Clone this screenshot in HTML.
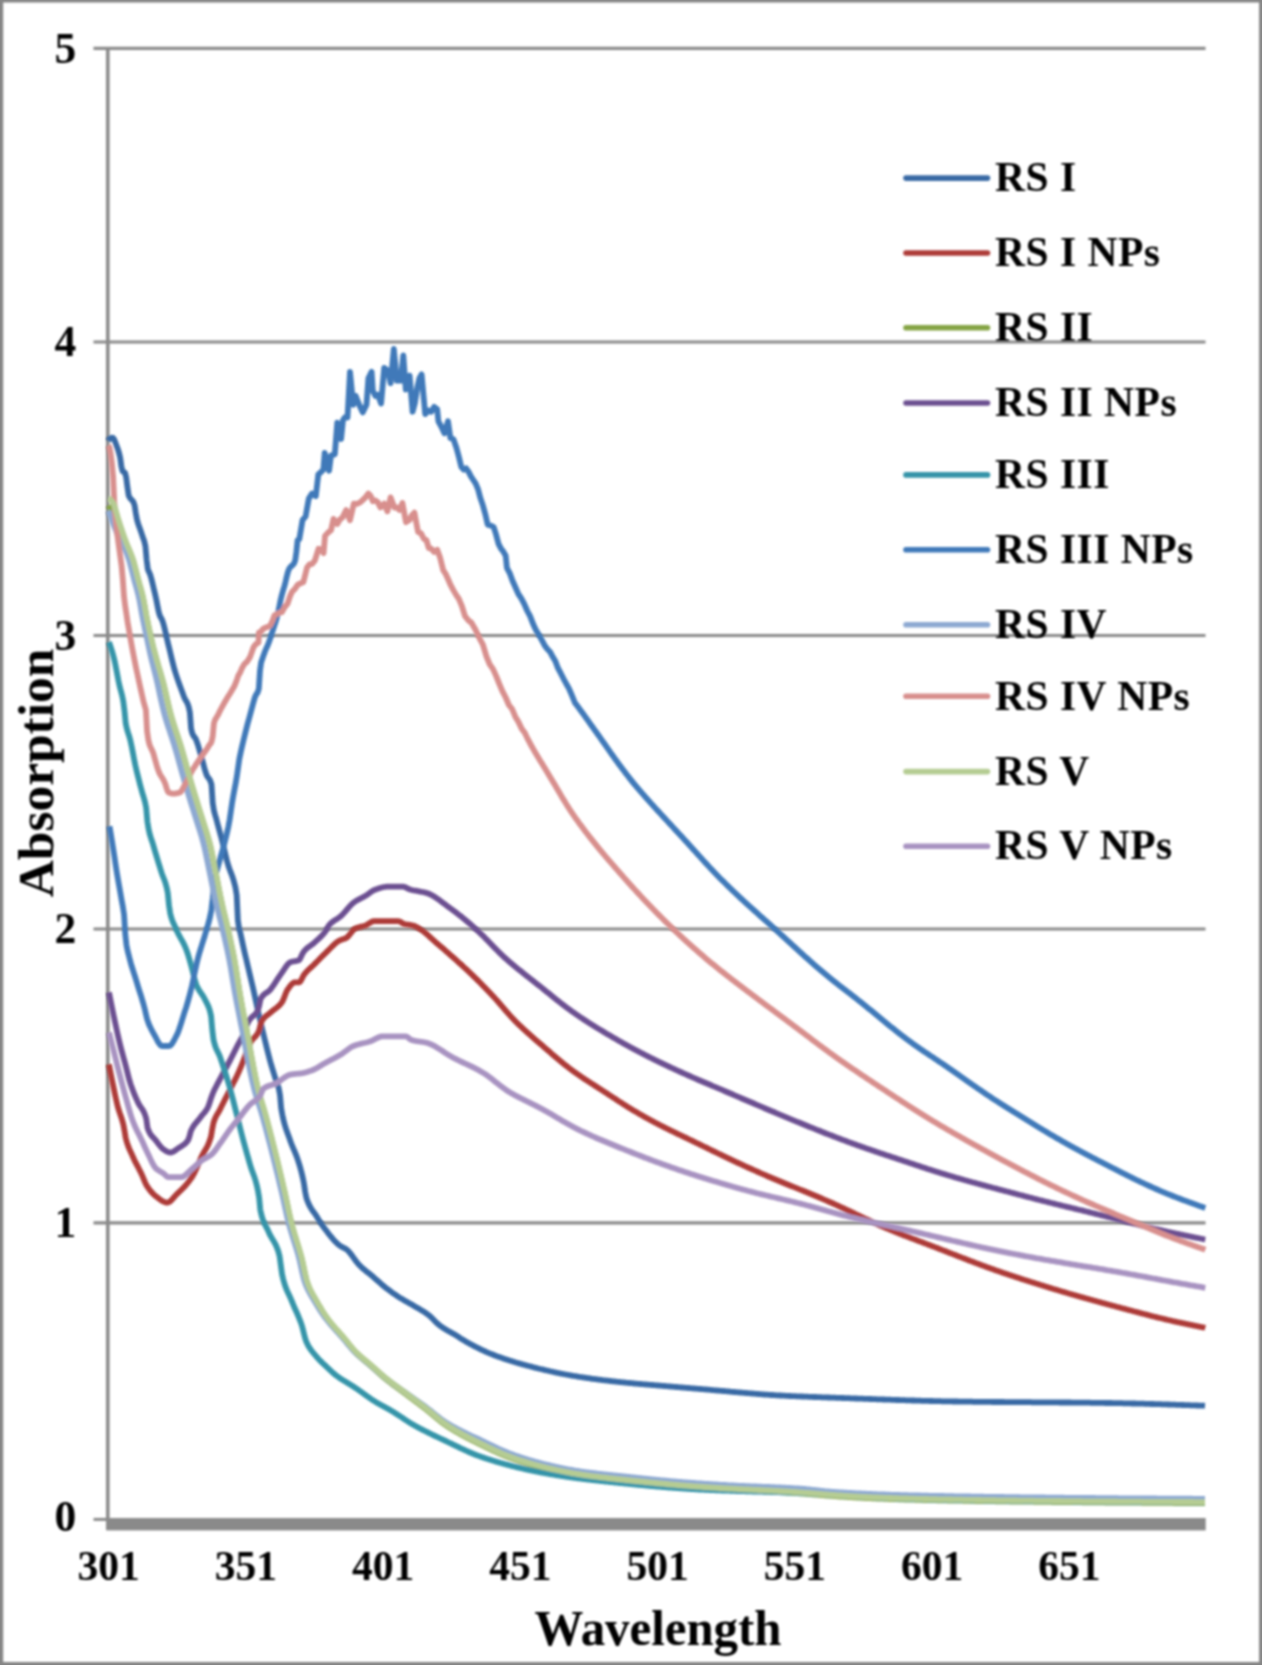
<!DOCTYPE html>
<html><head><meta charset="utf-8"><title>Absorption spectra</title>
<style>html,body{margin:0;padding:0;background:#fff;}body{width:1262px;height:1665px;overflow:hidden;font-family:"Liberation Serif",serif;}svg{display:block;}text{font-family:"Liberation Serif",serif;font-weight:bold;fill:#000;}</style>
</head><body>
<svg width="1262" height="1665" viewBox="0 0 1262 1665">
<defs><filter id="b" x="-2%" y="-2%" width="104%" height="104%"><feGaussianBlur stdDeviation="0.9"/></filter><filter id="c" x="-2%" y="-2%" width="104%" height="104%"><feGaussianBlur stdDeviation="0.9"/></filter></defs>
<rect x="0" y="0" width="1262" height="1665" fill="#ffffff"/>
<g filter="url(#b)">
<path fill="#858585" fill-rule="evenodd" d="M-20,-20H1282V1685H-20Z M3.2,2.5V1662H1259.1V2.5Z"/>
<line x1="93.5" y1="48.3" x2="1205.5" y2="48.3" stroke="#8a8a8a" stroke-width="3.2"/>
<line x1="93.5" y1="342.0" x2="1205.5" y2="342.0" stroke="#8a8a8a" stroke-width="3.2"/>
<line x1="93.5" y1="635.5" x2="1205.5" y2="635.5" stroke="#8a8a8a" stroke-width="3.2"/>
<line x1="93.5" y1="929.0" x2="1205.5" y2="929.0" stroke="#8a8a8a" stroke-width="3.2"/>
<line x1="93.5" y1="1222.9" x2="1205.5" y2="1222.9" stroke="#8a8a8a" stroke-width="3.2"/>
<line x1="93.5" y1="1519.4" x2="108" y2="1519.4" stroke="#8a8a8a" stroke-width="3.0"/>
<line x1="107.8" y1="47" x2="107.8" y2="1530" stroke="#8a8a8a" stroke-width="3.6"/>
<rect x="106.3" y="1518" width="1099.4" height="12.4" fill="#8a8a8a"/>
</g>
<g filter="url(#c)">
<polyline fill="none" stroke="#3969A4" stroke-width="5.8" stroke-linejoin="round" stroke-linecap="butt" points="108.2,440.9 109.4,439.0 110.6,438.0 111.8,437.7 113.0,437.8 114.2,439.5 115.4,442.5 116.6,445.7 117.8,448.9 119.0,452.8 120.2,457.6 121.4,466.5 122.6,471.2 123.8,472.0 125.0,472.7 126.2,477.3 127.4,486.9 128.6,495.2 129.8,497.7 131.0,499.2 132.2,500.3 133.4,502.0 134.6,505.4 135.8,513.2 137.0,519.8 138.2,523.9 139.4,527.3 140.6,530.5 141.8,534.2 143.0,537.7 144.2,541.0 145.4,546.1 146.6,559.5 147.8,569.1 149.0,572.1 150.2,574.6 151.4,578.7 152.6,583.6 153.8,588.8 155.1,594.2 156.3,599.6 157.5,605.9 158.7,611.8 159.9,615.8 161.1,618.0 162.3,620.4 163.5,624.1 164.7,628.8 165.9,634.0 167.1,639.3 168.3,644.5 169.5,649.3 170.7,654.4 171.9,659.5 173.1,664.3 174.3,668.9 175.5,672.9 176.7,676.6 177.9,680.1 179.1,683.4 180.3,686.7 181.5,689.9 182.7,693.2 183.9,696.6 185.1,699.2 186.3,701.2 187.5,703.5 188.7,706.9 189.9,712.5 191.1,728.8 192.3,733.5 193.5,735.9 194.7,737.4 195.9,739.2 197.1,742.4 198.3,746.2 199.5,750.3 200.7,754.5 201.9,758.7 203.1,763.1 204.3,767.7 205.5,771.8 206.7,775.2 207.9,777.3 209.1,778.8 210.3,780.8 211.5,784.4 212.7,803.0 213.9,810.4 215.1,815.0 216.3,818.9 217.5,823.6 218.7,828.0 219.9,832.4 221.1,836.8 222.3,841.5 223.5,846.4 224.7,851.5 225.9,856.5 227.1,861.3 228.3,865.5 229.5,869.0 230.7,872.1 231.9,875.2 233.1,878.7 234.3,883.1 235.5,887.8 236.7,895.1 237.9,920.5 239.1,928.5 240.3,932.6 241.5,938.2 242.7,943.8 243.9,949.3 245.1,954.6 246.4,959.9 247.6,965.1 248.8,970.2 250.0,975.2 251.2,980.3 252.4,985.4 253.6,990.7 254.8,996.1 256.0,1001.7 257.2,1007.2 258.4,1012.6 259.6,1017.9 260.8,1023.0 262.0,1028.1 263.2,1033.1 264.4,1038.1 265.6,1043.0 266.8,1048.0 268.0,1052.8 269.2,1057.5 270.4,1062.0 271.6,1066.1 272.8,1070.1 274.0,1074.0 275.2,1077.8 276.4,1081.6 277.6,1084.7 278.8,1088.4 280.0,1095.1 281.2,1108.5 282.4,1115.1 283.6,1120.5 284.8,1125.0 286.0,1128.9 287.2,1132.3 288.4,1135.5 289.6,1138.8 290.8,1142.2 292.0,1145.3 293.2,1148.2 294.4,1150.9 295.6,1153.8 296.8,1156.9 298.0,1160.4 299.2,1164.2 300.4,1168.2 301.6,1172.7 302.8,1177.7 304.0,1183.8 305.2,1192.0 306.4,1198.0 307.6,1201.3 308.8,1204.1 310.0,1206.5 311.2,1208.5 312.4,1210.4 313.6,1212.0 314.8,1213.7 316.0,1215.4 317.2,1217.3 318.4,1219.3 319.6,1221.2 320.8,1223.0 322.0,1224.8 323.2,1226.5 324.4,1228.2 325.6,1229.8 326.8,1231.3 328.0,1232.9 329.2,1234.5 330.4,1236.0 331.6,1237.4 332.8,1238.9 334.0,1240.2 335.2,1241.5 336.4,1242.7 337.7,1243.9 338.9,1244.9 340.1,1245.8 341.3,1246.6 342.5,1247.2 343.7,1247.8 344.9,1248.4 346.1,1249.1 347.3,1250.0 348.5,1251.2 349.7,1252.6 350.9,1254.1 352.1,1255.7 353.3,1257.4 354.5,1259.1 355.7,1260.7 356.9,1262.3 358.1,1263.8 359.3,1265.1 360.5,1266.2 361.7,1267.4 362.9,1268.4 364.1,1269.5 365.3,1270.4 366.5,1271.4 367.7,1272.4 368.9,1273.3 370.1,1274.3 371.3,1275.3 372.5,1276.3 373.7,1277.3 374.9,1278.4 376.1,1279.4 377.3,1280.5 378.5,1281.6 379.7,1282.6 380.9,1283.7 382.1,1284.7 383.3,1285.7 384.5,1286.7 385.7,1287.7 386.9,1288.6 388.1,1289.5 389.3,1290.4 390.5,1291.3 391.7,1292.2 392.9,1293.1 394.1,1293.9 395.3,1294.7 396.5,1295.5 397.7,1296.3 398.9,1297.1 400.1,1297.9 401.3,1298.6 402.5,1299.3 403.7,1300.0 404.9,1300.7 406.1,1301.4 407.3,1302.0 408.5,1302.7 409.7,1303.4 410.9,1304.1 412.1,1304.7 413.3,1305.5 414.5,1306.2 415.7,1306.9 416.9,1307.6 418.1,1308.2 419.3,1308.9 420.5,1309.7 421.7,1310.4 422.9,1311.1 424.1,1311.9 425.3,1312.7 426.5,1313.5 427.7,1314.4 429.0,1315.3 430.2,1316.4 431.4,1317.5 432.6,1318.7 433.8,1319.9 435.0,1321.2 436.2,1322.4 437.4,1323.5 438.6,1324.6 439.8,1325.6 441.0,1326.4 442.2,1327.3 443.4,1328.0 444.6,1328.8 445.8,1329.5 447.0,1330.2 448.2,1330.9 449.4,1331.6 450.6,1332.2 451.8,1332.9 453.0,1333.6 454.2,1334.2 455.4,1334.9 456.6,1335.7 457.8,1336.4 459.0,1337.2 460.2,1338.1 461.4,1338.9 462.6,1339.6 463.8,1340.3 465.0,1341.0 466.2,1341.7 467.4,1342.4 468.6,1343.1 469.8,1343.8 471.0,1344.4 472.2,1345.0 473.4,1345.7 474.6,1346.3 475.8,1346.9 477.0,1347.5 478.2,1348.1 479.4,1348.7 480.6,1349.3 481.8,1349.9 483.0,1350.4 484.2,1351.0 485.4,1351.5 486.6,1352.1 487.8,1352.6 489.0,1353.1 490.2,1353.6 491.4,1354.1 492.6,1354.5 493.8,1355.0 495.0,1355.5 496.2,1355.9 497.4,1356.4 498.6,1356.8 499.8,1357.2 501.0,1357.6 502.2,1358.1 503.4,1358.5 504.6,1358.9 505.8,1359.3 507.0,1359.7 508.2,1360.1 509.4,1360.5 510.6,1360.8 511.8,1361.2 513.0,1361.6 514.2,1362.0 515.4,1362.3 516.6,1362.7 517.8,1363.0 519.0,1363.4 520.3,1363.7 521.5,1364.1 522.7,1364.4 523.9,1364.7 525.1,1365.0 526.3,1365.4 527.5,1365.7 528.7,1366.0 529.9,1366.3 531.1,1366.6 532.3,1366.9 533.5,1367.3 534.7,1367.6 535.9,1367.9 537.1,1368.2 538.3,1368.5 539.5,1368.8 540.7,1369.0 541.9,1369.3 543.1,1369.6 544.3,1369.9 545.5,1370.2 546.7,1370.5 547.9,1370.7 549.1,1371.0 550.3,1371.3 551.5,1371.5 552.7,1371.8 553.9,1372.1 555.1,1372.3 556.3,1372.6 557.5,1372.8 558.7,1373.1 559.9,1373.3 561.1,1373.6 562.3,1373.8 563.5,1374.0 564.7,1374.3 565.9,1374.5 567.1,1374.7 568.3,1375.0 569.5,1375.2 570.7,1375.4 571.9,1375.6 573.1,1375.8 574.3,1376.0 575.5,1376.2 576.7,1376.4 577.9,1376.6 579.1,1376.8 580.3,1377.0 581.5,1377.2 582.7,1377.4 583.9,1377.5 585.1,1377.7 586.3,1377.9 587.5,1378.1 588.7,1378.2 589.9,1378.4 591.1,1378.6 592.3,1378.8 593.5,1378.9 594.7,1379.1 595.9,1379.2 597.1,1379.4 598.3,1379.6 599.5,1379.7 600.7,1379.9 601.9,1380.0 603.1,1380.2 604.3,1380.3 605.5,1380.4 606.7,1380.6 607.9,1380.7 609.1,1380.9 610.3,1381.0 611.6,1381.1 612.8,1381.3 614.0,1381.4 615.2,1381.5 616.4,1381.7 617.6,1381.8 618.8,1381.9 620.0,1382.1 621.2,1382.2 622.4,1382.3 623.6,1382.4 624.8,1382.5 626.0,1382.7 627.2,1382.8 628.4,1382.9 629.6,1383.0 630.8,1383.1 632.0,1383.2 633.2,1383.4 634.4,1383.5 635.6,1383.6 636.8,1383.7 638.0,1383.8 639.2,1383.9 640.4,1384.0 641.6,1384.1 642.8,1384.2 644.0,1384.3 645.2,1384.4 646.4,1384.5 647.6,1384.6 648.8,1384.7 650.0,1384.8 651.2,1384.9 652.4,1385.0 653.6,1385.1 654.8,1385.2 656.0,1385.3 657.2,1385.4 658.4,1385.5 659.6,1385.6 660.8,1385.7 662.0,1385.8 663.2,1385.9 664.4,1386.0 665.6,1386.1 666.8,1386.2 668.0,1386.3 669.2,1386.4 670.4,1386.5 671.6,1386.6 672.8,1386.7 674.0,1386.8 675.2,1386.9 676.4,1387.0 677.6,1387.1 678.8,1387.2 680.0,1387.3 681.2,1387.4 682.4,1387.5 683.6,1387.6 684.8,1387.7 686.0,1387.8 687.2,1387.9 688.4,1388.0 689.6,1388.1 690.8,1388.2 692.0,1388.3 693.2,1388.4 694.4,1388.5 695.6,1388.6 696.8,1388.7 698.0,1388.8 699.2,1388.9 700.4,1389.0 701.6,1389.1 702.9,1389.2 704.1,1389.3 705.3,1389.4 706.5,1389.5 707.7,1389.6 708.9,1389.7 710.1,1389.8 711.3,1390.0 712.5,1390.1 713.7,1390.2 714.9,1390.3 716.1,1390.4 717.3,1390.5 718.5,1390.6 719.7,1390.7 720.9,1390.8 722.1,1390.9 723.3,1391.0 724.5,1391.1 725.7,1391.2 726.9,1391.3 728.1,1391.4 729.3,1391.5 730.5,1391.7 731.7,1391.8 732.9,1391.9 734.1,1392.0 735.3,1392.1 736.5,1392.2 737.7,1392.3 738.9,1392.4 740.1,1392.5 741.3,1392.6 742.5,1392.7 743.7,1392.8 744.9,1392.9 746.1,1393.0 747.3,1393.1 748.5,1393.2 749.7,1393.3 750.9,1393.4 752.1,1393.5 753.3,1393.6 754.5,1393.7 755.7,1393.8 756.9,1393.9 758.1,1394.0 759.3,1394.1 760.5,1394.2 761.7,1394.3 762.9,1394.4 764.1,1394.5 765.3,1394.6 766.5,1394.6 767.7,1394.7 768.9,1394.8 770.1,1394.9 771.3,1395.0 772.5,1395.0 773.7,1395.1 774.9,1395.2 776.1,1395.3 777.3,1395.3 778.5,1395.4 779.7,1395.5 780.9,1395.5 782.1,1395.6 783.3,1395.7 784.5,1395.7 785.7,1395.8 786.9,1395.9 788.1,1395.9 789.3,1396.0 790.5,1396.0 791.7,1396.1 792.9,1396.1 794.2,1396.2 795.4,1396.2 796.6,1396.3 797.8,1396.3 799.0,1396.4 800.2,1396.4 801.4,1396.5 802.6,1396.5 803.8,1396.6 805.0,1396.6 806.2,1396.7 807.4,1396.7 808.6,1396.8 809.8,1396.8 811.0,1396.9 812.2,1396.9 813.4,1397.0 814.6,1397.0 815.8,1397.0 817.0,1397.1 818.2,1397.1 819.4,1397.2 820.6,1397.2 821.8,1397.3 823.0,1397.3 824.2,1397.3 825.4,1397.4 826.6,1397.4 827.8,1397.5 829.0,1397.5 830.2,1397.6 831.4,1397.6 832.6,1397.6 833.8,1397.7 835.0,1397.7 836.2,1397.8 837.4,1397.8 838.6,1397.9 839.8,1397.9 841.0,1397.9 842.2,1398.0 843.4,1398.0 844.6,1398.1 845.8,1398.1 847.0,1398.2 848.2,1398.2 849.4,1398.2 850.6,1398.3 851.8,1398.3 853.0,1398.4 854.2,1398.4 855.4,1398.5 856.6,1398.5 857.8,1398.6 859.0,1398.6 860.2,1398.6 861.4,1398.7 862.6,1398.7 863.8,1398.8 865.0,1398.8 866.2,1398.9 867.4,1398.9 868.6,1398.9 869.8,1399.0 871.0,1399.0 872.2,1399.1 873.4,1399.1 874.6,1399.2 875.8,1399.2 877.0,1399.3 878.2,1399.3 879.4,1399.3 880.6,1399.4 881.8,1399.4 883.0,1399.5 884.2,1399.5 885.5,1399.6 886.7,1399.6 887.9,1399.7 889.1,1399.7 890.3,1399.7 891.5,1399.8 892.7,1399.8 893.9,1399.9 895.1,1399.9 896.3,1400.0 897.5,1400.0 898.7,1400.0 899.9,1400.1 901.1,1400.1 902.3,1400.2 903.5,1400.2 904.7,1400.2 905.9,1400.3 907.1,1400.3 908.3,1400.4 909.5,1400.4 910.7,1400.4 911.9,1400.5 913.1,1400.5 914.3,1400.5 915.5,1400.6 916.7,1400.6 917.9,1400.7 919.1,1400.7 920.3,1400.7 921.5,1400.8 922.7,1400.8 923.9,1400.8 925.1,1400.9 926.3,1400.9 927.5,1400.9 928.7,1400.9 929.9,1401.0 931.1,1401.0 932.3,1401.0 933.5,1401.1 934.7,1401.1 935.9,1401.1 937.1,1401.2 938.3,1401.2 939.5,1401.2 940.7,1401.2 941.9,1401.3 943.1,1401.3 944.3,1401.3 945.5,1401.3 946.7,1401.4 947.9,1401.4 949.1,1401.4 950.3,1401.4 951.5,1401.4 952.7,1401.5 953.9,1401.5 955.1,1401.5 956.3,1401.5 957.5,1401.5 958.7,1401.6 959.9,1401.6 961.1,1401.6 962.3,1401.6 963.5,1401.6 964.7,1401.6 965.9,1401.7 967.1,1401.7 968.3,1401.7 969.5,1401.7 970.7,1401.7 971.9,1401.7 973.1,1401.8 974.3,1401.8 975.5,1401.8 976.8,1401.8 978.0,1401.8 979.2,1401.8 980.4,1401.8 981.6,1401.8 982.8,1401.9 984.0,1401.9 985.2,1401.9 986.4,1401.9 987.6,1401.9 988.8,1401.9 990.0,1401.9 991.2,1401.9 992.4,1402.0 993.6,1402.0 994.8,1402.0 996.0,1402.0 997.2,1402.0 998.4,1402.0 999.6,1402.0 1000.8,1402.0 1002.0,1402.0 1003.2,1402.0 1004.4,1402.1 1005.6,1402.1 1006.8,1402.1 1008.0,1402.1 1009.2,1402.1 1010.4,1402.1 1011.6,1402.1 1012.8,1402.1 1014.0,1402.1 1015.2,1402.1 1016.4,1402.1 1017.6,1402.2 1018.8,1402.2 1020.0,1402.2 1021.2,1402.2 1022.4,1402.2 1023.6,1402.2 1024.8,1402.2 1026.0,1402.2 1027.2,1402.2 1028.4,1402.2 1029.6,1402.2 1030.8,1402.2 1032.0,1402.3 1033.2,1402.3 1034.4,1402.3 1035.6,1402.3 1036.8,1402.3 1038.0,1402.3 1039.2,1402.3 1040.4,1402.3 1041.6,1402.3 1042.8,1402.3 1044.0,1402.3 1045.2,1402.3 1046.4,1402.4 1047.6,1402.4 1048.8,1402.4 1050.0,1402.4 1051.2,1402.4 1052.4,1402.4 1053.6,1402.4 1054.8,1402.4 1056.0,1402.4 1057.2,1402.4 1058.4,1402.4 1059.6,1402.5 1060.8,1402.5 1062.0,1402.5 1063.2,1402.5 1064.4,1402.5 1065.6,1402.5 1066.8,1402.5 1068.1,1402.5 1069.3,1402.5 1070.5,1402.5 1071.7,1402.6 1072.9,1402.6 1074.1,1402.6 1075.3,1402.6 1076.5,1402.6 1077.7,1402.6 1078.9,1402.6 1080.1,1402.6 1081.3,1402.7 1082.5,1402.7 1083.7,1402.7 1084.9,1402.7 1086.1,1402.7 1087.3,1402.7 1088.5,1402.7 1089.7,1402.7 1090.9,1402.8 1092.1,1402.8 1093.3,1402.8 1094.5,1402.8 1095.7,1402.8 1096.9,1402.8 1098.1,1402.8 1099.3,1402.9 1100.5,1402.9 1101.7,1402.9 1102.9,1402.9 1104.1,1402.9 1105.3,1403.0 1106.5,1403.0 1107.7,1403.0 1108.9,1403.0 1110.1,1403.0 1111.3,1403.0 1112.5,1403.1 1113.7,1403.1 1114.9,1403.1 1116.1,1403.1 1117.3,1403.2 1118.5,1403.2 1119.7,1403.2 1120.9,1403.2 1122.1,1403.2 1123.3,1403.3 1124.5,1403.3 1125.7,1403.3 1126.9,1403.3 1128.1,1403.4 1129.3,1403.4 1130.5,1403.4 1131.7,1403.5 1132.9,1403.5 1134.1,1403.5 1135.3,1403.5 1136.5,1403.6 1137.7,1403.6 1138.9,1403.6 1140.1,1403.7 1141.3,1403.7 1142.5,1403.7 1143.7,1403.7 1144.9,1403.8 1146.1,1403.8 1147.3,1403.8 1148.5,1403.9 1149.7,1403.9 1150.9,1404.0 1152.1,1404.0 1153.3,1404.0 1154.5,1404.1 1155.7,1404.1 1156.9,1404.1 1158.1,1404.2 1159.4,1404.2 1160.6,1404.2 1161.8,1404.3 1163.0,1404.3 1164.2,1404.4 1165.4,1404.4 1166.6,1404.4 1167.8,1404.5 1169.0,1404.5 1170.2,1404.6 1171.4,1404.6 1172.6,1404.6 1173.8,1404.7 1175.0,1404.7 1176.2,1404.8 1177.4,1404.8 1178.6,1404.8 1179.8,1404.9 1181.0,1404.9 1182.2,1405.0 1183.4,1405.0 1184.6,1405.1 1185.8,1405.1 1187.0,1405.1 1188.2,1405.2 1189.4,1405.2 1190.6,1405.3 1191.8,1405.3 1193.0,1405.4 1194.2,1405.4 1195.4,1405.4 1196.6,1405.5 1197.8,1405.5 1199.0,1405.6 1200.2,1405.6 1201.4,1405.7 1202.6,1405.7 1203.8,1405.7 1205.0,1405.8"/>
<polyline fill="none" stroke="#AD3B37" stroke-width="5.8" stroke-linejoin="round" stroke-linecap="butt" points="108.9,1064.4 110.1,1070.6 111.3,1076.6 112.5,1082.5 113.7,1088.2 114.9,1094.0 116.1,1099.5 117.3,1104.7 118.5,1109.2 119.7,1112.9 120.9,1116.3 122.1,1119.9 123.3,1124.3 124.5,1130.6 125.7,1138.0 126.9,1142.3 128.1,1145.9 129.3,1148.9 130.5,1151.6 131.7,1154.1 132.9,1156.8 134.1,1159.5 135.3,1162.0 136.6,1164.4 137.8,1166.7 139.0,1169.0 140.2,1171.3 141.4,1173.8 142.6,1176.4 143.8,1179.3 145.0,1182.2 146.2,1184.7 147.4,1186.7 148.6,1188.5 149.8,1190.1 151.0,1191.5 152.2,1192.9 153.4,1194.1 154.6,1195.2 155.8,1196.2 157.0,1197.1 158.2,1198.1 159.4,1199.0 160.6,1199.9 161.8,1200.7 163.0,1201.4 164.2,1201.9 165.4,1202.4 166.6,1202.6 167.8,1202.5 169.0,1202.1 170.2,1201.3 171.4,1200.2 172.6,1198.9 173.8,1197.5 175.0,1196.1 176.2,1194.8 177.4,1193.6 178.6,1192.5 179.8,1191.3 181.0,1190.2 182.2,1189.0 183.4,1187.8 184.6,1186.6 185.8,1185.2 187.0,1183.8 188.2,1182.3 189.4,1180.7 190.6,1179.0 191.9,1177.2 193.1,1175.2 194.3,1173.0 195.5,1170.5 196.7,1167.9 197.9,1165.1 199.1,1162.3 200.3,1159.5 201.5,1156.8 202.7,1154.4 203.9,1152.3 205.1,1150.3 206.3,1148.3 207.5,1146.0 208.7,1143.3 209.9,1140.1 211.1,1136.1 212.3,1128.8 213.5,1122.7 214.7,1119.2 215.9,1116.6 217.1,1114.4 218.3,1112.4 219.5,1110.4 220.7,1108.1 221.9,1105.6 223.1,1103.2 224.3,1100.8 225.5,1098.4 226.7,1096.1 227.9,1093.7 229.1,1091.4 230.3,1089.0 231.5,1086.7 232.7,1084.3 233.9,1082.0 235.1,1079.6 236.3,1077.2 237.5,1074.6 238.7,1072.0 239.9,1069.2 241.1,1066.3 242.3,1063.4 243.5,1060.4 244.7,1057.4 245.9,1054.0 247.2,1050.4 248.4,1047.0 249.6,1044.0 250.8,1041.8 252.0,1040.1 253.2,1038.7 254.4,1037.5 255.6,1036.2 256.8,1034.7 258.0,1032.8 259.2,1030.1 260.4,1025.2 261.6,1021.3 262.8,1019.5 264.0,1018.0 265.2,1016.8 266.4,1015.8 267.6,1014.9 268.8,1014.0 270.0,1013.0 271.2,1011.9 272.4,1010.9 273.6,1010.0 274.8,1009.1 276.0,1008.2 277.2,1007.3 278.4,1006.3 279.6,1005.1 280.8,1003.8 282.0,1002.3 283.2,999.9 284.4,996.9 285.6,993.7 286.8,990.9 288.0,989.0 289.2,987.3 290.4,985.7 291.6,984.3 292.8,983.2 294.0,982.5 295.2,982.4 296.4,982.4 297.6,982.4 298.8,982.4 300.0,981.8 301.3,979.9 302.5,977.4 303.7,975.1 304.9,973.6 306.1,972.2 307.3,970.9 308.5,969.7 309.7,968.6 310.9,967.5 312.1,966.4 313.3,965.3 314.5,964.1 315.7,962.9 316.9,961.7 318.1,960.5 319.3,959.3 320.5,958.0 321.7,956.8 322.9,955.6 324.1,954.4 325.3,953.3 326.5,952.1 327.7,950.9 328.9,949.7 330.1,948.5 331.3,947.3 332.5,946.1 333.7,944.9 334.9,943.8 336.1,942.8 337.3,941.9 338.5,941.1 339.7,940.4 340.9,939.9 342.1,939.5 343.3,939.1 344.5,938.7 345.7,938.2 346.9,937.5 348.1,936.4 349.3,935.0 350.5,933.5 351.7,931.9 352.9,930.4 354.1,929.2 355.3,928.4 356.6,927.9 357.8,927.5 359.0,927.2 360.2,926.9 361.4,926.6 362.6,926.3 363.8,926.0 365.0,925.7 366.2,925.2 367.4,924.5 368.6,923.7 369.8,922.9 371.0,922.2 372.2,921.6 373.4,921.2 374.6,921.2 375.8,921.2 377.0,921.2 378.2,921.2 379.4,921.2 380.6,921.2 381.8,921.2 383.0,921.2 384.2,921.2 385.4,921.2 386.6,921.2 387.8,921.2 389.0,921.2 390.2,921.2 391.4,921.2 392.6,921.2 393.8,921.2 395.0,921.2 396.2,921.2 397.4,921.2 398.6,921.2 399.8,921.5 401.0,922.2 402.2,923.0 403.4,923.7 404.6,924.1 405.8,924.3 407.0,924.5 408.2,924.7 409.4,924.9 410.7,925.0 411.9,925.3 413.1,925.5 414.3,926.0 415.5,926.5 416.7,927.1 417.9,927.8 419.1,928.5 420.3,929.3 421.5,930.1 422.7,930.9 423.9,931.8 425.1,932.8 426.3,933.8 427.5,934.8 428.7,935.9 429.9,937.0 431.1,938.1 432.3,939.2 433.5,940.2 434.7,941.3 435.9,942.4 437.1,943.4 438.3,944.5 439.5,945.5 440.7,946.5 441.9,947.6 443.1,948.6 444.3,949.6 445.5,950.7 446.7,951.7 447.9,952.8 449.1,953.8 450.3,954.9 451.5,955.9 452.7,957.0 453.9,958.0 455.1,959.1 456.3,960.2 457.5,961.3 458.7,962.4 459.9,963.4 461.1,964.5 462.3,965.6 463.5,966.8 464.7,967.9 466.0,969.0 467.2,970.1 468.4,971.3 469.6,972.4 470.8,973.6 472.0,974.7 473.2,975.9 474.4,977.1 475.6,978.2 476.8,979.4 478.0,980.6 479.2,981.8 480.4,983.0 481.6,984.2 482.8,985.5 484.0,986.7 485.2,987.9 486.4,989.2 487.6,990.4 488.8,991.7 490.0,992.9 491.2,994.2 492.4,995.5 493.6,996.7 494.8,998.1 496.0,999.4 497.2,1000.7 498.4,1002.1 499.6,1003.5 500.8,1004.9 502.0,1006.3 503.2,1007.7 504.4,1009.1 505.6,1010.5 506.8,1011.9 508.0,1013.2 509.2,1014.6 510.4,1015.9 511.6,1017.3 512.8,1018.5 514.0,1019.8 515.2,1021.1 516.4,1022.3 517.6,1023.5 518.8,1024.6 520.0,1025.8 521.3,1026.9 522.5,1028.1 523.7,1029.2 524.9,1030.3 526.1,1031.4 527.3,1032.5 528.5,1033.6 529.7,1034.6 530.9,1035.7 532.1,1036.8 533.3,1037.8 534.5,1038.9 535.7,1039.9 536.9,1041.0 538.1,1042.0 539.3,1043.0 540.5,1044.1 541.7,1045.1 542.9,1046.1 544.1,1047.2 545.3,1048.2 546.5,1049.2 547.7,1050.3 548.9,1051.3 550.1,1052.3 551.3,1053.4 552.5,1054.4 553.7,1055.4 554.9,1056.5 556.1,1057.5 557.3,1058.5 558.5,1059.5 559.7,1060.5 560.9,1061.5 562.1,1062.5 563.3,1063.5 564.5,1064.4 565.7,1065.4 566.9,1066.3 568.1,1067.3 569.3,1068.2 570.5,1069.1 571.7,1070.0 572.9,1070.9 574.1,1071.8 575.4,1072.7 576.6,1073.5 577.8,1074.4 579.0,1075.2 580.2,1076.0 581.4,1076.9 582.6,1077.7 583.8,1078.5 585.0,1079.3 586.2,1080.1 587.4,1080.8 588.6,1081.6 589.8,1082.4 591.0,1083.2 592.2,1083.9 593.4,1084.7 594.6,1085.5 595.8,1086.3 597.0,1087.0 598.2,1087.8 599.4,1088.6 600.6,1089.3 601.8,1090.1 603.0,1090.9 604.2,1091.7 605.4,1092.4 606.6,1093.2 607.8,1094.0 609.0,1094.8 610.2,1095.6 611.4,1096.4 612.6,1097.2 613.8,1097.9 615.0,1098.7 616.2,1099.5 617.4,1100.3 618.6,1101.1 619.8,1101.9 621.0,1102.6 622.2,1103.4 623.4,1104.2 624.6,1104.9 625.8,1105.7 627.0,1106.5 628.2,1107.2 629.4,1108.0 630.7,1108.7 631.9,1109.5 633.1,1110.2 634.3,1110.9 635.5,1111.6 636.7,1112.3 637.9,1113.0 639.1,1113.7 640.3,1114.4 641.5,1115.1 642.7,1115.8 643.9,1116.5 645.1,1117.2 646.3,1117.8 647.5,1118.5 648.7,1119.1 649.9,1119.8 651.1,1120.4 652.3,1121.1 653.5,1121.7 654.7,1122.4 655.9,1123.0 657.1,1123.6 658.3,1124.2 659.5,1124.9 660.7,1125.5 661.9,1126.1 663.1,1126.7 664.3,1127.3 665.5,1127.9 666.7,1128.5 667.9,1129.1 669.1,1129.7 670.3,1130.3 671.5,1130.9 672.7,1131.4 673.9,1132.0 675.1,1132.6 676.3,1133.2 677.5,1133.8 678.7,1134.4 679.9,1134.9 681.1,1135.5 682.3,1136.1 683.5,1136.7 684.8,1137.3 686.0,1137.8 687.2,1138.4 688.4,1139.0 689.6,1139.6 690.8,1140.1 692.0,1140.7 693.2,1141.3 694.4,1141.9 695.6,1142.5 696.8,1143.1 698.0,1143.6 699.2,1144.2 700.4,1144.8 701.6,1145.4 702.8,1146.0 704.0,1146.6 705.2,1147.1 706.4,1147.7 707.6,1148.3 708.8,1148.9 710.0,1149.5 711.2,1150.1 712.4,1150.7 713.6,1151.2 714.8,1151.8 716.0,1152.4 717.2,1153.0 718.4,1153.6 719.6,1154.1 720.8,1154.7 722.0,1155.3 723.2,1155.9 724.4,1156.5 725.6,1157.0 726.8,1157.6 728.0,1158.2 729.2,1158.8 730.4,1159.3 731.6,1159.9 732.8,1160.5 734.0,1161.0 735.2,1161.6 736.4,1162.2 737.6,1162.7 738.8,1163.3 740.1,1163.8 741.3,1164.4 742.5,1165.0 743.7,1165.5 744.9,1166.1 746.1,1166.6 747.3,1167.2 748.5,1167.7 749.7,1168.2 750.9,1168.8 752.1,1169.3 753.3,1169.9 754.5,1170.4 755.7,1170.9 756.9,1171.5 758.1,1172.0 759.3,1172.5 760.5,1173.1 761.7,1173.6 762.9,1174.1 764.1,1174.6 765.3,1175.1 766.5,1175.7 767.7,1176.2 768.9,1176.7 770.1,1177.2 771.3,1177.7 772.5,1178.2 773.7,1178.7 774.9,1179.2 776.1,1179.7 777.3,1180.2 778.5,1180.7 779.7,1181.2 780.9,1181.7 782.1,1182.2 783.3,1182.7 784.5,1183.2 785.7,1183.7 786.9,1184.2 788.1,1184.7 789.3,1185.2 790.5,1185.7 791.7,1186.2 792.9,1186.6 794.1,1187.1 795.4,1187.6 796.6,1188.1 797.8,1188.6 799.0,1189.1 800.2,1189.6 801.4,1190.1 802.6,1190.5 803.8,1191.0 805.0,1191.5 806.2,1192.0 807.4,1192.5 808.6,1193.0 809.8,1193.5 811.0,1194.0 812.2,1194.5 813.4,1195.0 814.6,1195.5 815.8,1196.0 817.0,1196.5 818.2,1197.0 819.4,1197.5 820.6,1198.0 821.8,1198.5 823.0,1199.1 824.2,1199.6 825.4,1200.1 826.6,1200.6 827.8,1201.2 829.0,1201.7 830.2,1202.2 831.4,1202.8 832.6,1203.3 833.8,1203.8 835.0,1204.4 836.2,1204.9 837.4,1205.5 838.6,1206.0 839.8,1206.6 841.0,1207.2 842.2,1207.7 843.4,1208.3 844.6,1208.8 845.8,1209.4 847.0,1210.0 848.2,1210.5 849.5,1211.1 850.7,1211.7 851.9,1212.3 853.1,1212.8 854.3,1213.4 855.5,1214.0 856.7,1214.6 857.9,1215.1 859.1,1215.7 860.3,1216.3 861.5,1216.9 862.7,1217.4 863.9,1218.0 865.1,1218.6 866.3,1219.1 867.5,1219.7 868.7,1220.3 869.9,1220.8 871.1,1221.4 872.3,1221.9 873.5,1222.5 874.7,1223.1 875.9,1223.6 877.1,1224.1 878.3,1224.7 879.5,1225.2 880.7,1225.7 881.9,1226.3 883.1,1226.8 884.3,1227.3 885.5,1227.8 886.7,1228.4 887.9,1228.9 889.1,1229.4 890.3,1229.9 891.5,1230.4 892.7,1230.9 893.9,1231.4 895.1,1231.9 896.3,1232.3 897.5,1232.8 898.7,1233.3 899.9,1233.8 901.1,1234.3 902.3,1234.7 903.5,1235.2 904.8,1235.7 906.0,1236.1 907.2,1236.6 908.4,1237.1 909.6,1237.5 910.8,1238.0 912.0,1238.4 913.2,1238.9 914.4,1239.3 915.6,1239.8 916.8,1240.3 918.0,1240.7 919.2,1241.2 920.4,1241.6 921.6,1242.1 922.8,1242.5 924.0,1243.0 925.2,1243.4 926.4,1243.9 927.6,1244.4 928.8,1244.8 930.0,1245.3 931.2,1245.7 932.4,1246.2 933.6,1246.6 934.8,1247.1 936.0,1247.6 937.2,1248.0 938.4,1248.5 939.6,1249.0 940.8,1249.4 942.0,1249.9 943.2,1250.4 944.4,1250.8 945.6,1251.3 946.8,1251.8 948.0,1252.2 949.2,1252.7 950.4,1253.2 951.6,1253.6 952.8,1254.1 954.0,1254.6 955.2,1255.0 956.4,1255.5 957.6,1256.0 958.9,1256.5 960.1,1256.9 961.3,1257.4 962.5,1257.9 963.7,1258.3 964.9,1258.8 966.1,1259.3 967.3,1259.7 968.5,1260.2 969.7,1260.7 970.9,1261.1 972.1,1261.6 973.3,1262.0 974.5,1262.5 975.7,1262.9 976.9,1263.4 978.1,1263.8 979.3,1264.3 980.5,1264.7 981.7,1265.2 982.9,1265.6 984.1,1266.1 985.3,1266.5 986.5,1267.0 987.7,1267.4 988.9,1267.8 990.1,1268.3 991.3,1268.7 992.5,1269.1 993.7,1269.5 994.9,1270.0 996.1,1270.4 997.3,1270.8 998.5,1271.2 999.7,1271.6 1000.9,1272.1 1002.1,1272.5 1003.3,1272.9 1004.5,1273.3 1005.7,1273.7 1006.9,1274.1 1008.1,1274.5 1009.3,1274.9 1010.5,1275.3 1011.7,1275.7 1012.9,1276.1 1014.2,1276.5 1015.4,1276.9 1016.6,1277.3 1017.8,1277.7 1019.0,1278.1 1020.2,1278.5 1021.4,1278.9 1022.6,1279.3 1023.8,1279.7 1025.0,1280.0 1026.2,1280.4 1027.4,1280.8 1028.6,1281.2 1029.8,1281.6 1031.0,1282.0 1032.2,1282.3 1033.4,1282.7 1034.6,1283.1 1035.8,1283.5 1037.0,1283.8 1038.2,1284.2 1039.4,1284.6 1040.6,1285.0 1041.8,1285.3 1043.0,1285.7 1044.2,1286.1 1045.4,1286.5 1046.6,1286.8 1047.8,1287.2 1049.0,1287.6 1050.2,1287.9 1051.4,1288.3 1052.6,1288.7 1053.8,1289.0 1055.0,1289.4 1056.2,1289.7 1057.4,1290.1 1058.6,1290.5 1059.8,1290.8 1061.0,1291.2 1062.2,1291.5 1063.4,1291.9 1064.6,1292.2 1065.8,1292.6 1067.0,1293.0 1068.2,1293.3 1069.5,1293.7 1070.7,1294.0 1071.9,1294.4 1073.1,1294.7 1074.3,1295.0 1075.5,1295.4 1076.7,1295.7 1077.9,1296.1 1079.1,1296.4 1080.3,1296.8 1081.5,1297.1 1082.7,1297.4 1083.9,1297.8 1085.1,1298.1 1086.3,1298.5 1087.5,1298.8 1088.7,1299.1 1089.9,1299.5 1091.1,1299.8 1092.3,1300.1 1093.5,1300.5 1094.7,1300.8 1095.9,1301.1 1097.1,1301.5 1098.3,1301.8 1099.5,1302.1 1100.7,1302.4 1101.9,1302.8 1103.1,1303.1 1104.3,1303.4 1105.5,1303.7 1106.7,1304.1 1107.9,1304.4 1109.1,1304.7 1110.3,1305.0 1111.5,1305.4 1112.7,1305.7 1113.9,1306.0 1115.1,1306.3 1116.3,1306.7 1117.5,1307.0 1118.7,1307.3 1119.9,1307.6 1121.1,1308.0 1122.3,1308.3 1123.6,1308.6 1124.8,1308.9 1126.0,1309.2 1127.2,1309.6 1128.4,1309.9 1129.6,1310.2 1130.8,1310.5 1132.0,1310.8 1133.2,1311.2 1134.4,1311.5 1135.6,1311.8 1136.8,1312.1 1138.0,1312.4 1139.2,1312.7 1140.4,1313.1 1141.6,1313.4 1142.8,1313.7 1144.0,1314.0 1145.2,1314.3 1146.4,1314.6 1147.6,1314.9 1148.8,1315.2 1150.0,1315.6 1151.2,1315.9 1152.4,1316.2 1153.6,1316.5 1154.8,1316.8 1156.0,1317.1 1157.2,1317.4 1158.4,1317.7 1159.6,1318.0 1160.8,1318.2 1162.0,1318.5 1163.2,1318.8 1164.4,1319.1 1165.6,1319.4 1166.8,1319.7 1168.0,1320.0 1169.2,1320.2 1170.4,1320.5 1171.6,1320.8 1172.8,1321.1 1174.0,1321.3 1175.2,1321.6 1176.4,1321.9 1177.6,1322.1 1178.9,1322.4 1180.1,1322.6 1181.3,1322.9 1182.5,1323.2 1183.7,1323.4 1184.9,1323.7 1186.1,1323.9 1187.3,1324.2 1188.5,1324.4 1189.7,1324.7 1190.9,1324.9 1192.1,1325.1 1193.3,1325.4 1194.5,1325.6 1195.7,1325.9 1196.9,1326.1 1198.1,1326.3 1199.3,1326.6 1200.5,1326.8 1201.7,1327.1 1202.9,1327.3 1204.1,1327.5 1205.3,1327.8"/>
<polyline fill="none" stroke="#85A445" stroke-width="5.8" stroke-linejoin="round" stroke-linecap="butt" points="108.2,505.5 109.4,507.0 110.6,508.6 111.8,510.3 113.0,512.2 114.2,514.3 115.4,516.7 116.6,519.3 117.8,522.1 119.0,525.1 120.2,528.1 121.4,531.2 122.6,534.3 123.8,537.4 125.0,540.5 126.2,543.4 127.4,546.2 128.6,549.0 129.8,551.9 131.0,554.9 132.2,558.2 133.4,561.9 134.6,566.2 135.8,570.9 137.0,575.7 138.2,580.4 139.4,584.7 140.6,588.9 141.8,593.3 143.0,598.2 144.2,604.2 145.4,611.1 146.6,617.7 147.8,623.6 149.0,629.3 150.2,634.7 151.4,640.0 152.6,645.2 153.8,650.1 155.1,654.8 156.3,659.3 157.5,663.6 158.7,667.7 159.9,671.7 161.1,675.9 162.3,680.1 163.5,684.6 164.7,689.5 165.9,694.6 167.1,699.9 168.3,705.1 169.5,710.2 170.7,714.9 171.9,719.2 173.1,723.1 174.3,726.9 175.5,730.6 176.7,734.1 177.9,737.7 179.1,741.3 180.3,745.1 181.5,749.1 182.7,753.2 183.9,757.5 185.1,761.8 186.3,766.2 187.5,770.6 188.7,774.9 189.9,779.1 191.1,783.2 192.3,787.3 193.5,791.3 194.7,795.3 195.9,799.2 197.1,803.2 198.3,807.0 199.5,810.9 200.7,814.6 201.9,818.4 203.1,822.3 204.3,826.1 205.5,829.8 206.7,833.6 207.9,837.6 209.1,841.8 210.3,846.4 211.5,851.8 212.7,857.7 213.9,864.0 215.1,870.3 216.3,876.3 217.5,882.5 218.7,888.7 219.9,894.8 221.1,900.7 222.3,906.2 223.5,911.4 224.7,916.3 225.9,921.2 227.1,926.2 228.3,931.5 229.5,936.9 230.7,942.4 231.9,948.0 233.1,953.9 234.3,960.2 235.5,967.0 236.7,974.5 237.9,982.3 239.1,989.9 240.3,997.0 241.5,1003.7 242.7,1010.3 243.9,1016.7 245.1,1023.0 246.4,1029.4 247.6,1035.9 248.8,1042.5 250.0,1049.2 251.2,1055.9 252.4,1062.4 253.6,1068.8 254.8,1074.8 256.0,1080.6 257.2,1086.2 258.4,1091.3 259.6,1095.8 260.8,1099.9 262.0,1103.8 263.2,1107.7 264.4,1111.8 265.6,1116.1 266.8,1120.5 268.0,1125.0 269.2,1129.5 270.4,1134.2 271.6,1138.8 272.8,1143.6 274.0,1148.3 275.2,1153.1 276.4,1158.0 277.6,1162.9 278.8,1167.9 280.0,1172.9 281.2,1178.0 282.4,1183.1 283.6,1188.3 284.8,1193.5 286.0,1199.0 287.2,1204.6 288.4,1210.3 289.6,1215.8 290.8,1221.0 292.0,1225.9 293.2,1230.3 294.4,1234.5 295.6,1238.4 296.8,1242.3 298.0,1246.1 299.2,1250.0 300.4,1254.2 301.6,1258.6 302.8,1263.8 304.0,1269.6 305.2,1275.3 306.4,1280.3 307.6,1284.1 308.8,1287.2 310.0,1289.9 311.2,1292.4 312.4,1294.6 313.6,1296.8 314.8,1298.8 316.0,1300.9 317.2,1303.0 318.4,1305.1 319.6,1307.1 320.8,1309.1 322.0,1311.1 323.2,1313.0 324.4,1314.8 325.6,1316.6 326.8,1318.3 328.0,1319.9 329.2,1321.5 330.4,1323.0 331.6,1324.5 332.8,1326.0 334.0,1327.4 335.2,1328.8 336.4,1330.2 337.7,1331.5 338.9,1332.9 340.1,1334.3 341.3,1335.6 342.5,1337.0 343.7,1338.4 344.9,1339.8 346.1,1341.2 347.3,1342.7 348.5,1344.2 349.7,1345.7 350.9,1347.2 352.1,1348.7 353.3,1350.1 354.5,1351.4 355.7,1352.7 356.9,1353.9 358.1,1355.0 359.3,1356.1 360.5,1357.2 361.7,1358.2 362.9,1359.2 364.1,1360.2 365.3,1361.2 366.5,1362.2 367.7,1363.2 368.9,1364.2 370.1,1365.3 371.3,1366.3 372.5,1367.4 373.7,1368.5 374.9,1369.5 376.1,1370.6 377.3,1371.7 378.5,1372.8 379.7,1373.8 380.9,1374.9 382.1,1375.9 383.3,1377.0 384.5,1378.0 385.7,1379.0 386.9,1379.9 388.1,1380.9 389.3,1381.8 390.5,1382.7 391.7,1383.7 392.9,1384.6 394.1,1385.5 395.3,1386.3 396.5,1387.2 397.7,1388.1 398.9,1389.0 400.1,1389.9 401.3,1390.8 402.5,1391.6 403.7,1392.5 404.9,1393.4 406.1,1394.3 407.3,1395.2 408.5,1396.1 409.7,1397.0 410.9,1397.9 412.1,1398.8 413.3,1399.7 414.5,1400.6 415.7,1401.5 416.9,1402.4 418.1,1403.3 419.3,1404.2 420.5,1405.1 421.7,1406.0 422.9,1406.9 424.1,1407.8 425.3,1408.8 426.5,1409.7 427.7,1410.7 429.0,1411.7 430.2,1412.7 431.4,1413.7 432.6,1414.7 433.8,1415.7 435.0,1416.8 436.2,1417.8 437.4,1418.8 438.6,1419.8 439.8,1420.7 441.0,1421.7 442.2,1422.6 443.4,1423.5 444.6,1424.4 445.8,1425.2 447.0,1426.0 448.2,1426.8 449.4,1427.6 450.6,1428.4 451.8,1429.1 453.0,1429.8 454.2,1430.5 455.4,1431.3 456.6,1432.0 457.8,1432.6 459.0,1433.3 460.2,1434.0 461.4,1434.7 462.6,1435.3 463.8,1436.0 465.0,1436.6 466.2,1437.2 467.4,1437.9 468.6,1438.5 469.8,1439.1 471.0,1439.7 472.2,1440.3 473.4,1440.9 474.6,1441.5 475.8,1442.1 477.0,1442.7 478.2,1443.3 479.4,1443.9 480.6,1444.5 481.8,1445.0 483.0,1445.6 484.2,1446.2 485.4,1446.8 486.6,1447.4 487.8,1448.0 489.0,1448.6 490.2,1449.1 491.4,1449.7 492.6,1450.3 493.8,1450.8 495.0,1451.4 496.2,1451.9 497.4,1452.5 498.6,1453.0 499.8,1453.5 501.0,1454.1 502.2,1454.6 503.4,1455.1 504.6,1455.6 505.8,1456.1 507.0,1456.6 508.2,1457.0 509.4,1457.5 510.6,1457.9 511.8,1458.4 513.0,1458.8 514.2,1459.2 515.4,1459.7 516.6,1460.1 517.8,1460.5 519.0,1460.9 520.3,1461.3 521.5,1461.7 522.7,1462.1 523.9,1462.4 525.1,1462.8 526.3,1463.2 527.5,1463.6 528.7,1463.9 529.9,1464.3 531.1,1464.6 532.3,1465.0 533.5,1465.3 534.7,1465.7 535.9,1466.0 537.1,1466.3 538.3,1466.6 539.5,1467.0 540.7,1467.3 541.9,1467.6 543.1,1467.9 544.3,1468.2 545.5,1468.5 546.7,1468.8 547.9,1469.1 549.1,1469.3 550.3,1469.6 551.5,1469.9 552.7,1470.2 553.9,1470.4 555.1,1470.7 556.3,1471.0 557.5,1471.2 558.7,1471.5 559.9,1471.7 561.1,1472.0 562.3,1472.2 563.5,1472.5 564.7,1472.7 565.9,1473.0 567.1,1473.2 568.3,1473.4 569.5,1473.6 570.7,1473.8 571.9,1474.1 573.1,1474.3 574.3,1474.5 575.5,1474.7 576.7,1474.9 577.9,1475.1 579.1,1475.2 580.3,1475.4 581.5,1475.6 582.7,1475.8 583.9,1476.0 585.1,1476.1 586.3,1476.3 587.5,1476.5 588.7,1476.6 589.9,1476.8 591.1,1477.0 592.3,1477.1 593.5,1477.3 594.7,1477.4 595.9,1477.6 597.1,1477.7 598.3,1477.9 599.5,1478.0 600.7,1478.2 601.9,1478.3 603.1,1478.5 604.3,1478.6 605.5,1478.7 606.7,1478.9 607.9,1479.0 609.1,1479.2 610.3,1479.3 611.6,1479.4 612.8,1479.6 614.0,1479.7 615.2,1479.8 616.4,1480.0 617.6,1480.1 618.8,1480.2 620.0,1480.4 621.2,1480.5 622.4,1480.6 623.6,1480.7 624.8,1480.9 626.0,1481.0 627.2,1481.1 628.4,1481.2 629.6,1481.4 630.8,1481.5 632.0,1481.6 633.2,1481.8 634.4,1481.9 635.6,1482.0 636.8,1482.1 638.0,1482.2 639.2,1482.4 640.4,1482.5 641.6,1482.6 642.8,1482.7 644.0,1482.9 645.2,1483.0 646.4,1483.1 647.6,1483.2 648.8,1483.3 650.0,1483.5 651.2,1483.6 652.4,1483.7 653.6,1483.8 654.8,1483.9 656.0,1484.0 657.2,1484.1 658.4,1484.3 659.6,1484.4 660.8,1484.5 662.0,1484.6 663.2,1484.7 664.4,1484.8 665.6,1484.9 666.8,1485.0 668.0,1485.1 669.2,1485.3 670.4,1485.4 671.6,1485.5 672.8,1485.6 674.0,1485.7 675.2,1485.8 676.4,1485.9 677.6,1486.0 678.8,1486.1 680.0,1486.2 681.2,1486.3 682.4,1486.4 683.6,1486.5 684.8,1486.6 686.0,1486.7 687.2,1486.8 688.4,1486.9 689.6,1486.9 690.8,1487.0 692.0,1487.1 693.2,1487.2 694.4,1487.3 695.6,1487.4 696.8,1487.5 698.0,1487.6 699.2,1487.7 700.4,1487.7 701.6,1487.8 702.9,1487.9 704.1,1488.0 705.3,1488.1 706.5,1488.2 707.7,1488.2 708.9,1488.3 710.1,1488.4 711.3,1488.5 712.5,1488.6 713.7,1488.6 714.9,1488.7 716.1,1488.8 717.3,1488.9 718.5,1488.9 719.7,1489.0 720.9,1489.1 722.1,1489.1 723.3,1489.2 724.5,1489.3 725.7,1489.4 726.9,1489.4 728.1,1489.5 729.3,1489.6 730.5,1489.6 731.7,1489.7 732.9,1489.7 734.1,1489.8 735.3,1489.9 736.5,1489.9 737.7,1490.0 738.9,1490.1 740.1,1490.1 741.3,1490.2 742.5,1490.2 743.7,1490.3 744.9,1490.4 746.1,1490.4 747.3,1490.5 748.5,1490.5 749.7,1490.6 750.9,1490.6 752.1,1490.7 753.3,1490.8 754.5,1490.8 755.7,1490.9 756.9,1490.9 758.1,1491.0 759.3,1491.0 760.5,1491.1 761.7,1491.2 762.9,1491.2 764.1,1491.3 765.3,1491.3 766.5,1491.4 767.7,1491.5 768.9,1491.5 770.1,1491.6 771.3,1491.6 772.5,1491.7 773.7,1491.8 774.9,1491.8 776.1,1491.9 777.3,1491.9 778.5,1492.0 779.7,1492.1 780.9,1492.1 782.1,1492.2 783.3,1492.3 784.5,1492.4 785.7,1492.4 786.9,1492.5 788.1,1492.6 789.3,1492.6 790.5,1492.7 791.7,1492.8 792.9,1492.9 794.2,1493.0 795.4,1493.0 796.6,1493.1 797.8,1493.2 799.0,1493.3 800.2,1493.4 801.4,1493.5 802.6,1493.6 803.8,1493.7 805.0,1493.8 806.2,1493.8 807.4,1493.9 808.6,1494.0 809.8,1494.1 811.0,1494.2 812.2,1494.3 813.4,1494.4 814.6,1494.5 815.8,1494.6 817.0,1494.7 818.2,1494.8 819.4,1494.9 820.6,1495.0 821.8,1495.1 823.0,1495.2 824.2,1495.3 825.4,1495.4 826.6,1495.5 827.8,1495.6 829.0,1495.7 830.2,1495.8 831.4,1495.8 832.6,1495.9 833.8,1496.0 835.0,1496.1 836.2,1496.2 837.4,1496.3 838.6,1496.4 839.8,1496.5 841.0,1496.5 842.2,1496.6 843.4,1496.7 844.6,1496.8 845.8,1496.9 847.0,1496.9 848.2,1497.0 849.4,1497.1 850.6,1497.2 851.8,1497.2 853.0,1497.3 854.2,1497.4 855.4,1497.4 856.6,1497.5 857.8,1497.6 859.0,1497.6 860.2,1497.7 861.4,1497.8 862.6,1497.8 863.8,1497.9 865.0,1498.0 866.2,1498.0 867.4,1498.1 868.6,1498.1 869.8,1498.2 871.0,1498.2 872.2,1498.3 873.4,1498.3 874.6,1498.4 875.8,1498.4 877.0,1498.5 878.2,1498.5 879.4,1498.6 880.6,1498.6 881.8,1498.7 883.0,1498.7 884.2,1498.8 885.5,1498.8 886.7,1498.9 887.9,1498.9 889.1,1499.0 890.3,1499.0 891.5,1499.0 892.7,1499.1 893.9,1499.1 895.1,1499.2 896.3,1499.2 897.5,1499.2 898.7,1499.3 899.9,1499.3 901.1,1499.4 902.3,1499.4 903.5,1499.4 904.7,1499.5 905.9,1499.5 907.1,1499.5 908.3,1499.6 909.5,1499.6 910.7,1499.6 911.9,1499.7 913.1,1499.7 914.3,1499.7 915.5,1499.8 916.7,1499.8 917.9,1499.8 919.1,1499.8 920.3,1499.9 921.5,1499.9 922.7,1499.9 923.9,1500.0 925.1,1500.0 926.3,1500.0 927.5,1500.0 928.7,1500.1 929.9,1500.1 931.1,1500.1 932.3,1500.2 933.5,1500.2 934.7,1500.2 935.9,1500.2 937.1,1500.3 938.3,1500.3 939.5,1500.3 940.7,1500.3 941.9,1500.4 943.1,1500.4 944.3,1500.4 945.5,1500.4 946.7,1500.4 947.9,1500.5 949.1,1500.5 950.3,1500.5 951.5,1500.5 952.7,1500.6 953.9,1500.6 955.1,1500.6 956.3,1500.6 957.5,1500.7 958.7,1500.7 959.9,1500.7 961.1,1500.7 962.3,1500.7 963.5,1500.8 964.7,1500.8 965.9,1500.8 967.1,1500.8 968.3,1500.8 969.5,1500.9 970.7,1500.9 971.9,1500.9 973.1,1500.9 974.3,1500.9 975.5,1501.0 976.8,1501.0 978.0,1501.0 979.2,1501.0 980.4,1501.0 981.6,1501.1 982.8,1501.1 984.0,1501.1 985.2,1501.1 986.4,1501.1 987.6,1501.1 988.8,1501.2 990.0,1501.2 991.2,1501.2 992.4,1501.2 993.6,1501.2 994.8,1501.2 996.0,1501.3 997.2,1501.3 998.4,1501.3 999.6,1501.3 1000.8,1501.3 1002.0,1501.4 1003.2,1501.4 1004.4,1501.4 1005.6,1501.4 1006.8,1501.4 1008.0,1501.4 1009.2,1501.4 1010.4,1501.5 1011.6,1501.5 1012.8,1501.5 1014.0,1501.5 1015.2,1501.5 1016.4,1501.5 1017.6,1501.6 1018.8,1501.6 1020.0,1501.6 1021.2,1501.6 1022.4,1501.6 1023.6,1501.6 1024.8,1501.6 1026.0,1501.7 1027.2,1501.7 1028.4,1501.7 1029.6,1501.7 1030.8,1501.7 1032.0,1501.7 1033.2,1501.7 1034.4,1501.8 1035.6,1501.8 1036.8,1501.8 1038.0,1501.8 1039.2,1501.8 1040.4,1501.8 1041.6,1501.8 1042.8,1501.9 1044.0,1501.9 1045.2,1501.9 1046.4,1501.9 1047.6,1501.9 1048.8,1501.9 1050.0,1501.9 1051.2,1501.9 1052.4,1502.0 1053.6,1502.0 1054.8,1502.0 1056.0,1502.0 1057.2,1502.0 1058.4,1502.0 1059.6,1502.0 1060.8,1502.0 1062.0,1502.1 1063.2,1502.1 1064.4,1502.1 1065.6,1502.1 1066.8,1502.1 1068.1,1502.1 1069.3,1502.1 1070.5,1502.1 1071.7,1502.1 1072.9,1502.2 1074.1,1502.2 1075.3,1502.2 1076.5,1502.2 1077.7,1502.2 1078.9,1502.2 1080.1,1502.2 1081.3,1502.2 1082.5,1502.3 1083.7,1502.3 1084.9,1502.3 1086.1,1502.3 1087.3,1502.3 1088.5,1502.3 1089.7,1502.3 1090.9,1502.3 1092.1,1502.3 1093.3,1502.4 1094.5,1502.4 1095.7,1502.4 1096.9,1502.4 1098.1,1502.4 1099.3,1502.4 1100.5,1502.4 1101.7,1502.4 1102.9,1502.4 1104.1,1502.4 1105.3,1502.5 1106.5,1502.5 1107.7,1502.5 1108.9,1502.5 1110.1,1502.5 1111.3,1502.5 1112.5,1502.5 1113.7,1502.5 1114.9,1502.5 1116.1,1502.5 1117.3,1502.6 1118.5,1502.6 1119.7,1502.6 1120.9,1502.6 1122.1,1502.6 1123.3,1502.6 1124.5,1502.6 1125.7,1502.6 1126.9,1502.6 1128.1,1502.6 1129.3,1502.7 1130.5,1502.7 1131.7,1502.7 1132.9,1502.7 1134.1,1502.7 1135.3,1502.7 1136.5,1502.7 1137.7,1502.7 1138.9,1502.7 1140.1,1502.7 1141.3,1502.7 1142.5,1502.8 1143.7,1502.8 1144.9,1502.8 1146.1,1502.8 1147.3,1502.8 1148.5,1502.8 1149.7,1502.8 1150.9,1502.8 1152.1,1502.8 1153.3,1502.8 1154.5,1502.8 1155.7,1502.8 1156.9,1502.9 1158.1,1502.9 1159.4,1502.9 1160.6,1502.9 1161.8,1502.9 1163.0,1502.9 1164.2,1502.9 1165.4,1502.9 1166.6,1502.9 1167.8,1502.9 1169.0,1502.9 1170.2,1502.9 1171.4,1502.9 1172.6,1502.9 1173.8,1503.0 1175.0,1503.0 1176.2,1503.0 1177.4,1503.0 1178.6,1503.0 1179.8,1503.0 1181.0,1503.0 1182.2,1503.0 1183.4,1503.0 1184.6,1503.0 1185.8,1503.0 1187.0,1503.0 1188.2,1503.0 1189.4,1503.0 1190.6,1503.0 1191.8,1503.0 1193.0,1503.0 1194.2,1503.1 1195.4,1503.1 1196.6,1503.1 1197.8,1503.1 1199.0,1503.1 1200.2,1503.1 1201.4,1503.1 1202.6,1503.1 1203.8,1503.1 1205.0,1503.1"/>
<polyline fill="none" stroke="#6C5091" stroke-width="5.8" stroke-linejoin="round" stroke-linecap="butt" points="109.0,992.4 110.2,998.5 111.4,1004.6 112.6,1010.5 113.8,1016.3 115.0,1021.9 116.2,1027.5 117.4,1033.0 118.6,1038.3 119.8,1043.4 121.0,1048.3 122.2,1052.8 123.4,1057.2 124.6,1061.5 125.8,1066.0 127.0,1070.8 128.2,1075.7 129.4,1080.2 130.6,1084.1 131.8,1087.6 133.0,1090.8 134.2,1093.8 135.4,1096.7 136.6,1099.4 137.8,1102.1 139.1,1104.5 140.3,1106.4 141.5,1108.1 142.7,1109.9 143.9,1112.1 145.1,1115.0 146.3,1118.8 147.5,1127.7 148.7,1130.9 149.9,1133.3 151.1,1135.1 152.3,1136.6 153.5,1137.8 154.7,1139.1 155.9,1140.5 157.1,1142.1 158.3,1143.8 159.5,1145.3 160.7,1146.8 161.9,1148.1 163.1,1149.1 164.3,1149.9 165.5,1150.7 166.7,1151.4 167.9,1151.9 169.1,1152.3 170.3,1152.5 171.5,1152.4 172.7,1151.9 173.9,1151.3 175.1,1150.5 176.3,1149.6 177.5,1148.8 178.7,1147.9 179.9,1147.2 181.1,1146.5 182.3,1145.7 183.5,1144.9 184.7,1144.0 185.9,1142.9 187.1,1141.5 188.3,1139.8 189.5,1136.3 190.7,1131.5 191.9,1128.9 193.1,1126.8 194.3,1124.9 195.6,1123.3 196.8,1121.9 198.0,1120.5 199.2,1119.0 200.4,1117.4 201.6,1115.8 202.8,1114.4 204.0,1113.1 205.2,1111.6 206.4,1109.9 207.6,1107.9 208.8,1105.2 210.0,1101.5 211.2,1097.7 212.4,1094.4 213.6,1091.6 214.8,1089.1 216.0,1086.7 217.2,1084.4 218.4,1082.1 219.6,1079.8 220.8,1077.5 222.0,1075.3 223.2,1073.0 224.4,1070.9 225.6,1068.7 226.8,1066.5 228.0,1064.2 229.2,1062.0 230.4,1059.7 231.6,1057.3 232.8,1054.9 234.0,1052.5 235.2,1050.1 236.4,1047.7 237.6,1045.4 238.8,1043.1 240.0,1041.0 241.2,1038.8 242.4,1036.5 243.6,1034.0 244.8,1030.9 246.0,1027.5 247.2,1024.3 248.4,1021.6 249.6,1019.7 250.8,1018.2 252.0,1017.1 253.2,1016.1 254.5,1015.0 255.7,1013.7 256.9,1012.0 258.1,1009.8 259.3,1005.3 260.5,999.2 261.7,997.1 262.9,995.6 264.1,994.4 265.3,993.5 266.5,992.7 267.7,992.0 268.9,991.0 270.1,989.9 271.3,988.4 272.5,986.7 273.7,985.0 274.9,983.2 276.1,981.3 277.3,979.4 278.5,977.6 279.7,975.8 280.9,974.1 282.1,972.4 283.3,970.6 284.5,968.8 285.7,967.0 286.9,965.3 288.1,963.9 289.3,962.8 290.5,962.2 291.7,961.8 292.9,961.5 294.1,961.3 295.3,961.1 296.5,960.9 297.7,960.6 298.9,960.2 300.1,958.9 301.3,956.3 302.5,953.6 303.7,951.7 304.9,950.3 306.1,949.1 307.3,948.1 308.5,947.1 309.7,946.2 311.0,945.3 312.2,944.4 313.4,943.4 314.6,942.4 315.8,941.3 317.0,940.2 318.2,939.2 319.4,938.1 320.6,936.9 321.8,935.7 323.0,934.4 324.2,933.0 325.4,931.5 326.6,929.4 327.8,927.1 329.0,925.2 330.2,923.9 331.4,922.8 332.6,921.8 333.8,921.0 335.0,920.2 336.2,919.4 337.4,918.7 338.6,917.9 339.8,917.0 341.0,916.0 342.2,914.9 343.4,913.6 344.6,912.3 345.8,910.9 347.0,909.5 348.2,908.1 349.4,906.7 350.6,905.4 351.8,904.2 353.0,903.1 354.2,902.2 355.4,901.4 356.6,900.6 357.8,899.9 359.0,899.3 360.2,898.7 361.4,898.0 362.6,897.4 363.8,896.8 365.0,896.1 366.2,895.4 367.4,894.6 368.7,893.7 369.9,892.8 371.1,891.9 372.3,891.1 373.5,890.4 374.7,889.8 375.9,889.4 377.1,889.0 378.3,888.6 379.5,888.2 380.7,887.8 381.9,887.5 383.1,887.2 384.3,887.0 385.5,886.8 386.7,886.7 387.9,886.6 389.1,886.6 390.3,886.6 391.5,886.6 392.7,886.6 393.9,886.6 395.1,886.6 396.3,886.6 397.5,886.6 398.7,886.6 399.9,886.6 401.1,886.6 402.3,886.6 403.5,886.7 404.7,887.0 405.9,887.5 407.1,888.2 408.3,888.8 409.5,889.3 410.7,889.7 411.9,890.0 413.1,890.3 414.3,890.5 415.5,890.7 416.7,890.9 417.9,891.1 419.1,891.3 420.3,891.6 421.5,891.8 422.7,892.0 423.9,892.3 425.1,892.6 426.4,892.9 427.6,893.3 428.8,893.8 430.0,894.3 431.2,894.9 432.4,895.5 433.6,896.2 434.8,897.0 436.0,897.7 437.2,898.6 438.4,899.4 439.6,900.3 440.8,901.2 442.0,902.1 443.2,903.0 444.4,903.9 445.6,904.8 446.8,905.7 448.0,906.6 449.2,907.5 450.4,908.4 451.6,909.2 452.8,910.1 454.0,911.0 455.2,911.9 456.4,912.8 457.6,913.8 458.8,914.7 460.0,915.6 461.2,916.6 462.4,917.6 463.6,918.5 464.8,919.5 466.0,920.5 467.2,921.5 468.4,922.6 469.6,923.6 470.8,924.6 472.0,925.7 473.2,926.7 474.4,927.8 475.6,928.9 476.8,930.0 478.0,931.1 479.2,932.2 480.4,933.4 481.6,934.5 482.8,935.7 484.1,936.9 485.3,938.2 486.5,939.4 487.7,940.6 488.9,941.9 490.1,943.1 491.3,944.4 492.5,945.6 493.7,946.9 494.9,948.1 496.1,949.3 497.3,950.5 498.5,951.7 499.7,952.9 500.9,954.1 502.1,955.2 503.3,956.4 504.5,957.5 505.7,958.6 506.9,959.6 508.1,960.7 509.3,961.7 510.5,962.8 511.7,963.8 512.9,964.8 514.1,965.8 515.3,966.8 516.5,967.7 517.7,968.7 518.9,969.7 520.1,970.6 521.3,971.6 522.5,972.6 523.7,973.5 524.9,974.5 526.1,975.4 527.3,976.4 528.5,977.3 529.7,978.2 530.9,979.2 532.1,980.1 533.3,981.1 534.5,982.0 535.7,983.0 536.9,983.9 538.1,984.9 539.3,985.8 540.5,986.8 541.8,987.8 543.0,988.7 544.2,989.7 545.4,990.7 546.6,991.7 547.8,992.6 549.0,993.6 550.2,994.6 551.4,995.6 552.6,996.5 553.8,997.5 555.0,998.5 556.2,999.4 557.4,1000.4 558.6,1001.3 559.8,1002.3 561.0,1003.2 562.2,1004.1 563.4,1005.0 564.6,1006.0 565.8,1006.9 567.0,1007.8 568.2,1008.6 569.4,1009.5 570.6,1010.4 571.8,1011.3 573.0,1012.1 574.2,1012.9 575.4,1013.8 576.6,1014.6 577.8,1015.4 579.0,1016.3 580.2,1017.1 581.4,1017.9 582.6,1018.7 583.8,1019.5 585.0,1020.3 586.2,1021.0 587.4,1021.8 588.6,1022.6 589.8,1023.4 591.0,1024.1 592.2,1024.9 593.4,1025.6 594.6,1026.4 595.8,1027.1 597.0,1027.9 598.2,1028.6 599.5,1029.4 600.7,1030.1 601.9,1030.8 603.1,1031.5 604.3,1032.3 605.5,1033.0 606.7,1033.7 607.9,1034.4 609.1,1035.1 610.3,1035.8 611.5,1036.5 612.7,1037.2 613.9,1037.9 615.1,1038.6 616.3,1039.3 617.5,1040.0 618.7,1040.7 619.9,1041.4 621.1,1042.0 622.3,1042.7 623.5,1043.4 624.7,1044.1 625.9,1044.7 627.1,1045.4 628.3,1046.0 629.5,1046.7 630.7,1047.4 631.9,1048.0 633.1,1048.7 634.3,1049.3 635.5,1049.9 636.7,1050.6 637.9,1051.2 639.1,1051.8 640.3,1052.5 641.5,1053.1 642.7,1053.7 643.9,1054.3 645.1,1055.0 646.3,1055.6 647.5,1056.2 648.7,1056.8 649.9,1057.4 651.1,1058.0 652.3,1058.6 653.5,1059.2 654.7,1059.8 655.9,1060.4 657.1,1061.0 658.4,1061.6 659.6,1062.2 660.8,1062.7 662.0,1063.3 663.2,1063.9 664.4,1064.5 665.6,1065.0 666.8,1065.6 668.0,1066.2 669.2,1066.8 670.4,1067.3 671.6,1067.9 672.8,1068.4 674.0,1069.0 675.2,1069.5 676.4,1070.1 677.6,1070.6 678.8,1071.2 680.0,1071.7 681.2,1072.3 682.4,1072.8 683.6,1073.4 684.8,1073.9 686.0,1074.4 687.2,1075.0 688.4,1075.5 689.6,1076.0 690.8,1076.5 692.0,1077.1 693.2,1077.6 694.4,1078.1 695.6,1078.6 696.8,1079.2 698.0,1079.7 699.2,1080.2 700.4,1080.7 701.6,1081.2 702.8,1081.8 704.0,1082.3 705.2,1082.8 706.4,1083.3 707.6,1083.8 708.8,1084.3 710.0,1084.8 711.2,1085.3 712.4,1085.9 713.6,1086.4 714.9,1086.9 716.1,1087.4 717.3,1087.9 718.5,1088.4 719.7,1088.9 720.9,1089.4 722.1,1089.9 723.3,1090.4 724.5,1091.0 725.7,1091.5 726.9,1092.0 728.1,1092.5 729.3,1093.0 730.5,1093.5 731.7,1094.0 732.9,1094.5 734.1,1095.1 735.3,1095.6 736.5,1096.1 737.7,1096.6 738.9,1097.1 740.1,1097.6 741.3,1098.2 742.5,1098.7 743.7,1099.2 744.9,1099.7 746.1,1100.2 747.3,1100.7 748.5,1101.3 749.7,1101.8 750.9,1102.3 752.1,1102.8 753.3,1103.3 754.5,1103.8 755.7,1104.4 756.9,1104.9 758.1,1105.4 759.3,1105.9 760.5,1106.4 761.7,1106.9 762.9,1107.4 764.1,1108.0 765.3,1108.5 766.5,1109.0 767.7,1109.5 768.9,1110.0 770.1,1110.5 771.3,1111.0 772.6,1111.5 773.8,1112.0 775.0,1112.5 776.2,1113.1 777.4,1113.6 778.6,1114.1 779.8,1114.6 781.0,1115.1 782.2,1115.6 783.4,1116.1 784.6,1116.6 785.8,1117.1 787.0,1117.6 788.2,1118.1 789.4,1118.6 790.6,1119.1 791.8,1119.6 793.0,1120.1 794.2,1120.6 795.4,1121.1 796.6,1121.6 797.8,1122.1 799.0,1122.5 800.2,1123.0 801.4,1123.5 802.6,1124.0 803.8,1124.5 805.0,1125.0 806.2,1125.5 807.4,1126.0 808.6,1126.5 809.8,1127.0 811.0,1127.4 812.2,1127.9 813.4,1128.4 814.6,1128.9 815.8,1129.4 817.0,1129.9 818.2,1130.3 819.4,1130.8 820.6,1131.3 821.8,1131.8 823.0,1132.2 824.2,1132.7 825.4,1133.2 826.6,1133.7 827.8,1134.1 829.0,1134.6 830.2,1135.1 831.5,1135.5 832.7,1136.0 833.9,1136.5 835.1,1136.9 836.3,1137.4 837.5,1137.9 838.7,1138.3 839.9,1138.8 841.1,1139.2 842.3,1139.7 843.5,1140.1 844.7,1140.6 845.9,1141.0 847.1,1141.5 848.3,1141.9 849.5,1142.4 850.7,1142.8 851.9,1143.2 853.1,1143.7 854.3,1144.1 855.5,1144.5 856.7,1145.0 857.9,1145.4 859.1,1145.8 860.3,1146.2 861.5,1146.7 862.7,1147.1 863.9,1147.5 865.1,1147.9 866.3,1148.4 867.5,1148.8 868.7,1149.2 869.9,1149.6 871.1,1150.0 872.3,1150.4 873.5,1150.8 874.7,1151.2 875.9,1151.7 877.1,1152.1 878.3,1152.5 879.5,1152.9 880.7,1153.3 881.9,1153.7 883.1,1154.1 884.3,1154.5 885.5,1154.9 886.7,1155.3 888.0,1155.7 889.2,1156.1 890.4,1156.5 891.6,1156.9 892.8,1157.3 894.0,1157.7 895.2,1158.1 896.4,1158.5 897.6,1158.9 898.8,1159.3 900.0,1159.7 901.2,1160.1 902.4,1160.5 903.6,1160.9 904.8,1161.3 906.0,1161.7 907.2,1162.1 908.4,1162.5 909.6,1162.9 910.8,1163.3 912.0,1163.7 913.2,1164.1 914.4,1164.5 915.6,1164.9 916.8,1165.3 918.0,1165.7 919.2,1166.1 920.4,1166.5 921.6,1166.9 922.8,1167.3 924.0,1167.7 925.2,1168.1 926.4,1168.5 927.6,1168.9 928.8,1169.3 930.0,1169.6 931.2,1170.0 932.4,1170.4 933.6,1170.8 934.8,1171.2 936.0,1171.6 937.2,1171.9 938.4,1172.3 939.6,1172.7 940.8,1173.1 942.0,1173.4 943.2,1173.8 944.4,1174.2 945.7,1174.5 946.9,1174.9 948.1,1175.3 949.3,1175.6 950.5,1176.0 951.7,1176.3 952.9,1176.7 954.1,1177.1 955.3,1177.4 956.5,1177.8 957.7,1178.1 958.9,1178.4 960.1,1178.8 961.3,1179.1 962.5,1179.5 963.7,1179.8 964.9,1180.2 966.1,1180.5 967.3,1180.8 968.5,1181.2 969.7,1181.5 970.9,1181.8 972.1,1182.2 973.3,1182.5 974.5,1182.8 975.7,1183.1 976.9,1183.5 978.1,1183.8 979.3,1184.1 980.5,1184.4 981.7,1184.8 982.9,1185.1 984.1,1185.4 985.3,1185.7 986.5,1186.1 987.7,1186.4 988.9,1186.7 990.1,1187.0 991.3,1187.3 992.5,1187.7 993.7,1188.0 994.9,1188.3 996.1,1188.6 997.3,1188.9 998.5,1189.3 999.7,1189.6 1000.9,1189.9 1002.1,1190.2 1003.4,1190.5 1004.6,1190.9 1005.8,1191.2 1007.0,1191.5 1008.2,1191.8 1009.4,1192.1 1010.6,1192.5 1011.8,1192.8 1013.0,1193.1 1014.2,1193.4 1015.4,1193.7 1016.6,1194.0 1017.8,1194.4 1019.0,1194.7 1020.2,1195.0 1021.4,1195.3 1022.6,1195.6 1023.8,1195.9 1025.0,1196.3 1026.2,1196.6 1027.4,1196.9 1028.6,1197.2 1029.8,1197.5 1031.0,1197.8 1032.2,1198.1 1033.4,1198.5 1034.6,1198.8 1035.8,1199.1 1037.0,1199.4 1038.2,1199.7 1039.4,1200.0 1040.6,1200.3 1041.8,1200.6 1043.0,1200.9 1044.2,1201.2 1045.4,1201.5 1046.6,1201.8 1047.8,1202.1 1049.0,1202.4 1050.2,1202.7 1051.4,1203.0 1052.6,1203.3 1053.8,1203.6 1055.0,1203.9 1056.2,1204.2 1057.4,1204.5 1058.6,1204.8 1059.8,1205.1 1061.1,1205.4 1062.3,1205.7 1063.5,1206.0 1064.7,1206.3 1065.9,1206.6 1067.1,1206.9 1068.3,1207.1 1069.5,1207.4 1070.7,1207.7 1071.9,1208.0 1073.1,1208.3 1074.3,1208.6 1075.5,1208.9 1076.7,1209.2 1077.9,1209.5 1079.1,1209.8 1080.3,1210.0 1081.5,1210.3 1082.7,1210.6 1083.9,1210.9 1085.1,1211.2 1086.3,1211.5 1087.5,1211.8 1088.7,1212.1 1089.9,1212.4 1091.1,1212.7 1092.3,1213.0 1093.5,1213.3 1094.7,1213.6 1095.9,1213.9 1097.1,1214.2 1098.3,1214.5 1099.5,1214.8 1100.7,1215.1 1101.9,1215.4 1103.1,1215.7 1104.3,1216.0 1105.5,1216.3 1106.7,1216.6 1107.9,1216.9 1109.1,1217.2 1110.3,1217.5 1111.5,1217.8 1112.7,1218.2 1113.9,1218.5 1115.1,1218.8 1116.3,1219.1 1117.5,1219.4 1118.8,1219.7 1120.0,1220.0 1121.2,1220.3 1122.4,1220.6 1123.6,1221.0 1124.8,1221.3 1126.0,1221.6 1127.2,1221.9 1128.4,1222.2 1129.6,1222.5 1130.8,1222.8 1132.0,1223.1 1133.2,1223.4 1134.4,1223.7 1135.6,1224.0 1136.8,1224.3 1138.0,1224.6 1139.2,1225.0 1140.4,1225.3 1141.6,1225.6 1142.8,1225.8 1144.0,1226.1 1145.2,1226.4 1146.4,1226.7 1147.6,1227.0 1148.8,1227.3 1150.0,1227.6 1151.2,1227.9 1152.4,1228.2 1153.6,1228.5 1154.8,1228.8 1156.0,1229.0 1157.2,1229.3 1158.4,1229.6 1159.6,1229.9 1160.8,1230.1 1162.0,1230.4 1163.2,1230.7 1164.4,1231.0 1165.6,1231.2 1166.8,1231.5 1168.0,1231.8 1169.2,1232.0 1170.4,1232.3 1171.6,1232.6 1172.8,1232.8 1174.0,1233.1 1175.2,1233.3 1176.5,1233.6 1177.7,1233.8 1178.9,1234.1 1180.1,1234.4 1181.3,1234.6 1182.5,1234.9 1183.7,1235.1 1184.9,1235.4 1186.1,1235.6 1187.3,1235.8 1188.5,1236.1 1189.7,1236.3 1190.9,1236.6 1192.1,1236.8 1193.3,1237.1 1194.5,1237.3 1195.7,1237.6 1196.9,1237.8 1198.1,1238.0 1199.3,1238.3 1200.5,1238.5 1201.7,1238.8 1202.9,1239.0 1204.1,1239.3 1205.3,1239.5"/>
<polyline fill="none" stroke="#3594A9" stroke-width="5.8" stroke-linejoin="round" stroke-linecap="butt" points="108.9,642.2 110.1,645.2 111.3,648.8 112.5,652.8 113.7,657.3 114.9,662.3 116.1,668.4 117.3,674.8 118.5,681.0 119.7,686.5 120.9,691.0 122.1,695.5 123.3,701.3 124.5,710.8 125.7,723.4 126.9,728.9 128.1,732.9 129.3,736.5 130.5,741.0 131.7,746.7 132.9,752.9 134.1,759.2 135.3,765.1 136.5,770.3 137.7,775.3 138.9,780.0 140.1,784.7 141.4,789.4 142.6,793.9 143.8,797.7 145.0,802.0 146.2,808.0 147.4,821.6 148.6,829.1 149.8,834.3 151.0,838.2 152.2,841.7 153.4,845.6 154.6,849.9 155.8,853.9 157.0,857.9 158.2,861.8 159.4,865.7 160.6,869.6 161.8,873.4 163.0,876.6 164.2,879.5 165.4,882.9 166.6,887.2 167.8,893.0 169.0,905.4 170.2,913.3 171.4,917.9 172.6,921.4 173.8,924.1 175.0,926.6 176.2,929.3 177.4,932.0 178.6,934.4 179.8,936.6 181.0,938.8 182.2,940.9 183.4,943.2 184.6,945.6 185.8,948.4 187.0,951.5 188.2,955.2 189.4,959.3 190.6,963.5 191.8,967.7 193.0,972.5 194.2,977.5 195.4,982.0 196.6,985.4 197.8,987.9 199.0,990.0 200.2,991.9 201.4,993.6 202.6,995.4 203.8,997.3 205.0,999.7 206.3,1002.1 207.5,1004.5 208.7,1007.2 209.9,1010.9 211.1,1016.0 212.3,1029.9 213.5,1039.8 214.7,1044.5 215.9,1048.0 217.1,1050.6 218.3,1053.0 219.5,1055.5 220.7,1058.8 221.9,1062.4 223.1,1066.0 224.3,1069.7 225.5,1073.4 226.7,1077.3 227.9,1081.2 229.1,1085.3 230.3,1089.5 231.5,1094.0 232.7,1098.6 233.9,1103.3 235.1,1108.0 236.3,1112.7 237.5,1117.4 238.7,1122.2 239.9,1127.1 241.1,1131.9 242.3,1136.6 243.5,1141.2 244.7,1145.6 245.9,1149.9 247.1,1154.2 248.3,1158.4 249.5,1162.7 250.7,1166.7 251.9,1170.2 253.1,1173.4 254.3,1176.7 255.5,1180.5 256.7,1184.9 257.9,1190.4 259.1,1197.2 260.3,1209.8 261.5,1215.1 262.7,1219.2 263.9,1222.3 265.1,1224.8 266.3,1227.1 267.5,1229.4 268.7,1232.1 269.9,1234.8 271.2,1237.1 272.4,1239.1 273.6,1241.0 274.8,1243.1 276.0,1245.4 277.2,1248.3 278.4,1251.8 279.6,1256.3 280.8,1265.0 282.0,1274.0 283.2,1279.2 284.4,1283.5 285.6,1287.1 286.8,1290.1 288.0,1292.7 289.2,1295.2 290.4,1297.8 291.6,1300.6 292.8,1303.6 294.0,1306.5 295.2,1309.2 296.4,1311.8 297.6,1314.5 298.8,1317.3 300.0,1320.3 301.2,1323.5 302.4,1327.4 303.6,1332.3 304.8,1337.1 306.0,1341.0 307.2,1343.6 308.4,1345.9 309.6,1347.9 310.8,1349.7 312.0,1351.3 313.2,1352.8 314.4,1354.2 315.6,1355.6 316.8,1357.0 318.0,1358.4 319.2,1359.7 320.4,1360.9 321.6,1362.1 322.8,1363.3 324.0,1364.4 325.2,1365.5 326.4,1366.6 327.6,1367.8 328.8,1368.9 330.0,1370.1 331.2,1371.2 332.4,1372.3 333.6,1373.4 334.9,1374.4 336.1,1375.4 337.3,1376.3 338.5,1377.1 339.7,1378.0 340.9,1378.8 342.1,1379.6 343.3,1380.3 344.5,1381.1 345.7,1381.8 346.9,1382.5 348.1,1383.3 349.3,1384.0 350.5,1384.7 351.7,1385.5 352.9,1386.2 354.1,1387.0 355.3,1387.8 356.5,1388.6 357.7,1389.4 358.9,1390.3 360.1,1391.1 361.3,1392.0 362.5,1392.9 363.7,1393.7 364.9,1394.6 366.1,1395.5 367.3,1396.3 368.5,1397.2 369.7,1398.0 370.9,1398.9 372.1,1399.7 373.3,1400.4 374.5,1401.2 375.7,1401.9 376.9,1402.7 378.1,1403.4 379.3,1404.0 380.5,1404.7 381.7,1405.4 382.9,1406.0 384.1,1406.7 385.3,1407.3 386.5,1408.0 387.7,1408.7 388.9,1409.3 390.1,1410.0 391.3,1410.7 392.5,1411.4 393.7,1412.2 394.9,1413.0 396.1,1413.7 397.3,1414.5 398.5,1415.3 399.8,1416.1 401.0,1416.9 402.2,1417.7 403.4,1418.5 404.6,1419.3 405.8,1420.1 407.0,1420.9 408.2,1421.7 409.4,1422.4 410.6,1423.2 411.8,1423.9 413.0,1424.6 414.2,1425.3 415.4,1426.0 416.6,1426.6 417.8,1427.3 419.0,1427.9 420.2,1428.6 421.4,1429.2 422.6,1429.8 423.8,1430.4 425.0,1431.0 426.2,1431.6 427.4,1432.2 428.6,1432.8 429.8,1433.4 431.0,1434.0 432.2,1434.6 433.4,1435.2 434.6,1435.7 435.8,1436.3 437.0,1436.9 438.2,1437.4 439.4,1438.0 440.6,1438.6 441.8,1439.1 443.0,1439.7 444.2,1440.3 445.4,1440.8 446.6,1441.4 447.8,1442.0 449.0,1442.6 450.2,1443.1 451.4,1443.7 452.6,1444.3 453.8,1444.9 455.0,1445.5 456.2,1446.0 457.4,1446.6 458.6,1447.2 459.8,1447.8 461.0,1448.4 462.2,1448.9 463.4,1449.5 464.7,1450.0 465.9,1450.6 467.1,1451.1 468.3,1451.7 469.5,1452.2 470.7,1452.7 471.9,1453.3 473.1,1453.8 474.3,1454.2 475.5,1454.7 476.7,1455.2 477.9,1455.6 479.1,1456.1 480.3,1456.5 481.5,1456.9 482.7,1457.3 483.9,1457.8 485.1,1458.2 486.3,1458.6 487.5,1459.0 488.7,1459.3 489.9,1459.7 491.1,1460.1 492.3,1460.5 493.5,1460.8 494.7,1461.2 495.9,1461.6 497.1,1461.9 498.3,1462.3 499.5,1462.6 500.7,1463.0 501.9,1463.3 503.1,1463.6 504.3,1464.0 505.5,1464.3 506.7,1464.6 507.9,1464.9 509.1,1465.2 510.3,1465.5 511.5,1465.9 512.7,1466.2 513.9,1466.5 515.1,1466.8 516.3,1467.1 517.5,1467.4 518.7,1467.6 519.9,1467.9 521.1,1468.2 522.3,1468.5 523.5,1468.8 524.7,1469.1 525.9,1469.3 527.1,1469.6 528.4,1469.9 529.6,1470.1 530.8,1470.4 532.0,1470.7 533.2,1470.9 534.4,1471.2 535.6,1471.4 536.8,1471.7 538.0,1471.9 539.2,1472.1 540.4,1472.4 541.6,1472.6 542.8,1472.8 544.0,1473.0 545.2,1473.3 546.4,1473.5 547.6,1473.7 548.8,1473.9 550.0,1474.1 551.2,1474.3 552.4,1474.5 553.6,1474.7 554.8,1474.9 556.0,1475.1 557.2,1475.3 558.4,1475.5 559.6,1475.7 560.8,1475.9 562.0,1476.1 563.2,1476.2 564.4,1476.4 565.6,1476.6 566.8,1476.8 568.0,1476.9 569.2,1477.1 570.4,1477.3 571.6,1477.4 572.8,1477.6 574.0,1477.8 575.2,1477.9 576.4,1478.1 577.6,1478.3 578.8,1478.4 580.0,1478.6 581.2,1478.7 582.4,1478.9 583.6,1479.0 584.8,1479.2 586.0,1479.3 587.2,1479.5 588.4,1479.6 589.6,1479.7 590.8,1479.9 592.0,1480.0 593.3,1480.2 594.5,1480.3 595.7,1480.4 596.9,1480.6 598.1,1480.7 599.3,1480.8 600.5,1481.0 601.7,1481.1 602.9,1481.2 604.1,1481.4 605.3,1481.5 606.5,1481.6 607.7,1481.7 608.9,1481.9 610.1,1482.0 611.3,1482.1 612.5,1482.2 613.7,1482.4 614.9,1482.5 616.1,1482.6 617.3,1482.7 618.5,1482.9 619.7,1483.0 620.9,1483.1 622.1,1483.2 623.3,1483.3 624.5,1483.5 625.7,1483.6 626.9,1483.7 628.1,1483.8 629.3,1483.9 630.5,1484.1 631.7,1484.2 632.9,1484.3 634.1,1484.4 635.3,1484.5 636.5,1484.6 637.7,1484.8 638.9,1484.9 640.1,1485.0 641.3,1485.1 642.5,1485.2 643.7,1485.3 644.9,1485.4 646.1,1485.5 647.3,1485.7 648.5,1485.8 649.7,1485.9 650.9,1486.0 652.1,1486.1 653.3,1486.2 654.5,1486.3 655.7,1486.4 656.9,1486.5 658.2,1486.6 659.4,1486.7 660.6,1486.8 661.8,1486.9 663.0,1487.0 664.2,1487.1 665.4,1487.2 666.6,1487.3 667.8,1487.4 669.0,1487.5 670.2,1487.6 671.4,1487.7 672.6,1487.8 673.8,1487.9 675.0,1487.9 676.2,1488.0 677.4,1488.1 678.6,1488.2 679.8,1488.3 681.0,1488.4 682.2,1488.4 683.4,1488.5 684.6,1488.6 685.8,1488.7 687.0,1488.8 688.2,1488.8 689.4,1488.9 690.6,1489.0 691.8,1489.1 693.0,1489.1 694.2,1489.2 695.4,1489.3 696.6,1489.3 697.8,1489.4 699.0,1489.5 700.2,1489.5 701.4,1489.6 702.6,1489.6 703.8,1489.7 705.0,1489.8 706.2,1489.8 707.4,1489.9 708.6,1489.9 709.8,1490.0 711.0,1490.0 712.2,1490.1 713.4,1490.2 714.6,1490.2 715.8,1490.3 717.0,1490.3 718.2,1490.3 719.4,1490.4 720.6,1490.4 721.9,1490.5 723.1,1490.5 724.3,1490.6 725.5,1490.6 726.7,1490.7 727.9,1490.7 729.1,1490.7 730.3,1490.8 731.5,1490.8 732.7,1490.9 733.9,1490.9 735.1,1490.9 736.3,1491.0 737.5,1491.0 738.7,1491.1 739.9,1491.1 741.1,1491.1 742.3,1491.2 743.5,1491.2 744.7,1491.2 745.9,1491.3 747.1,1491.3 748.3,1491.3 749.5,1491.4 750.7,1491.4 751.9,1491.4 753.1,1491.5 754.3,1491.5 755.5,1491.5 756.7,1491.6 757.9,1491.6 759.1,1491.6 760.3,1491.7 761.5,1491.7 762.7,1491.7 763.9,1491.8 765.1,1491.8 766.3,1491.8 767.5,1491.9 768.7,1491.9 769.9,1491.9 771.1,1492.0 772.3,1492.0 773.5,1492.0 774.7,1492.1 775.9,1492.1 777.1,1492.2 778.3,1492.2 779.5,1492.2 780.7,1492.3 781.9,1492.3 783.1,1492.4 784.3,1492.4 785.5,1492.4 786.8,1492.5 788.0,1492.5 789.2,1492.6 790.4,1492.6 791.6,1492.7 792.8,1492.7 794.0,1492.7 795.2,1492.8 796.4,1492.8 797.6,1492.9 798.8,1492.9 800.0,1493.0 801.2,1493.0 802.4,1493.1 803.6,1493.1 804.8,1493.2 806.0,1493.3 807.2,1493.3 808.4,1493.4 809.6,1493.4 810.8,1493.5 812.0,1493.6 813.2,1493.6 814.4,1493.7 815.6,1493.7 816.8,1493.8 818.0,1493.9 819.2,1493.9 820.4,1494.0 821.6,1494.1 822.8,1494.1 824.0,1494.2 825.2,1494.3 826.4,1494.3 827.6,1494.4 828.8,1494.5 830.0,1494.6 831.2,1494.6 832.4,1494.7 833.6,1494.8 834.8,1494.9 836.0,1494.9 837.2,1495.0 838.4,1495.1 839.6,1495.2 840.8,1495.3 842.0,1495.3 843.2,1495.4 844.4,1495.5 845.6,1495.6 846.8,1495.6 848.0,1495.7 849.2,1495.8 850.5,1495.9 851.7,1496.0 852.9,1496.0 854.1,1496.1 855.3,1496.2 856.5,1496.3 857.7,1496.3 858.9,1496.4 860.1,1496.5 861.3,1496.6 862.5,1496.7 863.7,1496.7 864.9,1496.8 866.1,1496.9 867.3,1497.0 868.5,1497.0 869.7,1497.1 870.9,1497.2 872.1,1497.2 873.3,1497.3 874.5,1497.4 875.7,1497.4 876.9,1497.5 878.1,1497.6 879.3,1497.6 880.5,1497.7 881.7,1497.8 882.9,1497.8 884.1,1497.9 885.3,1498.0 886.5,1498.0 887.7,1498.1 888.9,1498.1 890.1,1498.2 891.3,1498.2 892.5,1498.3 893.7,1498.3 894.9,1498.4 896.1,1498.4 897.3,1498.5 898.5,1498.5 899.7,1498.6 900.9,1498.6 902.1,1498.7 903.3,1498.7 904.5,1498.8 905.7,1498.8 906.9,1498.9 908.1,1498.9 909.3,1498.9 910.5,1499.0 911.7,1499.0 912.9,1499.0 914.1,1499.1 915.4,1499.1 916.6,1499.2 917.8,1499.2 919.0,1499.2 920.2,1499.2 921.4,1499.3 922.6,1499.3 923.8,1499.3 925.0,1499.4 926.2,1499.4 927.4,1499.4 928.6,1499.5 929.8,1499.5 931.0,1499.5 932.2,1499.5 933.4,1499.6 934.6,1499.6 935.8,1499.6 937.0,1499.6 938.2,1499.7 939.4,1499.7 940.6,1499.7 941.8,1499.7 943.0,1499.8 944.2,1499.8 945.4,1499.8 946.6,1499.8 947.8,1499.9 949.0,1499.9 950.2,1499.9 951.4,1499.9 952.6,1499.9 953.8,1500.0 955.0,1500.0 956.2,1500.0 957.4,1500.0 958.6,1500.1 959.8,1500.1 961.0,1500.1 962.2,1500.1 963.4,1500.1 964.6,1500.2 965.8,1500.2 967.0,1500.2 968.2,1500.2 969.4,1500.2 970.6,1500.3 971.8,1500.3 973.0,1500.3 974.2,1500.3 975.4,1500.3 976.6,1500.3 977.8,1500.4 979.0,1500.4 980.3,1500.4 981.5,1500.4 982.7,1500.4 983.9,1500.5 985.1,1500.5 986.3,1500.5 987.5,1500.5 988.7,1500.5 989.9,1500.5 991.1,1500.6 992.3,1500.6 993.5,1500.6 994.7,1500.6 995.9,1500.6 997.1,1500.6 998.3,1500.6 999.5,1500.7 1000.7,1500.7 1001.9,1500.7 1003.1,1500.7 1004.3,1500.7 1005.5,1500.7 1006.7,1500.8 1007.9,1500.8 1009.1,1500.8 1010.3,1500.8 1011.5,1500.8 1012.7,1500.8 1013.9,1500.8 1015.1,1500.9 1016.3,1500.9 1017.5,1500.9 1018.7,1500.9 1019.9,1500.9 1021.1,1500.9 1022.3,1500.9 1023.5,1501.0 1024.7,1501.0 1025.9,1501.0 1027.1,1501.0 1028.3,1501.0 1029.5,1501.0 1030.7,1501.0 1031.9,1501.0 1033.1,1501.1 1034.3,1501.1 1035.5,1501.1 1036.7,1501.1 1037.9,1501.1 1039.1,1501.1 1040.3,1501.1 1041.5,1501.1 1042.7,1501.2 1044.0,1501.2 1045.2,1501.2 1046.4,1501.2 1047.6,1501.2 1048.8,1501.2 1050.0,1501.2 1051.2,1501.2 1052.4,1501.3 1053.6,1501.3 1054.8,1501.3 1056.0,1501.3 1057.2,1501.3 1058.4,1501.3 1059.6,1501.3 1060.8,1501.3 1062.0,1501.4 1063.2,1501.4 1064.4,1501.4 1065.6,1501.4 1066.8,1501.4 1068.0,1501.4 1069.2,1501.4 1070.4,1501.4 1071.6,1501.4 1072.8,1501.5 1074.0,1501.5 1075.2,1501.5 1076.4,1501.5 1077.6,1501.5 1078.8,1501.5 1080.0,1501.5 1081.2,1501.5 1082.4,1501.5 1083.6,1501.6 1084.8,1501.6 1086.0,1501.6 1087.2,1501.6 1088.4,1501.6 1089.6,1501.6 1090.8,1501.6 1092.0,1501.6 1093.2,1501.6 1094.4,1501.7 1095.6,1501.7 1096.8,1501.7 1098.0,1501.7 1099.2,1501.7 1100.4,1501.7 1101.6,1501.7 1102.8,1501.7 1104.0,1501.7 1105.2,1501.8 1106.4,1501.8 1107.6,1501.8 1108.9,1501.8 1110.1,1501.8 1111.3,1501.8 1112.5,1501.8 1113.7,1501.8 1114.9,1501.8 1116.1,1501.8 1117.3,1501.9 1118.5,1501.9 1119.7,1501.9 1120.9,1501.9 1122.1,1501.9 1123.3,1501.9 1124.5,1501.9 1125.7,1501.9 1126.9,1501.9 1128.1,1501.9 1129.3,1501.9 1130.5,1502.0 1131.7,1502.0 1132.9,1502.0 1134.1,1502.0 1135.3,1502.0 1136.5,1502.0 1137.7,1502.0 1138.9,1502.0 1140.1,1502.0 1141.3,1502.0 1142.5,1502.0 1143.7,1502.1 1144.9,1502.1 1146.1,1502.1 1147.3,1502.1 1148.5,1502.1 1149.7,1502.1 1150.9,1502.1 1152.1,1502.1 1153.3,1502.1 1154.5,1502.1 1155.7,1502.1 1156.9,1502.1 1158.1,1502.2 1159.3,1502.2 1160.5,1502.2 1161.7,1502.2 1162.9,1502.2 1164.1,1502.2 1165.3,1502.2 1166.5,1502.2 1167.7,1502.2 1168.9,1502.2 1170.1,1502.2 1171.3,1502.2 1172.5,1502.2 1173.8,1502.2 1175.0,1502.3 1176.2,1502.3 1177.4,1502.3 1178.6,1502.3 1179.8,1502.3 1181.0,1502.3 1182.2,1502.3 1183.4,1502.3 1184.6,1502.3 1185.8,1502.3 1187.0,1502.3 1188.2,1502.3 1189.4,1502.3 1190.6,1502.3 1191.8,1502.3 1193.0,1502.3 1194.2,1502.4 1195.4,1502.4 1196.6,1502.4 1197.8,1502.4 1199.0,1502.4 1200.2,1502.4 1201.4,1502.4 1202.6,1502.4 1203.8,1502.4 1205.0,1502.4"/>
<polyline fill="none" stroke="#3F79B9" stroke-width="5.8" stroke-linejoin="round" stroke-linecap="butt" points="109.5,826.3 110.7,833.3 111.9,840.6 113.1,848.2 114.4,856.4 115.6,864.7 116.8,872.4 118.0,879.4 119.2,886.2 120.4,893.1 121.6,900.1 122.8,906.4 124.1,914.9 125.3,934.7 126.5,945.2 127.7,951.2 128.9,955.7 130.1,960.6 131.3,965.0 132.6,969.0 133.8,972.8 135.0,976.5 136.2,980.3 137.4,984.3 138.6,988.3 139.8,992.1 141.1,996.0 142.3,1000.1 143.5,1004.3 144.7,1008.7 145.9,1014.1 147.1,1019.1 148.3,1022.6 149.5,1025.6 150.8,1028.3 152.0,1030.7 153.2,1032.9 154.4,1035.0 155.6,1037.2 156.8,1039.5 158.0,1041.8 159.3,1043.7 160.5,1045.2 161.7,1045.9 162.9,1046.0 164.1,1046.0 165.3,1046.0 166.5,1046.0 167.8,1046.0 169.0,1046.0 170.2,1045.7 171.4,1044.5 172.6,1042.8 173.8,1040.8 175.0,1038.5 176.2,1036.2 177.5,1033.6 178.7,1030.5 179.9,1027.0 181.1,1023.3 182.3,1019.4 183.5,1015.5 184.7,1011.7 186.0,1007.8 187.2,1003.8 188.4,999.6 189.6,995.2 190.8,990.5 192.0,985.6 193.2,980.0 194.4,974.0 195.7,968.0 196.9,962.5 198.1,957.6 199.3,953.3 200.5,949.3 201.7,945.5 202.9,941.7 204.2,937.7 205.4,933.5 206.6,929.4 207.8,925.4 209.0,921.1 210.2,916.0 211.4,909.7 212.7,898.5 213.9,885.1 215.1,878.0 216.3,872.5 217.5,868.0 218.7,863.9 219.9,859.7 221.1,855.2 222.4,850.8 223.6,846.4 224.8,841.8 226.0,837.0 227.2,832.0 228.4,826.5 229.6,820.0 230.9,811.2 232.1,802.8 233.3,795.8 234.5,789.4 235.7,783.1 236.9,776.1 238.1,767.6 239.3,759.2 240.6,752.9 241.8,747.4 243.0,742.3 244.2,737.4 245.4,732.5 246.6,727.7 247.8,723.1 249.1,718.5 250.3,714.0 251.5,709.4 252.7,704.9 253.9,700.6 255.1,696.6 256.3,694.3 257.6,692.5 258.8,688.9 260.0,670.5 261.2,662.2 262.4,658.8 263.6,655.2 264.8,651.9 266.0,649.0 267.3,646.3 268.5,643.4 269.7,640.0 270.9,636.4 272.1,632.6 273.3,628.8 274.5,625.1 275.8,621.3 277.0,617.1 278.2,612.1 279.4,606.0 280.6,599.9 281.8,595.0 283.0,590.7 284.3,586.5 285.5,581.9 286.7,576.7 287.9,572.0 289.1,568.8 290.3,567.1 291.5,566.0 292.7,565.0 294.0,563.4 295.2,560.5 296.4,551.9 297.6,540.0 299.3,539.2 302.5,520.2 305.6,516.4 308.8,498.6 312.0,493.5 315.8,496.1 318.3,474.5 320.9,472.2 323.4,469.5 324.7,453.0 326.9,462.5 329.1,470.7 331.0,455.5 334.8,454.2 337.3,422.6 341.1,439.0 343.0,420.0 345.2,417.1 347.5,417.5 350.0,371.8 353.2,404.8 355.7,395.9 357.6,401.0 360.1,406.8 362.7,412.4 366.5,404.8 368.4,378.2 371.6,371.8 372.8,390.9 375.4,395.9 377.9,394.7 381.1,403.5 384.2,368.0 388.0,370.6 390.6,383.2 393.8,349.0 396.9,380.7 400.7,380.7 403.3,355.4 405.8,389.6 409.6,375.6 412.6,411.7 414.9,403.0 417.2,388.0 419.4,378.2 421.6,374.4 425.2,414.0 428.2,410.5 431.2,411.7 434.2,406.9 437.2,409.3 438.4,421.3 441.4,426.8 444.4,433.3 448.0,421.3 450.4,438.0 453.4,439.1 456.4,447.7 458.9,457.0 461.3,466.9 463.7,469.7 466.1,468.3 468.5,471.7 470.9,476.3 473.3,480.0 475.7,483.7 478.1,489.4 480.5,498.4 482.9,505.4 485.3,514.2 487.7,524.6 490.7,525.5 493.7,527.0 496.1,534.7 498.5,543.8 500.9,548.4 503.3,551.6 505.7,555.8 506.9,567.8 509.7,573.1 512.5,580.7 515.3,587.0 518.3,593.9 521.3,598.4 524.3,604.1 527.3,611.0 530.2,616.4 533.1,624.0 535.9,629.9 538.8,634.7 541.7,639.9 544.5,645.2 547.3,649.0 550.1,651.9 552.7,656.8 555.4,661.2 558.0,668.2 560.7,673.2 563.3,678.3 566.1,683.5 569.0,688.6 571.8,695.1 575.0,703.0 576.2,704.3 577.4,706.0 578.6,707.6 579.8,709.3 581.0,710.9 582.2,712.6 583.4,714.2 584.6,715.9 585.8,717.6 587.0,719.2 588.2,720.9 589.4,722.6 590.6,724.3 591.8,726.0 593.0,727.7 594.2,729.4 595.4,731.1 596.7,732.8 597.9,734.5 599.1,736.2 600.3,737.9 601.5,739.6 602.7,741.3 603.9,743.0 605.1,744.7 606.3,746.5 607.5,748.2 608.7,749.9 609.9,751.6 611.1,753.3 612.3,755.0 613.5,756.7 614.7,758.4 615.9,760.0 617.1,761.7 618.3,763.3 619.5,765.0 620.7,766.6 621.9,768.2 623.1,769.8 624.3,771.3 625.5,772.9 626.7,774.5 627.9,776.0 629.1,777.6 630.3,779.1 631.5,780.6 632.7,782.1 633.9,783.6 635.1,785.0 636.3,786.5 637.5,787.9 638.8,789.4 640.0,790.8 641.2,792.2 642.4,793.6 643.6,794.9 644.8,796.3 646.0,797.7 647.2,799.0 648.4,800.4 649.6,801.7 650.8,803.1 652.0,804.4 653.2,805.7 654.4,807.1 655.6,808.4 656.8,809.7 658.0,811.0 659.2,812.3 660.4,813.6 661.6,814.9 662.8,816.2 664.0,817.5 665.2,818.8 666.4,820.1 667.6,821.4 668.8,822.7 670.0,824.0 671.2,825.3 672.4,826.6 673.6,827.9 674.8,829.2 676.0,830.5 677.2,831.8 678.4,833.1 679.6,834.4 680.9,835.7 682.1,837.0 683.3,838.4 684.5,839.7 685.7,841.0 686.9,842.3 688.1,843.6 689.3,845.0 690.5,846.3 691.7,847.6 692.9,849.0 694.1,850.3 695.3,851.6 696.5,852.9 697.7,854.3 698.9,855.6 700.1,856.9 701.3,858.2 702.5,859.6 703.7,860.9 704.9,862.2 706.1,863.5 707.3,864.8 708.5,866.1 709.7,867.4 710.9,868.7 712.1,869.9 713.3,871.2 714.5,872.5 715.7,873.7 716.9,875.0 718.1,876.2 719.3,877.5 720.5,878.7 721.7,879.9 723.0,881.1 724.2,882.3 725.4,883.5 726.6,884.7 727.8,885.9 729.0,887.1 730.2,888.2 731.4,889.4 732.6,890.6 733.8,891.7 735.0,892.8 736.2,894.0 737.4,895.1 738.6,896.2 739.8,897.4 741.0,898.5 742.2,899.6 743.4,900.7 744.6,901.8 745.8,902.9 747.0,904.0 748.2,905.1 749.4,906.2 750.6,907.2 751.8,908.3 753.0,909.4 754.2,910.5 755.4,911.6 756.6,912.6 757.8,913.7 759.0,914.8 760.2,915.9 761.4,916.9 762.6,918.0 763.8,919.1 765.1,920.2 766.3,921.2 767.5,922.3 768.7,923.4 769.9,924.5 771.1,925.6 772.3,926.7 773.5,927.7 774.7,928.8 775.9,929.9 777.1,931.0 778.3,932.1 779.5,933.2 780.7,934.3 781.9,935.4 783.1,936.5 784.3,937.6 785.5,938.7 786.7,939.8 787.9,940.9 789.1,942.0 790.3,943.1 791.5,944.2 792.7,945.3 793.9,946.4 795.1,947.5 796.3,948.6 797.5,949.7 798.7,950.8 799.9,951.9 801.1,953.0 802.3,954.1 803.5,955.2 804.7,956.3 805.9,957.4 807.2,958.4 808.4,959.5 809.6,960.6 810.8,961.7 812.0,962.7 813.2,963.8 814.4,964.9 815.6,965.9 816.8,967.0 818.0,968.0 819.2,969.0 820.4,970.0 821.6,971.1 822.8,972.1 824.0,973.1 825.2,974.1 826.4,975.1 827.6,976.1 828.8,977.1 830.0,978.0 831.2,979.0 832.4,980.0 833.6,980.9 834.8,981.9 836.0,982.8 837.2,983.8 838.4,984.7 839.6,985.7 840.8,986.6 842.0,987.5 843.2,988.5 844.4,989.4 845.6,990.3 846.8,991.3 848.0,992.2 849.3,993.1 850.5,994.1 851.7,995.0 852.9,995.9 854.1,996.9 855.3,997.8 856.5,998.8 857.7,999.7 858.9,1000.7 860.1,1001.6 861.3,1002.6 862.5,1003.5 863.7,1004.5 864.9,1005.5 866.1,1006.4 867.3,1007.4 868.5,1008.4 869.7,1009.4 870.9,1010.3 872.1,1011.3 873.3,1012.3 874.5,1013.3 875.7,1014.3 876.9,1015.3 878.1,1016.3 879.3,1017.3 880.5,1018.3 881.7,1019.3 882.9,1020.3 884.1,1021.2 885.3,1022.2 886.5,1023.2 887.7,1024.2 888.9,1025.2 890.1,1026.2 891.4,1027.2 892.6,1028.1 893.8,1029.1 895.0,1030.1 896.2,1031.0 897.4,1032.0 898.6,1032.9 899.8,1033.9 901.0,1034.8 902.2,1035.7 903.4,1036.6 904.6,1037.5 905.8,1038.5 907.0,1039.4 908.2,1040.2 909.4,1041.1 910.6,1042.0 911.8,1042.9 913.0,1043.8 914.2,1044.6 915.4,1045.5 916.6,1046.3 917.8,1047.2 919.0,1048.0 920.2,1048.8 921.4,1049.6 922.6,1050.5 923.8,1051.3 925.0,1052.1 926.2,1052.9 927.4,1053.7 928.6,1054.5 929.8,1055.3 931.0,1056.1 932.3,1056.9 933.5,1057.7 934.7,1058.6 935.9,1059.4 937.1,1060.2 938.3,1061.0 939.5,1061.8 940.7,1062.6 941.9,1063.4 943.1,1064.2 944.3,1065.0 945.5,1065.8 946.7,1066.7 947.9,1067.5 949.1,1068.3 950.3,1069.1 951.5,1070.0 952.7,1070.8 953.9,1071.6 955.1,1072.5 956.3,1073.3 957.5,1074.2 958.7,1075.0 959.9,1075.9 961.1,1076.7 962.3,1077.6 963.5,1078.4 964.7,1079.3 965.9,1080.1 967.1,1081.0 968.3,1081.8 969.5,1082.7 970.7,1083.5 971.9,1084.4 973.1,1085.2 974.4,1086.1 975.6,1086.9 976.8,1087.7 978.0,1088.6 979.2,1089.4 980.4,1090.2 981.6,1091.0 982.8,1091.9 984.0,1092.7 985.2,1093.5 986.4,1094.3 987.6,1095.1 988.8,1095.9 990.0,1096.7 991.2,1097.5 992.4,1098.3 993.6,1099.1 994.8,1099.9 996.0,1100.6 997.2,1101.4 998.4,1102.2 999.6,1103.0 1000.8,1103.7 1002.0,1104.5 1003.2,1105.2 1004.4,1106.0 1005.6,1106.8 1006.8,1107.5 1008.0,1108.3 1009.2,1109.0 1010.4,1109.8 1011.6,1110.5 1012.8,1111.3 1014.0,1112.0 1015.2,1112.8 1016.5,1113.5 1017.7,1114.3 1018.9,1115.0 1020.1,1115.8 1021.3,1116.5 1022.5,1117.3 1023.7,1118.0 1024.9,1118.8 1026.1,1119.5 1027.3,1120.3 1028.5,1121.0 1029.7,1121.7 1030.9,1122.5 1032.1,1123.2 1033.3,1124.0 1034.5,1124.7 1035.7,1125.5 1036.9,1126.2 1038.1,1126.9 1039.3,1127.7 1040.5,1128.4 1041.7,1129.1 1042.9,1129.9 1044.1,1130.6 1045.3,1131.3 1046.5,1132.0 1047.7,1132.8 1048.9,1133.5 1050.1,1134.2 1051.3,1134.9 1052.5,1135.6 1053.7,1136.3 1054.9,1137.0 1056.1,1137.7 1057.3,1138.4 1058.6,1139.1 1059.8,1139.8 1061.0,1140.5 1062.2,1141.2 1063.4,1141.9 1064.6,1142.5 1065.8,1143.2 1067.0,1143.9 1068.2,1144.6 1069.4,1145.2 1070.6,1145.9 1071.8,1146.6 1073.0,1147.2 1074.2,1147.9 1075.4,1148.5 1076.6,1149.2 1077.8,1149.8 1079.0,1150.5 1080.2,1151.1 1081.4,1151.8 1082.6,1152.4 1083.8,1153.0 1085.0,1153.7 1086.2,1154.3 1087.4,1154.9 1088.6,1155.6 1089.8,1156.2 1091.0,1156.8 1092.2,1157.5 1093.4,1158.1 1094.6,1158.7 1095.8,1159.3 1097.0,1160.0 1098.2,1160.6 1099.4,1161.2 1100.7,1161.8 1101.9,1162.4 1103.1,1163.1 1104.3,1163.7 1105.5,1164.3 1106.7,1164.9 1107.9,1165.5 1109.1,1166.2 1110.3,1166.8 1111.5,1167.4 1112.7,1168.0 1113.9,1168.6 1115.1,1169.2 1116.3,1169.8 1117.5,1170.4 1118.7,1171.1 1119.9,1171.7 1121.1,1172.3 1122.3,1172.9 1123.5,1173.5 1124.7,1174.1 1125.9,1174.7 1127.1,1175.3 1128.3,1175.9 1129.5,1176.5 1130.7,1177.1 1131.9,1177.7 1133.1,1178.3 1134.3,1178.9 1135.5,1179.5 1136.7,1180.1 1137.9,1180.6 1139.1,1181.2 1140.3,1181.8 1141.5,1182.4 1142.8,1182.9 1144.0,1183.5 1145.2,1184.1 1146.4,1184.6 1147.6,1185.2 1148.8,1185.7 1150.0,1186.3 1151.2,1186.8 1152.4,1187.4 1153.6,1187.9 1154.8,1188.5 1156.0,1189.0 1157.2,1189.5 1158.4,1190.0 1159.6,1190.6 1160.8,1191.1 1162.0,1191.6 1163.2,1192.1 1164.4,1192.6 1165.6,1193.1 1166.8,1193.6 1168.0,1194.1 1169.2,1194.6 1170.4,1195.0 1171.6,1195.5 1172.8,1196.0 1174.0,1196.5 1175.2,1196.9 1176.4,1197.4 1177.6,1197.9 1178.8,1198.3 1180.0,1198.8 1181.2,1199.3 1182.4,1199.7 1183.6,1200.2 1184.9,1200.6 1186.1,1201.1 1187.3,1201.5 1188.5,1201.9 1189.7,1202.4 1190.9,1202.8 1192.1,1203.3 1193.3,1203.7 1194.5,1204.1 1195.7,1204.6 1196.9,1205.0 1198.1,1205.4 1199.3,1205.9 1200.5,1206.3 1201.7,1206.7 1202.9,1207.1 1204.1,1207.6 1205.3,1208.0"/>
<polyline fill="none" stroke="#8DA9D2" stroke-width="5.8" stroke-linejoin="round" stroke-linecap="butt" points="108.2,511.0 109.4,513.6 110.6,516.7 111.8,520.1 113.0,523.4 114.2,526.4 115.4,529.2 116.6,532.0 117.8,534.8 119.0,537.6 120.2,540.2 121.4,542.7 122.6,545.0 123.8,547.1 125.0,549.2 126.2,552.0 127.4,555.1 128.6,558.4 129.8,562.4 131.0,566.9 132.2,571.8 133.4,576.6 134.6,581.2 135.8,585.5 137.0,589.8 138.2,594.4 139.4,599.8 140.6,606.5 141.8,613.4 143.0,619.7 144.2,625.5 145.4,631.2 146.6,636.6 147.8,642.4 149.0,648.1 150.2,653.6 151.4,658.8 152.6,663.6 153.8,668.3 155.0,673.1 156.2,677.9 157.4,683.0 158.6,688.6 159.8,694.5 161.0,699.9 162.2,705.1 163.4,710.1 164.6,714.7 165.8,718.9 167.0,722.9 168.2,726.6 169.4,730.2 170.6,733.8 171.8,737.4 173.0,741.0 174.2,744.8 175.4,748.8 176.6,753.0 177.8,757.3 179.0,761.6 180.2,766.0 181.4,770.4 182.6,774.7 183.8,778.8 185.0,782.9 186.2,787.0 187.4,791.0 188.6,795.0 189.8,798.9 191.0,802.8 192.2,806.7 193.4,810.5 194.6,814.3 195.8,818.1 197.0,821.9 198.2,825.7 199.4,829.4 200.6,833.2 201.8,837.2 203.0,841.5 204.2,846.2 205.4,851.6 206.6,857.3 207.8,863.3 209.0,869.2 210.2,875.0 211.4,880.9 212.6,886.8 213.8,892.6 215.0,898.2 216.2,903.6 217.4,908.5 218.6,913.3 219.8,917.9 221.0,922.6 222.2,927.5 223.4,932.6 224.6,937.7 225.8,943.0 227.0,948.4 228.2,954.1 229.4,960.1 230.6,966.7 231.8,973.9 233.0,981.2 234.2,988.5 235.4,995.3 236.6,1001.7 237.8,1007.9 239.0,1014.0 240.2,1020.1 241.4,1026.2 242.6,1032.3 243.8,1038.5 245.0,1044.9 246.2,1051.2 247.4,1057.4 248.6,1063.5 249.8,1069.4 251.0,1075.1 252.2,1080.5 253.4,1085.7 254.6,1090.5 255.8,1094.7 257.0,1098.6 258.2,1102.3 259.4,1106.0 260.6,1109.8 261.8,1113.8 263.0,1118.0 264.2,1122.4 265.4,1126.8 266.6,1131.3 267.8,1135.9 269.0,1140.5 270.2,1145.1 271.4,1149.8 272.6,1154.5 273.8,1159.3 275.0,1164.1 276.2,1169.0 277.4,1173.9 278.6,1178.9 279.8,1184.0 281.0,1189.0 282.2,1194.2 283.4,1199.6 284.6,1205.2 285.8,1210.7 287.0,1216.0 288.2,1221.1 289.4,1225.7 290.6,1230.0 291.8,1234.0 293.0,1237.9 294.2,1241.6 295.4,1245.4 296.6,1249.2 297.8,1253.3 299.0,1257.7 300.2,1262.8 301.4,1268.3 302.6,1273.9 303.8,1278.9 305.0,1282.7 306.2,1285.7 307.4,1288.4 308.6,1290.9 309.8,1293.1 311.0,1295.2 312.2,1297.2 313.4,1299.2 314.6,1301.3 315.8,1303.3 317.0,1305.3 318.2,1307.3 319.4,1309.2 320.6,1311.1 321.8,1312.9 323.0,1314.7 324.2,1316.3 325.4,1318.0 326.6,1319.5 327.8,1321.0 329.0,1322.5 330.2,1324.0 331.4,1325.4 332.6,1326.7 333.8,1328.1 335.0,1329.4 336.2,1330.8 337.4,1332.1 338.6,1333.4 339.8,1334.8 341.0,1336.1 342.2,1337.4 343.4,1338.8 344.6,1340.2 345.8,1341.6 347.0,1343.1 348.2,1344.6 349.4,1346.0 350.6,1347.5 351.8,1348.8 353.0,1350.2 354.2,1351.4 355.4,1352.6 356.6,1353.7 357.8,1354.8 359.0,1355.8 360.2,1356.8 361.4,1357.8 362.6,1358.8 363.8,1359.8 365.0,1360.8 366.2,1361.7 367.4,1362.7 368.6,1363.7 369.8,1364.7 371.0,1365.7 372.2,1366.8 373.4,1367.8 374.6,1368.9 375.8,1369.9 377.0,1371.0 378.2,1372.0 379.4,1373.0 380.6,1374.1 381.8,1375.1 383.0,1376.1 384.2,1377.1 385.4,1378.0 386.6,1379.0 387.8,1379.9 389.0,1380.8 390.2,1381.7 391.4,1382.6 392.6,1383.5 393.8,1384.3 395.0,1385.2 396.2,1386.1 397.4,1386.9 398.6,1387.8 399.8,1388.6 401.0,1389.5 402.2,1390.3 403.4,1391.1 404.6,1392.0 405.8,1392.8 407.0,1393.7 408.2,1394.5 409.4,1395.4 410.6,1396.2 411.8,1397.0 413.0,1397.9 414.2,1398.7 415.4,1399.6 416.6,1400.4 417.8,1401.3 419.0,1402.1 420.2,1403.0 421.4,1403.8 422.6,1404.7 423.8,1405.5 425.0,1406.4 426.2,1407.3 427.4,1408.2 428.6,1409.2 429.8,1410.1 431.0,1411.1 432.2,1412.1 433.4,1413.0 434.6,1414.0 435.8,1415.0 437.0,1415.9 438.2,1416.8 439.4,1417.8 440.6,1418.7 441.8,1419.6 443.0,1420.4 444.2,1421.3 445.4,1422.1 446.6,1422.8 447.8,1423.6 449.0,1424.3 450.2,1425.0 451.4,1425.7 452.6,1426.4 453.8,1427.0 455.0,1427.7 456.2,1428.3 457.4,1429.0 458.6,1429.6 459.8,1430.2 461.0,1430.8 462.2,1431.5 463.4,1432.0 464.6,1432.6 465.8,1433.2 467.0,1433.8 468.2,1434.4 469.4,1434.9 470.6,1435.5 471.8,1436.1 473.0,1436.6 474.2,1437.2 475.4,1437.7 476.6,1438.3 477.8,1438.8 479.0,1439.3 480.2,1439.9 481.4,1440.5 482.6,1441.1 483.8,1441.7 485.0,1442.3 486.2,1442.9 487.4,1443.5 488.6,1444.0 489.8,1444.6 491.0,1445.2 492.2,1445.8 493.4,1446.3 494.6,1446.9 495.8,1447.5 497.0,1448.0 498.2,1448.6 499.4,1449.1 500.6,1449.7 501.8,1450.2 503.0,1450.7 504.2,1451.2 505.4,1451.7 506.6,1452.2 507.8,1452.7 509.0,1453.2 510.2,1453.6 511.4,1454.1 512.6,1454.5 513.8,1454.9 515.0,1455.4 516.2,1455.8 517.4,1456.2 518.6,1456.6 519.8,1457.0 521.0,1457.4 522.2,1457.8 523.4,1458.2 524.6,1458.6 525.8,1458.9 527.0,1459.3 528.2,1459.7 529.4,1460.0 530.6,1460.4 531.8,1460.7 533.0,1461.1 534.2,1461.4 535.4,1461.8 536.6,1462.1 537.8,1462.4 539.0,1462.7 540.2,1463.0 541.4,1463.4 542.6,1463.7 543.8,1464.0 545.0,1464.3 546.2,1464.6 547.4,1464.8 548.6,1465.1 549.8,1465.4 551.0,1465.7 552.2,1466.0 553.4,1466.2 554.6,1466.5 555.8,1466.8 557.0,1467.0 558.2,1467.3 559.4,1467.6 560.6,1467.8 561.8,1468.1 563.0,1468.3 564.2,1468.6 565.4,1468.8 566.6,1469.0 567.8,1469.3 569.0,1469.5 570.2,1469.7 571.4,1469.9 572.6,1470.1 573.8,1470.4 575.0,1470.6 576.2,1470.8 577.4,1470.9 578.6,1471.1 579.8,1471.3 581.0,1471.5 582.2,1471.7 583.4,1471.8 584.6,1472.0 585.8,1472.2 587.0,1472.3 588.2,1472.5 589.4,1472.6 590.6,1472.8 591.8,1472.9 593.0,1473.1 594.2,1473.2 595.4,1473.4 596.6,1473.5 597.8,1473.7 599.0,1473.8 600.2,1473.9 601.4,1474.1 602.6,1474.2 603.8,1474.3 605.0,1474.5 606.2,1474.6 607.4,1474.7 608.6,1474.8 609.8,1475.0 611.0,1475.1 612.2,1475.2 613.4,1475.3 614.6,1475.5 615.8,1475.6 617.0,1475.7 618.2,1475.8 619.4,1475.9 620.6,1476.1 621.8,1476.2 623.0,1476.3 624.2,1476.4 625.4,1476.6 626.6,1476.7 627.8,1476.8 629.0,1476.9 630.2,1477.1 631.4,1477.2 632.6,1477.3 633.8,1477.4 635.0,1477.6 636.2,1477.7 637.4,1477.8 638.6,1478.0 639.8,1478.1 641.0,1478.2 642.2,1478.3 643.4,1478.5 644.6,1478.6 645.8,1478.7 647.0,1478.8 648.2,1479.0 649.4,1479.1 650.6,1479.2 651.8,1479.3 653.0,1479.5 654.2,1479.6 655.4,1479.7 656.6,1479.8 657.8,1479.9 659.0,1480.1 660.2,1480.2 661.4,1480.3 662.6,1480.4 663.8,1480.5 665.0,1480.6 666.2,1480.7 667.4,1480.9 668.6,1481.0 669.8,1481.1 671.0,1481.2 672.2,1481.3 673.4,1481.4 674.6,1481.5 675.8,1481.6 677.0,1481.7 678.2,1481.8 679.4,1481.9 680.6,1482.0 681.8,1482.1 683.0,1482.2 684.2,1482.3 685.4,1482.4 686.6,1482.5 687.8,1482.6 689.0,1482.6 690.2,1482.7 691.4,1482.8 692.6,1482.9 693.8,1483.0 695.0,1483.1 696.2,1483.2 697.4,1483.3 698.6,1483.3 699.8,1483.4 701.0,1483.5 702.2,1483.6 703.4,1483.7 704.6,1483.8 705.8,1483.8 707.0,1483.9 708.2,1484.0 709.4,1484.1 710.6,1484.2 711.8,1484.2 713.0,1484.3 714.2,1484.4 715.4,1484.5 716.6,1484.5 717.8,1484.6 719.0,1484.7 720.2,1484.8 721.4,1484.8 722.6,1484.9 723.8,1485.0 725.0,1485.0 726.2,1485.1 727.4,1485.2 728.6,1485.3 729.8,1485.3 731.0,1485.4 732.2,1485.5 733.4,1485.5 734.6,1485.6 735.8,1485.6 737.0,1485.7 738.2,1485.8 739.4,1485.8 740.6,1485.9 741.8,1485.9 743.0,1486.0 744.2,1486.0 745.4,1486.1 746.6,1486.1 747.8,1486.2 749.0,1486.2 750.2,1486.3 751.4,1486.3 752.6,1486.4 753.8,1486.4 755.0,1486.5 756.2,1486.5 757.4,1486.6 758.6,1486.6 759.8,1486.7 761.0,1486.7 762.2,1486.8 763.4,1486.8 764.6,1486.9 765.8,1486.9 767.0,1486.9 768.2,1487.0 769.4,1487.0 770.6,1487.1 771.8,1487.1 773.0,1487.2 774.2,1487.2 775.4,1487.3 776.6,1487.3 777.8,1487.4 779.0,1487.5 780.2,1487.5 781.4,1487.6 782.6,1487.6 783.8,1487.7 785.0,1487.7 786.2,1487.8 787.4,1487.9 788.6,1487.9 789.8,1488.0 791.0,1488.1 792.2,1488.1 793.4,1488.2 794.6,1488.3 795.8,1488.3 797.0,1488.4 798.2,1488.5 799.4,1488.6 800.6,1488.6 801.8,1488.7 803.0,1488.8 804.2,1488.9 805.4,1489.0 806.6,1489.2 807.8,1489.3 809.0,1489.4 810.2,1489.5 811.4,1489.7 812.6,1489.8 813.8,1489.9 815.0,1490.1 816.2,1490.2 817.4,1490.4 818.6,1490.5 819.8,1490.6 821.0,1490.8 822.2,1490.9 823.4,1491.0 824.6,1491.2 825.8,1491.3 827.0,1491.4 828.2,1491.5 829.4,1491.6 830.6,1491.7 831.8,1491.8 833.0,1491.9 834.2,1492.0 835.4,1492.1 836.6,1492.1 837.8,1492.2 839.0,1492.3 840.2,1492.4 841.4,1492.4 842.6,1492.5 843.8,1492.6 845.0,1492.7 846.2,1492.7 847.4,1492.8 848.6,1492.9 849.8,1492.9 851.0,1493.0 852.2,1493.1 853.4,1493.1 854.6,1493.2 855.8,1493.3 857.0,1493.3 858.2,1493.4 859.4,1493.4 860.6,1493.5 861.8,1493.6 863.0,1493.6 864.2,1493.7 865.4,1493.7 866.6,1493.8 867.8,1493.8 869.0,1493.9 870.2,1494.0 871.4,1494.0 872.6,1494.1 873.8,1494.1 875.0,1494.2 876.2,1494.2 877.4,1494.3 878.6,1494.3 879.8,1494.4 881.0,1494.4 882.2,1494.5 883.4,1494.5 884.6,1494.5 885.8,1494.6 887.0,1494.6 888.2,1494.7 889.4,1494.7 890.6,1494.8 891.8,1494.8 893.0,1494.8 894.2,1494.9 895.4,1494.9 896.6,1495.0 897.8,1495.0 899.0,1495.0 900.2,1495.1 901.4,1495.1 902.6,1495.1 903.8,1495.2 905.0,1495.2 906.2,1495.2 907.4,1495.2 908.6,1495.3 909.8,1495.3 911.0,1495.3 912.2,1495.4 913.4,1495.4 914.6,1495.4 915.8,1495.5 917.0,1495.5 918.2,1495.5 919.4,1495.5 920.6,1495.6 921.8,1495.6 923.0,1495.6 924.2,1495.6 925.4,1495.7 926.6,1495.7 927.8,1495.7 929.0,1495.8 930.2,1495.8 931.4,1495.8 932.6,1495.8 933.8,1495.9 935.0,1495.9 936.2,1495.9 937.4,1495.9 938.6,1496.0 939.8,1496.0 941.0,1496.0 942.2,1496.0 943.4,1496.0 944.6,1496.1 945.8,1496.1 947.0,1496.1 948.2,1496.1 949.4,1496.2 950.6,1496.2 951.8,1496.2 953.0,1496.2 954.2,1496.3 955.4,1496.3 956.6,1496.3 957.8,1496.3 959.0,1496.3 960.2,1496.4 961.4,1496.4 962.6,1496.4 963.8,1496.4 965.0,1496.4 966.2,1496.5 967.4,1496.5 968.6,1496.5 969.8,1496.5 971.0,1496.6 972.2,1496.6 973.4,1496.6 974.6,1496.6 975.8,1496.6 977.0,1496.6 978.2,1496.7 979.4,1496.7 980.6,1496.7 981.8,1496.7 983.0,1496.7 984.2,1496.8 985.4,1496.8 986.6,1496.8 987.8,1496.8 989.0,1496.8 990.2,1496.9 991.4,1496.9 992.6,1496.9 993.8,1496.9 995.0,1496.9 996.2,1496.9 997.4,1497.0 998.6,1497.0 999.8,1497.0 1001.0,1497.0 1002.2,1497.0 1003.4,1497.0 1004.6,1497.1 1005.8,1497.1 1007.0,1497.1 1008.2,1497.1 1009.4,1497.1 1010.6,1497.1 1011.8,1497.2 1013.0,1497.2 1014.2,1497.2 1015.4,1497.2 1016.6,1497.2 1017.8,1497.2 1019.0,1497.2 1020.2,1497.3 1021.4,1497.3 1022.6,1497.3 1023.8,1497.3 1025.0,1497.3 1026.2,1497.3 1027.4,1497.3 1028.6,1497.4 1029.8,1497.4 1031.0,1497.4 1032.2,1497.4 1033.4,1497.4 1034.6,1497.4 1035.8,1497.4 1037.0,1497.5 1038.2,1497.5 1039.4,1497.5 1040.6,1497.5 1041.8,1497.5 1043.0,1497.5 1044.2,1497.5 1045.4,1497.6 1046.6,1497.6 1047.8,1497.6 1049.0,1497.6 1050.2,1497.6 1051.4,1497.6 1052.6,1497.6 1053.8,1497.6 1055.0,1497.7 1056.2,1497.7 1057.4,1497.7 1058.6,1497.7 1059.8,1497.7 1061.0,1497.7 1062.2,1497.7 1063.4,1497.7 1064.6,1497.8 1065.8,1497.8 1067.0,1497.8 1068.2,1497.8 1069.4,1497.8 1070.6,1497.8 1071.8,1497.8 1073.0,1497.8 1074.2,1497.8 1075.4,1497.9 1076.6,1497.9 1077.8,1497.9 1079.0,1497.9 1080.2,1497.9 1081.4,1497.9 1082.6,1497.9 1083.8,1497.9 1085.0,1498.0 1086.2,1498.0 1087.4,1498.0 1088.6,1498.0 1089.8,1498.0 1091.0,1498.0 1092.2,1498.0 1093.4,1498.0 1094.6,1498.0 1095.8,1498.1 1097.0,1498.1 1098.2,1498.1 1099.4,1498.1 1100.6,1498.1 1101.8,1498.1 1103.0,1498.1 1104.2,1498.1 1105.4,1498.1 1106.6,1498.2 1107.8,1498.2 1109.0,1498.2 1110.2,1498.2 1111.4,1498.2 1112.6,1498.2 1113.8,1498.2 1115.0,1498.2 1116.2,1498.2 1117.4,1498.2 1118.6,1498.3 1119.8,1498.3 1121.0,1498.3 1122.2,1498.3 1123.4,1498.3 1124.6,1498.3 1125.8,1498.3 1127.0,1498.3 1128.2,1498.3 1129.4,1498.3 1130.6,1498.4 1131.8,1498.4 1133.0,1498.4 1134.2,1498.4 1135.4,1498.4 1136.6,1498.4 1137.8,1498.4 1139.0,1498.4 1140.2,1498.4 1141.4,1498.4 1142.6,1498.5 1143.8,1498.5 1145.0,1498.5 1146.2,1498.5 1147.4,1498.5 1148.6,1498.5 1149.8,1498.5 1151.0,1498.5 1152.2,1498.5 1153.4,1498.5 1154.6,1498.5 1155.8,1498.5 1157.0,1498.6 1158.2,1498.6 1159.4,1498.6 1160.6,1498.6 1161.8,1498.6 1163.0,1498.6 1164.2,1498.6 1165.4,1498.6 1166.6,1498.6 1167.8,1498.6 1169.0,1498.6 1170.2,1498.6 1171.4,1498.6 1172.6,1498.6 1173.8,1498.7 1175.0,1498.7 1176.2,1498.7 1177.4,1498.7 1178.6,1498.7 1179.8,1498.7 1181.0,1498.7 1182.2,1498.7 1183.4,1498.7 1184.6,1498.7 1185.8,1498.7 1187.0,1498.7 1188.2,1498.7 1189.4,1498.7 1190.6,1498.7 1191.8,1498.7 1193.0,1498.8 1194.2,1498.8 1195.4,1498.8 1196.6,1498.8 1197.8,1498.8 1199.0,1498.8 1200.2,1498.8 1201.4,1498.8 1202.6,1498.8 1203.8,1498.8 1205.0,1498.8"/>
<polyline fill="none" stroke="#D88F8D" stroke-width="5.8" stroke-linejoin="round" stroke-linecap="butt" points="108.2,445.5 109.4,447.6 110.6,453.6 111.8,462.7 113.1,476.7 114.3,502.0 115.5,518.1 116.7,529.6 117.9,538.8 119.1,547.9 120.3,556.7 121.6,566.1 122.8,579.4 124.0,596.4 125.2,606.0 126.4,613.8 127.6,622.2 128.9,629.6 130.1,636.5 131.3,643.2 132.5,649.7 133.7,656.0 134.9,662.1 136.1,668.1 137.4,674.0 138.6,679.7 139.8,685.1 141.0,690.5 142.2,695.8 143.4,701.2 144.6,705.6 145.9,710.0 147.1,731.3 148.3,739.7 149.5,744.6 150.7,747.5 151.9,749.8 153.2,752.9 154.4,757.2 155.6,761.6 156.8,765.8 158.0,769.5 159.2,772.6 160.4,775.0 161.7,777.0 162.9,778.9 164.1,781.1 165.3,783.9 166.5,787.9 167.7,791.4 168.9,792.6 170.2,793.1 171.4,793.5 172.6,793.7 173.8,793.7 175.0,793.6 176.2,793.4 177.5,793.2 178.7,792.8 179.9,792.4 181.1,791.4 182.3,789.6 183.5,787.3 184.7,785.1 186.0,782.9 187.2,780.4 188.4,777.9 189.6,775.4 190.8,773.0 192.0,770.8 193.2,768.8 194.5,766.9 195.7,765.0 196.9,763.1 198.1,761.3 199.3,759.5 200.5,757.7 201.8,756.0 203.0,754.3 204.2,752.7 205.4,751.1 206.6,749.3 207.8,747.5 209.0,745.4 210.3,743.9 211.5,741.9 212.7,736.5 213.9,723.3 215.1,719.7 216.3,717.7 217.5,715.8 218.8,713.3 220.0,710.8 221.2,708.5 222.4,706.3 223.6,704.1 224.8,702.0 226.1,699.9 227.3,697.8 228.5,695.8 229.7,694.0 230.9,692.1 232.1,690.1 233.3,688.0 234.6,685.6 235.8,682.7 237.0,679.4 238.2,675.8 240.0,672.8 242.2,667.7 244.3,664.1 247.2,661.5 250.1,656.9 253.7,646.8 256.1,643.9 258.5,642.5 258.9,632.4 261.0,631.7 263.1,628.8 265.5,627.6 267.9,626.7 270.3,625.2 272.5,620.8 274.6,615.1 277.0,614.2 279.4,612.6 281.8,612.2 284.7,607.1 287.6,603.6 289.8,596.8 291.9,592.1 294.8,589.1 297.6,584.9 300.5,583.3 303.4,582.0 307.0,567.6 309.6,564.3 312.3,563.8 314.9,560.4 318.5,548.8 321.1,549.6 323.6,553.1 325.0,535.9 328.0,532.6 331.0,530.3 333.5,518.9 337.3,524.0 339.9,519.6 342.4,517.6 346.2,510.0 350.0,520.2 353.8,503.7 357.0,503.8 360.2,502.4 362.9,499.9 365.7,497.1 368.4,493.5 370.6,495.9 372.8,501.2 375.4,500.5 377.9,502.4 380.4,507.5 384.2,503.7 387.4,511.3 390.6,497.4 394.4,507.5 396.9,507.3 399.5,510.0 402.4,503.0 406.0,522.2 409.6,519.8 412.0,515.2 414.4,512.6 418.0,531.8 421.0,533.3 424.0,539.0 426.4,540.2 428.8,548.2 431.2,548.6 434.2,552.0 437.2,549.8 440.2,558.1 443.2,570.2 445.6,573.8 448.0,579.0 450.4,584.6 453.2,589.9 456.1,594.9 458.9,599.0 461.9,606.2 464.9,615.9 468.1,620.1 471.3,622.6 474.5,627.9 477.3,633.5 480.1,639.5 482.9,644.7 486.5,656.7 489.7,664.4 492.9,668.9 496.1,675.9 499.3,683.9 502.5,691.3 505.7,697.5 508.9,705.0 512.1,709.0 515.3,716.7 518.5,722.1 521.7,728.8 524.9,733.0 526.1,735.6 527.3,738.1 528.5,740.4 529.7,742.7 530.9,744.9 532.1,747.0 533.3,749.1 534.5,751.2 535.7,753.2 536.9,755.2 538.1,757.2 539.3,759.2 540.5,761.2 541.7,763.1 542.9,765.1 544.1,767.0 545.3,769.0 546.5,771.0 547.7,772.9 548.9,774.9 550.1,776.9 551.3,779.0 552.5,781.0 553.8,783.1 555.0,785.1 556.2,787.2 557.4,789.2 558.6,791.3 559.8,793.3 561.0,795.4 562.2,797.4 563.4,799.4 564.6,801.3 565.8,803.3 567.0,805.2 568.2,807.1 569.4,809.0 570.6,810.8 571.8,812.6 573.0,814.4 574.2,816.1 575.4,817.9 576.6,819.5 577.8,821.2 579.0,822.9 580.2,824.5 581.4,826.1 582.6,827.7 583.8,829.3 585.0,830.9 586.2,832.5 587.4,834.0 588.6,835.6 589.8,837.1 591.0,838.6 592.2,840.1 593.4,841.6 594.6,843.1 595.8,844.6 597.0,846.1 598.2,847.6 599.4,849.1 600.6,850.5 601.8,852.0 603.0,853.4 604.2,854.8 605.4,856.3 606.6,857.7 607.8,859.1 609.0,860.5 610.3,861.9 611.5,863.3 612.7,864.7 613.9,866.1 615.1,867.5 616.3,868.9 617.5,870.2 618.7,871.6 619.9,873.0 621.1,874.3 622.3,875.7 623.5,877.1 624.7,878.4 625.9,879.8 627.1,881.1 628.3,882.5 629.5,883.8 630.7,885.1 631.9,886.5 633.1,887.8 634.3,889.1 635.5,890.4 636.7,891.7 637.9,893.0 639.1,894.3 640.3,895.6 641.5,896.9 642.7,898.2 643.9,899.5 645.1,900.7 646.3,902.0 647.5,903.3 648.7,904.5 649.9,905.8 651.1,907.0 652.3,908.3 653.5,909.5 654.7,910.7 655.9,912.0 657.1,913.2 658.3,914.4 659.5,915.6 660.7,916.8 661.9,918.0 663.1,919.2 664.3,920.4 665.5,921.6 666.8,922.8 668.0,924.0 669.2,925.2 670.4,926.3 671.6,927.5 672.8,928.6 674.0,929.8 675.2,930.9 676.4,932.1 677.6,933.2 678.8,934.3 680.0,935.5 681.2,936.6 682.4,937.7 683.6,938.8 684.8,939.9 686.0,941.0 687.2,942.1 688.4,943.2 689.6,944.3 690.8,945.3 692.0,946.4 693.2,947.5 694.4,948.5 695.6,949.6 696.8,950.6 698.0,951.7 699.2,952.7 700.4,953.8 701.6,954.8 702.8,955.8 704.0,956.8 705.2,957.9 706.4,958.9 707.6,959.9 708.8,960.9 710.0,961.9 711.2,962.9 712.4,963.9 713.6,964.8 714.8,965.8 716.0,966.8 717.2,967.8 718.4,968.7 719.6,969.7 720.8,970.7 722.0,971.6 723.2,972.6 724.5,973.5 725.7,974.5 726.9,975.4 728.1,976.4 729.3,977.3 730.5,978.2 731.7,979.2 732.9,980.1 734.1,981.0 735.3,981.9 736.5,982.9 737.7,983.8 738.9,984.7 740.1,985.6 741.3,986.5 742.5,987.5 743.7,988.4 744.9,989.3 746.1,990.2 747.3,991.1 748.5,992.0 749.7,992.9 750.9,993.8 752.1,994.7 753.3,995.6 754.5,996.5 755.7,997.4 756.9,998.3 758.1,999.2 759.3,1000.1 760.5,1001.0 761.7,1001.9 762.9,1002.8 764.1,1003.7 765.3,1004.6 766.5,1005.5 767.7,1006.4 768.9,1007.3 770.1,1008.2 771.3,1009.0 772.5,1009.9 773.7,1010.8 774.9,1011.7 776.1,1012.6 777.3,1013.5 778.5,1014.4 779.7,1015.3 781.0,1016.2 782.2,1017.1 783.4,1018.0 784.6,1018.9 785.8,1019.8 787.0,1020.7 788.2,1021.6 789.4,1022.5 790.6,1023.4 791.8,1024.3 793.0,1025.2 794.2,1026.1 795.4,1027.0 796.6,1027.9 797.8,1028.8 799.0,1029.7 800.2,1030.6 801.4,1031.5 802.6,1032.4 803.8,1033.3 805.0,1034.2 806.2,1035.1 807.4,1036.0 808.6,1036.9 809.8,1037.8 811.0,1038.7 812.2,1039.7 813.4,1040.6 814.6,1041.5 815.8,1042.4 817.0,1043.3 818.2,1044.2 819.4,1045.1 820.6,1046.0 821.8,1046.9 823.0,1047.8 824.2,1048.7 825.4,1049.5 826.6,1050.4 827.8,1051.3 829.0,1052.2 830.2,1053.1 831.4,1053.9 832.6,1054.8 833.8,1055.7 835.0,1056.5 836.2,1057.4 837.5,1058.3 838.7,1059.1 839.9,1060.0 841.1,1060.8 842.3,1061.6 843.5,1062.5 844.7,1063.3 845.9,1064.2 847.1,1065.0 848.3,1065.8 849.5,1066.6 850.7,1067.5 851.9,1068.3 853.1,1069.1 854.3,1069.9 855.5,1070.7 856.7,1071.5 857.9,1072.3 859.1,1073.2 860.3,1074.0 861.5,1074.8 862.7,1075.6 863.9,1076.4 865.1,1077.2 866.3,1078.0 867.5,1078.8 868.7,1079.6 869.9,1080.4 871.1,1081.2 872.3,1082.0 873.5,1082.8 874.7,1083.6 875.9,1084.4 877.1,1085.2 878.3,1086.0 879.5,1086.8 880.7,1087.6 881.9,1088.3 883.1,1089.1 884.3,1089.9 885.5,1090.7 886.7,1091.5 887.9,1092.3 889.1,1093.1 890.3,1093.9 891.5,1094.7 892.7,1095.5 894.0,1096.3 895.2,1097.1 896.4,1097.9 897.6,1098.6 898.8,1099.4 900.0,1100.2 901.2,1101.0 902.4,1101.8 903.6,1102.6 904.8,1103.3 906.0,1104.1 907.2,1104.9 908.4,1105.7 909.6,1106.4 910.8,1107.2 912.0,1108.0 913.2,1108.7 914.4,1109.5 915.6,1110.3 916.8,1111.0 918.0,1111.8 919.2,1112.5 920.4,1113.3 921.6,1114.0 922.8,1114.8 924.0,1115.5 925.2,1116.3 926.4,1117.0 927.6,1117.7 928.8,1118.5 930.0,1119.2 931.2,1119.9 932.4,1120.7 933.6,1121.4 934.8,1122.1 936.0,1122.8 937.2,1123.6 938.4,1124.3 939.6,1125.0 940.8,1125.7 942.0,1126.4 943.2,1127.1 944.4,1127.8 945.6,1128.5 946.8,1129.2 948.0,1129.9 949.2,1130.6 950.5,1131.3 951.7,1132.0 952.9,1132.7 954.1,1133.4 955.3,1134.1 956.5,1134.8 957.7,1135.4 958.9,1136.1 960.1,1136.8 961.3,1137.5 962.5,1138.2 963.7,1138.8 964.9,1139.5 966.1,1140.2 967.3,1140.9 968.5,1141.5 969.7,1142.2 970.9,1142.9 972.1,1143.5 973.3,1144.2 974.5,1144.9 975.7,1145.5 976.9,1146.2 978.1,1146.8 979.3,1147.5 980.5,1148.2 981.7,1148.8 982.9,1149.5 984.1,1150.1 985.3,1150.8 986.5,1151.5 987.7,1152.1 988.9,1152.8 990.1,1153.4 991.3,1154.1 992.5,1154.7 993.7,1155.4 994.9,1156.0 996.1,1156.7 997.3,1157.3 998.5,1158.0 999.7,1158.6 1000.9,1159.3 1002.1,1159.9 1003.3,1160.6 1004.5,1161.2 1005.7,1161.8 1007.0,1162.5 1008.2,1163.1 1009.4,1163.8 1010.6,1164.4 1011.8,1165.0 1013.0,1165.7 1014.2,1166.3 1015.4,1166.9 1016.6,1167.6 1017.8,1168.2 1019.0,1168.8 1020.2,1169.5 1021.4,1170.1 1022.6,1170.7 1023.8,1171.4 1025.0,1172.0 1026.2,1172.6 1027.4,1173.2 1028.6,1173.8 1029.8,1174.5 1031.0,1175.1 1032.2,1175.7 1033.4,1176.3 1034.6,1176.9 1035.8,1177.5 1037.0,1178.2 1038.2,1178.8 1039.4,1179.4 1040.6,1180.0 1041.8,1180.6 1043.0,1181.2 1044.2,1181.8 1045.4,1182.4 1046.6,1183.0 1047.8,1183.6 1049.0,1184.2 1050.2,1184.8 1051.4,1185.4 1052.6,1185.9 1053.8,1186.5 1055.0,1187.1 1056.2,1187.7 1057.4,1188.3 1058.6,1188.9 1059.8,1189.4 1061.0,1190.0 1062.2,1190.6 1063.4,1191.2 1064.7,1191.7 1065.9,1192.3 1067.1,1192.9 1068.3,1193.4 1069.5,1194.0 1070.7,1194.6 1071.9,1195.1 1073.1,1195.7 1074.3,1196.2 1075.5,1196.8 1076.7,1197.3 1077.9,1197.9 1079.1,1198.4 1080.3,1199.0 1081.5,1199.5 1082.7,1200.1 1083.9,1200.6 1085.1,1201.1 1086.3,1201.7 1087.5,1202.2 1088.7,1202.7 1089.9,1203.3 1091.1,1203.8 1092.3,1204.3 1093.5,1204.8 1094.7,1205.4 1095.9,1205.9 1097.1,1206.4 1098.3,1206.9 1099.5,1207.4 1100.7,1208.0 1101.9,1208.5 1103.1,1209.0 1104.3,1209.5 1105.5,1210.0 1106.7,1210.5 1107.9,1211.0 1109.1,1211.5 1110.3,1212.0 1111.5,1212.5 1112.7,1213.0 1113.9,1213.5 1115.1,1214.1 1116.3,1214.6 1117.5,1215.1 1118.7,1215.6 1119.9,1216.1 1121.2,1216.6 1122.4,1217.1 1123.6,1217.6 1124.8,1218.1 1126.0,1218.6 1127.2,1219.1 1128.4,1219.6 1129.6,1220.1 1130.8,1220.6 1132.0,1221.1 1133.2,1221.7 1134.4,1222.2 1135.6,1222.7 1136.8,1223.2 1138.0,1223.7 1139.2,1224.2 1140.4,1224.7 1141.6,1225.2 1142.8,1225.7 1144.0,1226.2 1145.2,1226.8 1146.4,1227.3 1147.6,1227.8 1148.8,1228.3 1150.0,1228.8 1151.2,1229.3 1152.4,1229.8 1153.6,1230.3 1154.8,1230.8 1156.0,1231.3 1157.2,1231.8 1158.4,1232.3 1159.6,1232.8 1160.8,1233.3 1162.0,1233.7 1163.2,1234.2 1164.4,1234.7 1165.6,1235.2 1166.8,1235.7 1168.0,1236.1 1169.2,1236.6 1170.4,1237.1 1171.6,1237.5 1172.8,1238.0 1174.0,1238.5 1175.2,1238.9 1176.4,1239.4 1177.7,1239.8 1178.9,1240.3 1180.1,1240.7 1181.3,1241.2 1182.5,1241.6 1183.7,1242.1 1184.9,1242.5 1186.1,1242.9 1187.3,1243.4 1188.5,1243.8 1189.7,1244.2 1190.9,1244.6 1192.1,1245.1 1193.3,1245.5 1194.5,1245.9 1195.7,1246.3 1196.9,1246.7 1198.1,1247.2 1199.3,1247.6 1200.5,1248.0 1201.7,1248.4 1202.9,1248.8 1204.1,1249.2 1205.3,1249.7"/>
<polyline fill="none" stroke="#B5CC93" stroke-width="5.8" stroke-linejoin="round" stroke-linecap="butt" points="108.2,498.6 109.4,499.0 110.6,499.9 111.8,501.3 113.0,502.8 114.2,505.4 115.4,509.1 116.6,513.2 117.8,517.5 119.0,521.4 120.2,525.1 121.4,528.7 122.6,532.4 123.8,535.9 125.0,539.3 126.2,542.6 127.4,545.5 128.6,548.3 129.8,551.1 131.0,554.0 132.2,557.2 133.4,560.9 134.6,565.2 135.8,569.9 137.0,574.7 138.2,579.4 139.4,583.7 140.6,587.9 141.8,592.3 143.0,597.2 144.2,603.2 145.4,610.1 146.6,616.7 147.8,622.6 149.0,628.3 150.2,633.7 151.4,639.0 152.6,644.2 153.8,649.1 155.1,653.8 156.3,658.3 157.5,662.6 158.7,666.7 159.9,670.7 161.1,674.9 162.3,679.1 163.5,683.6 164.7,688.5 165.9,693.6 167.1,698.9 168.3,704.1 169.5,709.2 170.7,713.9 171.9,718.2 173.1,722.1 174.3,725.9 175.5,729.6 176.7,733.1 177.9,736.7 179.1,740.3 180.3,744.1 181.5,748.1 182.7,752.2 183.9,756.5 185.1,760.8 186.3,765.2 187.5,769.6 188.7,773.9 189.9,778.1 191.1,782.2 192.3,786.3 193.5,790.3 194.7,794.3 195.9,798.2 197.1,802.2 198.3,806.0 199.5,809.9 200.7,813.6 201.9,817.4 203.1,821.3 204.3,825.1 205.5,828.8 206.7,832.6 207.9,836.6 209.1,840.8 210.3,845.4 211.5,850.8 212.7,856.7 213.9,863.0 215.1,869.3 216.3,875.3 217.5,881.5 218.7,887.7 219.9,893.8 221.1,899.7 222.3,905.2 223.5,910.4 224.7,915.3 225.9,920.2 227.1,925.2 228.3,930.5 229.5,935.9 230.7,941.4 231.9,947.0 233.1,952.9 234.3,959.2 235.5,966.0 236.7,973.5 237.9,981.3 239.1,988.9 240.3,996.0 241.5,1002.7 242.7,1009.3 243.9,1015.7 245.1,1022.0 246.4,1028.4 247.6,1034.9 248.8,1041.5 250.0,1048.2 251.2,1054.9 252.4,1061.4 253.6,1067.8 254.8,1073.8 256.0,1079.6 257.2,1085.2 258.4,1090.3 259.6,1094.8 260.8,1098.9 262.0,1102.8 263.2,1106.7 264.4,1110.8 265.6,1115.1 266.8,1119.5 268.0,1124.0 269.2,1128.5 270.4,1133.2 271.6,1137.8 272.8,1142.6 274.0,1147.3 275.2,1152.1 276.4,1157.0 277.6,1161.9 278.8,1166.9 280.0,1171.9 281.2,1177.0 282.4,1182.1 283.6,1187.3 284.8,1192.5 286.0,1198.0 287.2,1203.6 288.4,1209.3 289.6,1214.8 290.8,1220.0 292.0,1224.9 293.2,1229.3 294.4,1233.5 295.6,1237.4 296.8,1241.3 298.0,1245.1 299.2,1249.0 300.4,1253.2 301.6,1257.6 302.8,1262.8 304.0,1268.6 305.2,1274.3 306.4,1279.3 307.6,1283.1 308.8,1286.2 310.0,1288.9 311.2,1291.4 312.4,1293.6 313.6,1295.8 314.8,1297.8 316.0,1299.9 317.2,1302.0 318.4,1304.1 319.6,1306.1 320.8,1308.1 322.0,1310.1 323.2,1312.0 324.4,1313.8 325.6,1315.6 326.8,1317.3 328.0,1318.9 329.2,1320.5 330.4,1322.0 331.6,1323.5 332.8,1325.0 334.0,1326.4 335.2,1327.8 336.4,1329.2 337.7,1330.5 338.9,1331.9 340.1,1333.3 341.3,1334.6 342.5,1336.0 343.7,1337.4 344.9,1338.8 346.1,1340.2 347.3,1341.7 348.5,1343.2 349.7,1344.7 350.9,1346.2 352.1,1347.7 353.3,1349.1 354.5,1350.4 355.7,1351.7 356.9,1352.9 358.1,1354.0 359.3,1355.1 360.5,1356.2 361.7,1357.2 362.9,1358.2 364.1,1359.2 365.3,1360.2 366.5,1361.2 367.7,1362.2 368.9,1363.2 370.1,1364.3 371.3,1365.3 372.5,1366.4 373.7,1367.5 374.9,1368.5 376.1,1369.6 377.3,1370.7 378.5,1371.8 379.7,1372.8 380.9,1373.9 382.1,1374.9 383.3,1376.0 384.5,1377.0 385.7,1378.0 386.9,1378.9 388.1,1379.9 389.3,1380.8 390.5,1381.7 391.7,1382.7 392.9,1383.6 394.1,1384.5 395.3,1385.3 396.5,1386.2 397.7,1387.1 398.9,1388.0 400.1,1388.9 401.3,1389.8 402.5,1390.6 403.7,1391.5 404.9,1392.4 406.1,1393.3 407.3,1394.2 408.5,1395.1 409.7,1396.0 410.9,1396.9 412.1,1397.8 413.3,1398.7 414.5,1399.6 415.7,1400.5 416.9,1401.4 418.1,1402.3 419.3,1403.2 420.5,1404.1 421.7,1405.0 422.9,1405.9 424.1,1406.8 425.3,1407.8 426.5,1408.7 427.7,1409.7 429.0,1410.7 430.2,1411.7 431.4,1412.7 432.6,1413.7 433.8,1414.7 435.0,1415.8 436.2,1416.8 437.4,1417.8 438.6,1418.8 439.8,1419.7 441.0,1420.7 442.2,1421.6 443.4,1422.5 444.6,1423.4 445.8,1424.2 447.0,1425.0 448.2,1425.8 449.4,1426.6 450.6,1427.4 451.8,1428.1 453.0,1428.8 454.2,1429.5 455.4,1430.3 456.6,1431.0 457.8,1431.6 459.0,1432.3 460.2,1433.0 461.4,1433.7 462.6,1434.3 463.8,1435.0 465.0,1435.6 466.2,1436.2 467.4,1436.9 468.6,1437.5 469.8,1438.1 471.0,1438.7 472.2,1439.3 473.4,1439.9 474.6,1440.5 475.8,1441.1 477.0,1441.7 478.2,1442.3 479.4,1442.9 480.6,1443.5 481.8,1444.0 483.0,1444.6 484.2,1445.2 485.4,1445.8 486.6,1446.4 487.8,1447.0 489.0,1447.6 490.2,1448.1 491.4,1448.7 492.6,1449.3 493.8,1449.8 495.0,1450.4 496.2,1450.9 497.4,1451.5 498.6,1452.0 499.8,1452.5 501.0,1453.1 502.2,1453.6 503.4,1454.1 504.6,1454.6 505.8,1455.1 507.0,1455.6 508.2,1456.0 509.4,1456.5 510.6,1456.9 511.8,1457.4 513.0,1457.8 514.2,1458.2 515.4,1458.7 516.6,1459.1 517.8,1459.5 519.0,1459.9 520.3,1460.3 521.5,1460.7 522.7,1461.1 523.9,1461.4 525.1,1461.8 526.3,1462.2 527.5,1462.6 528.7,1462.9 529.9,1463.3 531.1,1463.6 532.3,1464.0 533.5,1464.3 534.7,1464.7 535.9,1465.0 537.1,1465.3 538.3,1465.6 539.5,1466.0 540.7,1466.3 541.9,1466.6 543.1,1466.9 544.3,1467.2 545.5,1467.5 546.7,1467.8 547.9,1468.1 549.1,1468.3 550.3,1468.6 551.5,1468.9 552.7,1469.2 553.9,1469.4 555.1,1469.7 556.3,1470.0 557.5,1470.2 558.7,1470.5 559.9,1470.7 561.1,1471.0 562.3,1471.2 563.5,1471.5 564.7,1471.7 565.9,1472.0 567.1,1472.2 568.3,1472.4 569.5,1472.6 570.7,1472.8 571.9,1473.1 573.1,1473.3 574.3,1473.5 575.5,1473.7 576.7,1473.9 577.9,1474.1 579.1,1474.2 580.3,1474.4 581.5,1474.6 582.7,1474.8 583.9,1475.0 585.1,1475.1 586.3,1475.3 587.5,1475.5 588.7,1475.6 589.9,1475.8 591.1,1476.0 592.3,1476.1 593.5,1476.3 594.7,1476.4 595.9,1476.6 597.1,1476.7 598.3,1476.9 599.5,1477.0 600.7,1477.2 601.9,1477.3 603.1,1477.5 604.3,1477.6 605.5,1477.7 606.7,1477.9 607.9,1478.0 609.1,1478.2 610.3,1478.3 611.6,1478.4 612.8,1478.6 614.0,1478.7 615.2,1478.8 616.4,1479.0 617.6,1479.1 618.8,1479.2 620.0,1479.4 621.2,1479.5 622.4,1479.6 623.6,1479.7 624.8,1479.9 626.0,1480.0 627.2,1480.1 628.4,1480.2 629.6,1480.4 630.8,1480.5 632.0,1480.6 633.2,1480.8 634.4,1480.9 635.6,1481.0 636.8,1481.1 638.0,1481.2 639.2,1481.4 640.4,1481.5 641.6,1481.6 642.8,1481.7 644.0,1481.9 645.2,1482.0 646.4,1482.1 647.6,1482.2 648.8,1482.3 650.0,1482.5 651.2,1482.6 652.4,1482.7 653.6,1482.8 654.8,1482.9 656.0,1483.0 657.2,1483.1 658.4,1483.3 659.6,1483.4 660.8,1483.5 662.0,1483.6 663.2,1483.7 664.4,1483.8 665.6,1483.9 666.8,1484.0 668.0,1484.1 669.2,1484.3 670.4,1484.4 671.6,1484.5 672.8,1484.6 674.0,1484.7 675.2,1484.8 676.4,1484.9 677.6,1485.0 678.8,1485.1 680.0,1485.2 681.2,1485.3 682.4,1485.4 683.6,1485.5 684.8,1485.6 686.0,1485.7 687.2,1485.8 688.4,1485.9 689.6,1485.9 690.8,1486.0 692.0,1486.1 693.2,1486.2 694.4,1486.3 695.6,1486.4 696.8,1486.5 698.0,1486.6 699.2,1486.7 700.4,1486.7 701.6,1486.8 702.9,1486.9 704.1,1487.0 705.3,1487.1 706.5,1487.2 707.7,1487.2 708.9,1487.3 710.1,1487.4 711.3,1487.5 712.5,1487.6 713.7,1487.6 714.9,1487.7 716.1,1487.8 717.3,1487.9 718.5,1487.9 719.7,1488.0 720.9,1488.1 722.1,1488.1 723.3,1488.2 724.5,1488.3 725.7,1488.4 726.9,1488.4 728.1,1488.5 729.3,1488.6 730.5,1488.6 731.7,1488.7 732.9,1488.7 734.1,1488.8 735.3,1488.9 736.5,1488.9 737.7,1489.0 738.9,1489.1 740.1,1489.1 741.3,1489.2 742.5,1489.2 743.7,1489.3 744.9,1489.4 746.1,1489.4 747.3,1489.5 748.5,1489.5 749.7,1489.6 750.9,1489.6 752.1,1489.7 753.3,1489.8 754.5,1489.8 755.7,1489.9 756.9,1489.9 758.1,1490.0 759.3,1490.0 760.5,1490.1 761.7,1490.2 762.9,1490.2 764.1,1490.3 765.3,1490.3 766.5,1490.4 767.7,1490.5 768.9,1490.5 770.1,1490.6 771.3,1490.6 772.5,1490.7 773.7,1490.8 774.9,1490.8 776.1,1490.9 777.3,1490.9 778.5,1491.0 779.7,1491.1 780.9,1491.1 782.1,1491.2 783.3,1491.3 784.5,1491.4 785.7,1491.4 786.9,1491.5 788.1,1491.6 789.3,1491.6 790.5,1491.7 791.7,1491.8 792.9,1491.9 794.2,1492.0 795.4,1492.0 796.6,1492.1 797.8,1492.2 799.0,1492.3 800.2,1492.4 801.4,1492.5 802.6,1492.6 803.8,1492.7 805.0,1492.8 806.2,1492.8 807.4,1492.9 808.6,1493.0 809.8,1493.1 811.0,1493.2 812.2,1493.3 813.4,1493.4 814.6,1493.5 815.8,1493.6 817.0,1493.7 818.2,1493.8 819.4,1493.9 820.6,1494.0 821.8,1494.1 823.0,1494.2 824.2,1494.3 825.4,1494.4 826.6,1494.5 827.8,1494.6 829.0,1494.7 830.2,1494.8 831.4,1494.8 832.6,1494.9 833.8,1495.0 835.0,1495.1 836.2,1495.2 837.4,1495.3 838.6,1495.4 839.8,1495.5 841.0,1495.5 842.2,1495.6 843.4,1495.7 844.6,1495.8 845.8,1495.9 847.0,1495.9 848.2,1496.0 849.4,1496.1 850.6,1496.2 851.8,1496.2 853.0,1496.3 854.2,1496.4 855.4,1496.4 856.6,1496.5 857.8,1496.6 859.0,1496.6 860.2,1496.7 861.4,1496.8 862.6,1496.8 863.8,1496.9 865.0,1497.0 866.2,1497.0 867.4,1497.1 868.6,1497.1 869.8,1497.2 871.0,1497.2 872.2,1497.3 873.4,1497.3 874.6,1497.4 875.8,1497.4 877.0,1497.5 878.2,1497.5 879.4,1497.6 880.6,1497.6 881.8,1497.7 883.0,1497.7 884.2,1497.8 885.5,1497.8 886.7,1497.9 887.9,1497.9 889.1,1498.0 890.3,1498.0 891.5,1498.0 892.7,1498.1 893.9,1498.1 895.1,1498.2 896.3,1498.2 897.5,1498.2 898.7,1498.3 899.9,1498.3 901.1,1498.4 902.3,1498.4 903.5,1498.4 904.7,1498.5 905.9,1498.5 907.1,1498.5 908.3,1498.6 909.5,1498.6 910.7,1498.6 911.9,1498.7 913.1,1498.7 914.3,1498.7 915.5,1498.8 916.7,1498.8 917.9,1498.8 919.1,1498.8 920.3,1498.9 921.5,1498.9 922.7,1498.9 923.9,1499.0 925.1,1499.0 926.3,1499.0 927.5,1499.0 928.7,1499.1 929.9,1499.1 931.1,1499.1 932.3,1499.2 933.5,1499.2 934.7,1499.2 935.9,1499.2 937.1,1499.3 938.3,1499.3 939.5,1499.3 940.7,1499.3 941.9,1499.4 943.1,1499.4 944.3,1499.4 945.5,1499.4 946.7,1499.4 947.9,1499.5 949.1,1499.5 950.3,1499.5 951.5,1499.5 952.7,1499.6 953.9,1499.6 955.1,1499.6 956.3,1499.6 957.5,1499.7 958.7,1499.7 959.9,1499.7 961.1,1499.7 962.3,1499.7 963.5,1499.8 964.7,1499.8 965.9,1499.8 967.1,1499.8 968.3,1499.8 969.5,1499.9 970.7,1499.9 971.9,1499.9 973.1,1499.9 974.3,1499.9 975.5,1500.0 976.8,1500.0 978.0,1500.0 979.2,1500.0 980.4,1500.0 981.6,1500.1 982.8,1500.1 984.0,1500.1 985.2,1500.1 986.4,1500.1 987.6,1500.1 988.8,1500.2 990.0,1500.2 991.2,1500.2 992.4,1500.2 993.6,1500.2 994.8,1500.2 996.0,1500.3 997.2,1500.3 998.4,1500.3 999.6,1500.3 1000.8,1500.3 1002.0,1500.4 1003.2,1500.4 1004.4,1500.4 1005.6,1500.4 1006.8,1500.4 1008.0,1500.4 1009.2,1500.4 1010.4,1500.5 1011.6,1500.5 1012.8,1500.5 1014.0,1500.5 1015.2,1500.5 1016.4,1500.5 1017.6,1500.6 1018.8,1500.6 1020.0,1500.6 1021.2,1500.6 1022.4,1500.6 1023.6,1500.6 1024.8,1500.6 1026.0,1500.7 1027.2,1500.7 1028.4,1500.7 1029.6,1500.7 1030.8,1500.7 1032.0,1500.7 1033.2,1500.7 1034.4,1500.8 1035.6,1500.8 1036.8,1500.8 1038.0,1500.8 1039.2,1500.8 1040.4,1500.8 1041.6,1500.8 1042.8,1500.9 1044.0,1500.9 1045.2,1500.9 1046.4,1500.9 1047.6,1500.9 1048.8,1500.9 1050.0,1500.9 1051.2,1500.9 1052.4,1501.0 1053.6,1501.0 1054.8,1501.0 1056.0,1501.0 1057.2,1501.0 1058.4,1501.0 1059.6,1501.0 1060.8,1501.0 1062.0,1501.1 1063.2,1501.1 1064.4,1501.1 1065.6,1501.1 1066.8,1501.1 1068.1,1501.1 1069.3,1501.1 1070.5,1501.1 1071.7,1501.1 1072.9,1501.2 1074.1,1501.2 1075.3,1501.2 1076.5,1501.2 1077.7,1501.2 1078.9,1501.2 1080.1,1501.2 1081.3,1501.2 1082.5,1501.3 1083.7,1501.3 1084.9,1501.3 1086.1,1501.3 1087.3,1501.3 1088.5,1501.3 1089.7,1501.3 1090.9,1501.3 1092.1,1501.3 1093.3,1501.4 1094.5,1501.4 1095.7,1501.4 1096.9,1501.4 1098.1,1501.4 1099.3,1501.4 1100.5,1501.4 1101.7,1501.4 1102.9,1501.4 1104.1,1501.4 1105.3,1501.5 1106.5,1501.5 1107.7,1501.5 1108.9,1501.5 1110.1,1501.5 1111.3,1501.5 1112.5,1501.5 1113.7,1501.5 1114.9,1501.5 1116.1,1501.5 1117.3,1501.6 1118.5,1501.6 1119.7,1501.6 1120.9,1501.6 1122.1,1501.6 1123.3,1501.6 1124.5,1501.6 1125.7,1501.6 1126.9,1501.6 1128.1,1501.6 1129.3,1501.7 1130.5,1501.7 1131.7,1501.7 1132.9,1501.7 1134.1,1501.7 1135.3,1501.7 1136.5,1501.7 1137.7,1501.7 1138.9,1501.7 1140.1,1501.7 1141.3,1501.7 1142.5,1501.8 1143.7,1501.8 1144.9,1501.8 1146.1,1501.8 1147.3,1501.8 1148.5,1501.8 1149.7,1501.8 1150.9,1501.8 1152.1,1501.8 1153.3,1501.8 1154.5,1501.8 1155.7,1501.8 1156.9,1501.9 1158.1,1501.9 1159.4,1501.9 1160.6,1501.9 1161.8,1501.9 1163.0,1501.9 1164.2,1501.9 1165.4,1501.9 1166.6,1501.9 1167.8,1501.9 1169.0,1501.9 1170.2,1501.9 1171.4,1501.9 1172.6,1501.9 1173.8,1502.0 1175.0,1502.0 1176.2,1502.0 1177.4,1502.0 1178.6,1502.0 1179.8,1502.0 1181.0,1502.0 1182.2,1502.0 1183.4,1502.0 1184.6,1502.0 1185.8,1502.0 1187.0,1502.0 1188.2,1502.0 1189.4,1502.0 1190.6,1502.0 1191.8,1502.0 1193.0,1502.0 1194.2,1502.1 1195.4,1502.1 1196.6,1502.1 1197.8,1502.1 1199.0,1502.1 1200.2,1502.1 1201.4,1502.1 1202.6,1502.1 1203.8,1502.1 1205.0,1502.1"/>
<polyline fill="none" stroke="#A893C1" stroke-width="5.8" stroke-linejoin="round" stroke-linecap="butt" points="109.0,1032.5 110.2,1037.2 111.4,1041.9 112.6,1046.6 113.8,1051.3 115.0,1056.1 116.2,1060.9 117.4,1065.7 118.6,1070.5 119.8,1075.1 121.0,1079.8 122.2,1084.3 123.4,1088.8 124.6,1093.2 125.8,1097.5 127.0,1101.8 128.2,1106.2 129.4,1110.4 130.6,1114.4 131.8,1118.1 133.0,1121.5 134.2,1124.5 135.4,1127.3 136.6,1129.9 137.8,1132.3 139.1,1134.7 140.3,1137.2 141.5,1139.7 142.7,1142.3 143.9,1145.0 145.1,1147.7 146.3,1150.3 147.5,1152.9 148.7,1155.3 149.9,1157.9 151.1,1160.4 152.3,1162.9 153.5,1165.1 154.7,1167.0 155.9,1168.4 157.1,1169.4 158.3,1170.3 159.5,1171.0 160.7,1171.7 161.9,1172.4 163.1,1173.2 164.3,1174.1 165.5,1175.3 166.7,1176.4 167.9,1177.1 169.1,1177.2 170.3,1177.2 171.5,1177.2 172.7,1177.2 173.9,1177.2 175.1,1177.2 176.3,1177.2 177.5,1177.2 178.7,1177.2 179.9,1177.2 181.1,1177.2 182.3,1177.0 183.5,1176.5 184.7,1175.7 185.9,1174.7 187.1,1173.5 188.3,1172.4 189.5,1171.2 190.7,1170.1 191.9,1169.1 193.1,1168.0 194.3,1166.9 195.6,1165.8 196.8,1164.7 198.0,1163.6 199.2,1162.5 200.4,1161.5 201.6,1160.6 202.8,1159.8 204.0,1159.1 205.2,1158.4 206.4,1157.8 207.6,1157.1 208.8,1156.4 210.0,1155.6 211.2,1154.7 212.4,1153.7 213.6,1152.4 214.8,1150.9 216.0,1149.3 217.2,1147.6 218.4,1145.8 219.6,1144.1 220.8,1142.5 222.0,1140.8 223.2,1139.0 224.4,1137.3 225.6,1135.5 226.8,1133.8 228.0,1132.1 229.2,1130.4 230.4,1128.8 231.6,1127.3 232.8,1125.8 234.0,1124.3 235.2,1122.8 236.4,1121.4 237.6,1119.9 238.8,1118.4 240.0,1116.9 241.2,1115.4 242.4,1113.8 243.6,1112.2 244.8,1110.6 246.0,1109.1 247.2,1107.6 248.4,1106.2 249.6,1105.0 250.8,1103.8 252.0,1102.9 253.2,1102.0 254.5,1101.2 255.7,1100.3 256.9,1099.4 258.1,1098.3 259.3,1096.9 260.5,1095.2 261.7,1092.0 262.9,1089.3 264.1,1088.2 265.3,1087.4 266.5,1086.8 267.7,1086.3 268.9,1085.8 270.1,1085.4 271.3,1085.1 272.5,1084.7 273.7,1084.3 274.9,1083.8 276.1,1083.3 277.3,1082.6 278.5,1081.8 279.7,1081.0 280.9,1080.1 282.1,1079.2 283.3,1078.3 284.5,1077.5 285.7,1076.7 286.9,1076.0 288.1,1075.4 289.3,1074.9 290.5,1074.6 291.7,1074.4 292.9,1074.2 294.1,1074.1 295.3,1073.9 296.5,1073.8 297.7,1073.7 298.9,1073.6 300.1,1073.5 301.3,1073.3 302.5,1073.1 303.7,1072.9 304.9,1072.6 306.1,1072.3 307.3,1071.9 308.5,1071.5 309.7,1071.1 311.0,1070.7 312.2,1070.3 313.4,1069.8 314.6,1069.2 315.8,1068.6 317.0,1067.9 318.2,1067.2 319.4,1066.5 320.6,1065.7 321.8,1065.0 323.0,1064.3 324.2,1063.6 325.4,1062.9 326.6,1062.2 327.8,1061.6 329.0,1061.0 330.2,1060.3 331.4,1059.7 332.6,1059.1 333.8,1058.5 335.0,1057.8 336.2,1057.2 337.4,1056.5 338.6,1055.8 339.8,1055.2 341.0,1054.4 342.2,1053.7 343.4,1052.8 344.6,1051.9 345.8,1051.0 347.0,1050.1 348.2,1049.2 349.4,1048.3 350.6,1047.5 351.8,1046.8 353.0,1046.2 354.2,1045.7 355.4,1045.2 356.6,1044.9 357.8,1044.5 359.0,1044.2 360.2,1043.9 361.4,1043.6 362.6,1043.3 363.8,1043.0 365.0,1042.8 366.2,1042.5 367.4,1042.2 368.7,1041.8 369.9,1041.4 371.1,1041.0 372.3,1040.5 373.5,1039.9 374.7,1039.2 375.9,1038.6 377.1,1038.0 378.3,1037.5 379.5,1037.0 380.7,1036.6 381.9,1036.4 383.1,1036.4 384.3,1036.4 385.5,1036.4 386.7,1036.4 387.9,1036.4 389.1,1036.4 390.3,1036.4 391.5,1036.4 392.7,1036.4 393.9,1036.4 395.1,1036.4 396.3,1036.4 397.5,1036.4 398.7,1036.4 399.9,1036.4 401.1,1036.4 402.3,1036.4 403.5,1036.4 404.7,1036.4 405.9,1036.4 407.1,1036.9 408.3,1037.7 409.5,1038.8 410.7,1039.6 411.9,1040.1 413.1,1040.5 414.3,1040.7 415.5,1041.0 416.7,1041.2 417.9,1041.3 419.1,1041.5 420.3,1041.7 421.5,1041.8 422.7,1042.0 423.9,1042.2 425.1,1042.5 426.4,1042.7 427.6,1043.1 428.8,1043.5 430.0,1043.9 431.2,1044.5 432.4,1045.0 433.6,1045.6 434.8,1046.3 436.0,1047.0 437.2,1047.7 438.4,1048.4 439.6,1049.2 440.8,1049.9 442.0,1050.7 443.2,1051.5 444.4,1052.3 445.6,1053.1 446.8,1053.9 448.0,1054.6 449.2,1055.4 450.4,1056.1 451.6,1056.8 452.8,1057.5 454.0,1058.1 455.2,1058.7 456.4,1059.3 457.6,1059.9 458.8,1060.5 460.0,1061.1 461.2,1061.7 462.4,1062.2 463.6,1062.8 464.8,1063.4 466.0,1063.9 467.2,1064.5 468.4,1065.0 469.6,1065.6 470.8,1066.2 472.0,1066.7 473.2,1067.3 474.4,1067.9 475.6,1068.6 476.8,1069.2 478.0,1069.8 479.2,1070.5 480.4,1071.2 481.6,1071.9 482.8,1072.6 484.1,1073.4 485.3,1074.1 486.5,1075.0 487.7,1075.8 488.9,1076.7 490.1,1077.6 491.3,1078.5 492.5,1079.5 493.7,1080.4 494.9,1081.4 496.1,1082.4 497.3,1083.3 498.5,1084.3 499.7,1085.2 500.9,1086.1 502.1,1087.0 503.3,1087.9 504.5,1088.8 505.7,1089.7 506.9,1090.5 508.1,1091.3 509.3,1092.0 510.5,1092.7 511.7,1093.4 512.9,1094.1 514.1,1094.8 515.3,1095.4 516.5,1096.1 517.7,1096.7 518.9,1097.3 520.1,1097.9 521.3,1098.5 522.5,1099.1 523.7,1099.7 524.9,1100.3 526.1,1100.9 527.3,1101.5 528.5,1102.1 529.7,1102.7 530.9,1103.3 532.1,1103.9 533.3,1104.5 534.5,1105.1 535.7,1105.7 536.9,1106.3 538.1,1106.9 539.3,1107.6 540.5,1108.2 541.8,1108.9 543.0,1109.5 544.2,1110.2 545.4,1110.9 546.6,1111.5 547.8,1112.2 549.0,1112.9 550.2,1113.6 551.4,1114.3 552.6,1115.0 553.8,1115.7 555.0,1116.4 556.2,1117.2 557.4,1117.9 558.6,1118.6 559.8,1119.3 561.0,1120.0 562.2,1120.7 563.4,1121.4 564.6,1122.1 565.8,1122.8 567.0,1123.5 568.2,1124.1 569.4,1124.8 570.6,1125.5 571.8,1126.1 573.0,1126.8 574.2,1127.4 575.4,1128.1 576.6,1128.7 577.8,1129.3 579.0,1129.9 580.2,1130.5 581.4,1131.1 582.6,1131.6 583.8,1132.2 585.0,1132.8 586.2,1133.3 587.4,1133.9 588.6,1134.4 589.8,1135.0 591.0,1135.5 592.2,1136.1 593.4,1136.6 594.6,1137.1 595.8,1137.7 597.0,1138.2 598.2,1138.7 599.5,1139.2 600.7,1139.7 601.9,1140.2 603.1,1140.7 604.3,1141.2 605.5,1141.7 606.7,1142.2 607.9,1142.7 609.1,1143.2 610.3,1143.7 611.5,1144.2 612.7,1144.7 613.9,1145.2 615.1,1145.7 616.3,1146.2 617.5,1146.7 618.7,1147.2 619.9,1147.7 621.1,1148.2 622.3,1148.6 623.5,1149.1 624.7,1149.6 625.9,1150.1 627.1,1150.6 628.3,1151.1 629.5,1151.5 630.7,1152.0 631.9,1152.5 633.1,1153.0 634.3,1153.5 635.5,1153.9 636.7,1154.4 637.9,1154.9 639.1,1155.3 640.3,1155.8 641.5,1156.3 642.7,1156.7 643.9,1157.2 645.1,1157.7 646.3,1158.1 647.5,1158.6 648.7,1159.0 649.9,1159.5 651.1,1159.9 652.3,1160.4 653.5,1160.9 654.7,1161.3 655.9,1161.7 657.1,1162.2 658.4,1162.6 659.6,1163.1 660.8,1163.5 662.0,1164.0 663.2,1164.4 664.4,1164.8 665.6,1165.3 666.8,1165.7 668.0,1166.1 669.2,1166.5 670.4,1167.0 671.6,1167.4 672.8,1167.8 674.0,1168.2 675.2,1168.6 676.4,1169.1 677.6,1169.5 678.8,1169.9 680.0,1170.3 681.2,1170.7 682.4,1171.1 683.6,1171.5 684.8,1171.9 686.0,1172.3 687.2,1172.7 688.4,1173.1 689.6,1173.5 690.8,1173.9 692.0,1174.3 693.2,1174.6 694.4,1175.0 695.6,1175.4 696.8,1175.8 698.0,1176.2 699.2,1176.6 700.4,1176.9 701.6,1177.3 702.8,1177.7 704.0,1178.1 705.2,1178.4 706.4,1178.8 707.6,1179.2 708.8,1179.6 710.0,1179.9 711.2,1180.3 712.4,1180.7 713.6,1181.0 714.9,1181.4 716.1,1181.7 717.3,1182.1 718.5,1182.5 719.7,1182.8 720.9,1183.2 722.1,1183.5 723.3,1183.9 724.5,1184.2 725.7,1184.6 726.9,1184.9 728.1,1185.3 729.3,1185.6 730.5,1186.0 731.7,1186.3 732.9,1186.7 734.1,1187.0 735.3,1187.4 736.5,1187.7 737.7,1188.0 738.9,1188.4 740.1,1188.7 741.3,1189.0 742.5,1189.4 743.7,1189.7 744.9,1190.0 746.1,1190.3 747.3,1190.7 748.5,1191.0 749.7,1191.3 750.9,1191.6 752.1,1191.9 753.3,1192.2 754.5,1192.5 755.7,1192.9 756.9,1193.2 758.1,1193.5 759.3,1193.8 760.5,1194.1 761.7,1194.4 762.9,1194.7 764.1,1194.9 765.3,1195.2 766.5,1195.5 767.7,1195.8 768.9,1196.1 770.1,1196.4 771.3,1196.7 772.6,1197.0 773.8,1197.2 775.0,1197.5 776.2,1197.8 777.4,1198.1 778.6,1198.4 779.8,1198.7 781.0,1198.9 782.2,1199.2 783.4,1199.5 784.6,1199.8 785.8,1200.1 787.0,1200.4 788.2,1200.6 789.4,1200.9 790.6,1201.2 791.8,1201.5 793.0,1201.8 794.2,1202.1 795.4,1202.4 796.6,1202.7 797.8,1203.0 799.0,1203.3 800.2,1203.6 801.4,1203.9 802.6,1204.2 803.8,1204.5 805.0,1204.8 806.2,1205.2 807.4,1205.5 808.6,1205.8 809.8,1206.1 811.0,1206.4 812.2,1206.8 813.4,1207.1 814.6,1207.4 815.8,1207.8 817.0,1208.1 818.2,1208.4 819.4,1208.8 820.6,1209.1 821.8,1209.4 823.0,1209.8 824.2,1210.1 825.4,1210.4 826.6,1210.8 827.8,1211.1 829.0,1211.5 830.2,1211.8 831.5,1212.1 832.7,1212.5 833.9,1212.8 835.1,1213.1 836.3,1213.5 837.5,1213.8 838.7,1214.1 839.9,1214.4 841.1,1214.8 842.3,1215.1 843.5,1215.4 844.7,1215.7 845.9,1216.0 847.1,1216.3 848.3,1216.6 849.5,1216.9 850.7,1217.2 851.9,1217.5 853.1,1217.8 854.3,1218.1 855.5,1218.4 856.7,1218.7 857.9,1219.0 859.1,1219.3 860.3,1219.6 861.5,1219.8 862.7,1220.1 863.9,1220.4 865.1,1220.7 866.3,1221.0 867.5,1221.2 868.7,1221.5 869.9,1221.8 871.1,1222.0 872.3,1222.3 873.5,1222.6 874.7,1222.8 875.9,1223.1 877.1,1223.4 878.3,1223.6 879.5,1223.9 880.7,1224.2 881.9,1224.4 883.1,1224.7 884.3,1225.0 885.5,1225.2 886.7,1225.5 888.0,1225.7 889.2,1226.0 890.4,1226.3 891.6,1226.5 892.8,1226.8 894.0,1227.1 895.2,1227.3 896.4,1227.6 897.6,1227.9 898.8,1228.2 900.0,1228.4 901.2,1228.7 902.4,1229.0 903.6,1229.2 904.8,1229.5 906.0,1229.8 907.2,1230.1 908.4,1230.3 909.6,1230.6 910.8,1230.9 912.0,1231.2 913.2,1231.5 914.4,1231.7 915.6,1232.0 916.8,1232.3 918.0,1232.6 919.2,1232.9 920.4,1233.1 921.6,1233.4 922.8,1233.7 924.0,1234.0 925.2,1234.3 926.4,1234.5 927.6,1234.8 928.8,1235.1 930.0,1235.4 931.2,1235.7 932.4,1236.0 933.6,1236.2 934.8,1236.5 936.0,1236.8 937.2,1237.1 938.4,1237.4 939.6,1237.7 940.8,1237.9 942.0,1238.2 943.2,1238.5 944.4,1238.8 945.7,1239.1 946.9,1239.4 948.1,1239.6 949.3,1239.9 950.5,1240.2 951.7,1240.5 952.9,1240.8 954.1,1241.0 955.3,1241.3 956.5,1241.6 957.7,1241.9 958.9,1242.2 960.1,1242.4 961.3,1242.7 962.5,1243.0 963.7,1243.3 964.9,1243.5 966.1,1243.8 967.3,1244.1 968.5,1244.4 969.7,1244.6 970.9,1244.9 972.1,1245.2 973.3,1245.5 974.5,1245.7 975.7,1246.0 976.9,1246.3 978.1,1246.5 979.3,1246.8 980.5,1247.1 981.7,1247.3 982.9,1247.6 984.1,1247.8 985.3,1248.1 986.5,1248.4 987.7,1248.6 988.9,1248.9 990.1,1249.1 991.3,1249.4 992.5,1249.6 993.7,1249.9 994.9,1250.1 996.1,1250.4 997.3,1250.6 998.5,1250.9 999.7,1251.1 1000.9,1251.4 1002.1,1251.6 1003.4,1251.9 1004.6,1252.1 1005.8,1252.3 1007.0,1252.6 1008.2,1252.8 1009.4,1253.1 1010.6,1253.3 1011.8,1253.5 1013.0,1253.8 1014.2,1254.0 1015.4,1254.2 1016.6,1254.5 1017.8,1254.7 1019.0,1254.9 1020.2,1255.2 1021.4,1255.4 1022.6,1255.6 1023.8,1255.8 1025.0,1256.1 1026.2,1256.3 1027.4,1256.5 1028.6,1256.7 1029.8,1257.0 1031.0,1257.2 1032.2,1257.4 1033.4,1257.6 1034.6,1257.8 1035.8,1258.1 1037.0,1258.3 1038.2,1258.5 1039.4,1258.7 1040.6,1258.9 1041.8,1259.1 1043.0,1259.3 1044.2,1259.6 1045.4,1259.8 1046.6,1260.0 1047.8,1260.2 1049.0,1260.4 1050.2,1260.6 1051.4,1260.8 1052.6,1261.0 1053.8,1261.2 1055.0,1261.4 1056.2,1261.6 1057.4,1261.8 1058.6,1262.0 1059.8,1262.2 1061.1,1262.4 1062.3,1262.7 1063.5,1262.9 1064.7,1263.1 1065.9,1263.3 1067.1,1263.5 1068.3,1263.7 1069.5,1263.9 1070.7,1264.1 1071.9,1264.3 1073.1,1264.5 1074.3,1264.7 1075.5,1264.9 1076.7,1265.1 1077.9,1265.3 1079.1,1265.5 1080.3,1265.7 1081.5,1265.9 1082.7,1266.1 1083.9,1266.3 1085.1,1266.5 1086.3,1266.6 1087.5,1266.8 1088.7,1267.0 1089.9,1267.2 1091.1,1267.4 1092.3,1267.6 1093.5,1267.8 1094.7,1268.0 1095.9,1268.2 1097.1,1268.4 1098.3,1268.6 1099.5,1268.8 1100.7,1269.0 1101.9,1269.2 1103.1,1269.4 1104.3,1269.6 1105.5,1269.9 1106.7,1270.1 1107.9,1270.3 1109.1,1270.5 1110.3,1270.7 1111.5,1270.9 1112.7,1271.1 1113.9,1271.3 1115.1,1271.5 1116.3,1271.7 1117.5,1271.9 1118.8,1272.1 1120.0,1272.3 1121.2,1272.5 1122.4,1272.8 1123.6,1273.0 1124.8,1273.2 1126.0,1273.4 1127.2,1273.6 1128.4,1273.8 1129.6,1274.0 1130.8,1274.3 1132.0,1274.5 1133.2,1274.7 1134.4,1274.9 1135.6,1275.1 1136.8,1275.4 1138.0,1275.6 1139.2,1275.8 1140.4,1276.0 1141.6,1276.2 1142.8,1276.5 1144.0,1276.7 1145.2,1276.9 1146.4,1277.1 1147.6,1277.4 1148.8,1277.6 1150.0,1277.8 1151.2,1278.0 1152.4,1278.3 1153.6,1278.5 1154.8,1278.7 1156.0,1278.9 1157.2,1279.2 1158.4,1279.4 1159.6,1279.6 1160.8,1279.8 1162.0,1280.1 1163.2,1280.3 1164.4,1280.5 1165.6,1280.7 1166.8,1281.0 1168.0,1281.2 1169.2,1281.4 1170.4,1281.6 1171.6,1281.8 1172.8,1282.1 1174.0,1282.3 1175.2,1282.5 1176.5,1282.7 1177.7,1282.9 1178.9,1283.1 1180.1,1283.4 1181.3,1283.6 1182.5,1283.8 1183.7,1284.0 1184.9,1284.2 1186.1,1284.4 1187.3,1284.6 1188.5,1284.8 1189.7,1285.1 1190.9,1285.3 1192.1,1285.5 1193.3,1285.7 1194.5,1285.9 1195.7,1286.1 1196.9,1286.3 1198.1,1286.5 1199.3,1286.7 1200.5,1286.9 1201.7,1287.1 1202.9,1287.4 1204.1,1287.6 1205.3,1287.8"/>
<line x1="906" y1="178.1" x2="987.5" y2="178.1" stroke="#3969A4" stroke-width="5.6" stroke-linecap="round"/>
<line x1="906" y1="253.0" x2="987.5" y2="253.0" stroke="#AD3B37" stroke-width="5.6" stroke-linecap="round"/>
<line x1="906" y1="327.8" x2="987.5" y2="327.8" stroke="#85A445" stroke-width="5.6" stroke-linecap="round"/>
<line x1="906" y1="403.0" x2="987.5" y2="403.0" stroke="#6C5091" stroke-width="5.6" stroke-linecap="round"/>
<line x1="906" y1="474.9" x2="987.5" y2="474.9" stroke="#3594A9" stroke-width="5.6" stroke-linecap="round"/>
<line x1="906" y1="549.8" x2="987.5" y2="549.8" stroke="#3F79B9" stroke-width="5.6" stroke-linecap="round"/>
<line x1="906" y1="624.7" x2="987.5" y2="624.7" stroke="#8DA9D2" stroke-width="5.6" stroke-linecap="round"/>
<line x1="906" y1="696.3" x2="987.5" y2="696.3" stroke="#D88F8D" stroke-width="5.6" stroke-linecap="round"/>
<line x1="906" y1="771.6" x2="987.5" y2="771.6" stroke="#B5CC93" stroke-width="5.6" stroke-linecap="round"/>
<line x1="906" y1="846.2" x2="987.5" y2="846.2" stroke="#A893C1" stroke-width="5.6" stroke-linecap="round"/>
</g>
<g filter="url(#b)">
<text x="995" y="191.3" font-size="41.5" letter-spacing="0.5" xml:space="preserve">RS I</text>
<text x="995" y="266.2" font-size="41.5" letter-spacing="0.5" xml:space="preserve">RS I NPs</text>
<text x="995" y="341.0" font-size="41.5" letter-spacing="0.5" xml:space="preserve">RS II</text>
<text x="995" y="416.2" font-size="41.5" letter-spacing="0.5" xml:space="preserve">RS II NPs</text>
<text x="995" y="488.1" font-size="41.5" letter-spacing="0.5" xml:space="preserve">RS III</text>
<text x="995" y="563.0" font-size="41.5" letter-spacing="0.5" xml:space="preserve">RS III NPs</text>
<text x="995" y="637.9" font-size="41.5" letter-spacing="0.5" xml:space="preserve">RS IV</text>
<text x="995" y="709.5" font-size="41.5" letter-spacing="0.5" xml:space="preserve">RS IV NPs</text>
<text x="995" y="784.8" font-size="41.5" letter-spacing="0.5" xml:space="preserve">RS V</text>
<text x="995" y="859.4" font-size="41.5" letter-spacing="0.5" xml:space="preserve">RS V NPs</text>
<text x="76.2" y="62.7" font-size="43.5" text-anchor="end">5</text>
<text x="76.2" y="356.4" font-size="43.5" text-anchor="end">4</text>
<text x="76.2" y="649.9" font-size="43.5" text-anchor="end">3</text>
<text x="76.2" y="943.4" font-size="43.5" text-anchor="end">2</text>
<text x="76.2" y="1237.3" font-size="43.5" text-anchor="end">1</text>
<text x="76.2" y="1531.2" font-size="43.5" text-anchor="end">0</text>
<text x="108.6" y="1579.8" font-size="41.5" text-anchor="middle">301</text>
<text x="245.8" y="1579.8" font-size="41.5" text-anchor="middle">351</text>
<text x="383.1" y="1579.8" font-size="41.5" text-anchor="middle">401</text>
<text x="520.3" y="1579.8" font-size="41.5" text-anchor="middle">451</text>
<text x="657.6" y="1579.8" font-size="41.5" text-anchor="middle">501</text>
<text x="794.8" y="1579.8" font-size="41.5" text-anchor="middle">551</text>
<text x="932.1" y="1579.8" font-size="41.5" text-anchor="middle">601</text>
<text x="1069.3" y="1579.8" font-size="41.5" text-anchor="middle">651</text>
<text x="658" y="1644.8" font-size="50" text-anchor="middle" textLength="247" lengthAdjust="spacingAndGlyphs">Wavelength</text>
<text transform="translate(53,773) rotate(-90)" font-size="50" text-anchor="middle" textLength="248.5" lengthAdjust="spacingAndGlyphs">Absorption</text>
</g>
</svg>
</body></html>
